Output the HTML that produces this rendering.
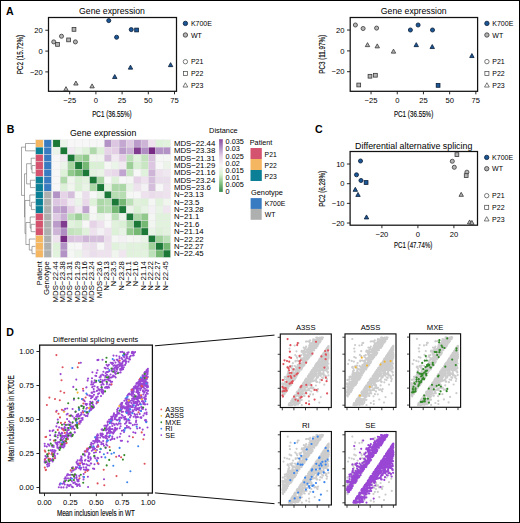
<!DOCTYPE html>
<html><head><meta charset="utf-8"><style>html,body{margin:0;padding:0;background:#fff;}svg{display:block;}</style></head><body>
<svg width="520" height="523" viewBox="0 0 520 523" font-family='"Liberation Sans", sans-serif'>
<rect x="0" y="0" width="520" height="523" fill="#fff"/>
<text x="6.00" y="15.20" font-size="10.6" font-weight="bold" fill="#000">A</text>
<line x1="45.30" y1="30.25" x2="48.50" y2="30.25" stroke="#111" stroke-width="0.9"/>
<text x="42.80" y="32.95" font-size="7.6" text-anchor="end">20</text>
<line x1="45.30" y1="51.10" x2="48.50" y2="51.10" stroke="#111" stroke-width="0.9"/>
<text x="42.80" y="53.80" font-size="7.6" text-anchor="end">0</text>
<line x1="45.30" y1="71.90" x2="48.50" y2="71.90" stroke="#111" stroke-width="0.9"/>
<text x="42.80" y="74.60" font-size="7.6" text-anchor="end">−20</text>
<line x1="69.70" y1="91.30" x2="69.70" y2="94.30" stroke="#111" stroke-width="0.9"/>
<text x="69.70" y="103.20" font-size="7.6" text-anchor="middle">−25</text>
<line x1="95.90" y1="91.30" x2="95.90" y2="94.30" stroke="#111" stroke-width="0.9"/>
<text x="95.90" y="103.20" font-size="7.6" text-anchor="middle">0</text>
<line x1="122.10" y1="91.30" x2="122.10" y2="94.30" stroke="#111" stroke-width="0.9"/>
<text x="122.10" y="103.20" font-size="7.6" text-anchor="middle">25</text>
<line x1="148.30" y1="91.30" x2="148.30" y2="94.30" stroke="#111" stroke-width="0.9"/>
<text x="148.30" y="103.20" font-size="7.6" text-anchor="middle">50</text>
<line x1="174.50" y1="91.30" x2="174.50" y2="94.30" stroke="#111" stroke-width="0.9"/>
<text x="174.50" y="103.20" font-size="7.6" text-anchor="middle">75</text>
<rect x="48.50" y="17.50" width="128.00" height="73.80" fill="none" stroke="#111" stroke-width="1.25"/>
<text x="112.00" y="13.60" font-size="9.4" text-anchor="middle" textLength="65.80" lengthAdjust="spacingAndGlyphs">Gene expression</text>
<text x="111.90" y="117.30" font-size="8.3" text-anchor="middle" textLength="39.40" lengthAdjust="spacingAndGlyphs" stroke="#1a1a1a" stroke-width="0.15">PC1 (36.55%)</text>
<line x1="347.00" y1="30.05" x2="350.20" y2="30.05" stroke="#111" stroke-width="0.9"/>
<text x="344.50" y="32.75" font-size="7.6" text-anchor="end">20</text>
<line x1="347.00" y1="50.90" x2="350.20" y2="50.90" stroke="#111" stroke-width="0.9"/>
<text x="344.50" y="53.60" font-size="7.6" text-anchor="end">0</text>
<line x1="347.00" y1="71.70" x2="350.20" y2="71.70" stroke="#111" stroke-width="0.9"/>
<text x="344.50" y="74.40" font-size="7.6" text-anchor="end">−20</text>
<line x1="371.05" y1="91.30" x2="371.05" y2="94.30" stroke="#111" stroke-width="0.9"/>
<text x="371.05" y="103.20" font-size="7.6" text-anchor="middle">−25</text>
<line x1="397.25" y1="91.30" x2="397.25" y2="94.30" stroke="#111" stroke-width="0.9"/>
<text x="397.25" y="103.20" font-size="7.6" text-anchor="middle">0</text>
<line x1="423.45" y1="91.30" x2="423.45" y2="94.30" stroke="#111" stroke-width="0.9"/>
<text x="423.45" y="103.20" font-size="7.6" text-anchor="middle">25</text>
<line x1="449.65" y1="91.30" x2="449.65" y2="94.30" stroke="#111" stroke-width="0.9"/>
<text x="449.65" y="103.20" font-size="7.6" text-anchor="middle">50</text>
<line x1="475.85" y1="91.30" x2="475.85" y2="94.30" stroke="#111" stroke-width="0.9"/>
<text x="475.85" y="103.20" font-size="7.6" text-anchor="middle">75</text>
<rect x="350.20" y="17.50" width="127.40" height="73.80" fill="none" stroke="#111" stroke-width="1.25"/>
<text x="413.75" y="13.60" font-size="9.4" text-anchor="middle" textLength="65.80" lengthAdjust="spacingAndGlyphs">Gene expression</text>
<text x="413.60" y="117.30" font-size="8.3" text-anchor="middle" textLength="39.40" lengthAdjust="spacingAndGlyphs" stroke="#1a1a1a" stroke-width="0.15">PC1 (36.55%)</text>
<text x="23.10" y="54.60" font-size="8.3" text-anchor="middle" textLength="39.30" lengthAdjust="spacingAndGlyphs" transform="rotate(-90 23.10 54.60)" stroke="#1a1a1a" stroke-width="0.15">PC2 (15.72%)</text>
<text x="324.70" y="54.30" font-size="8.3" text-anchor="middle" textLength="39.00" lengthAdjust="spacingAndGlyphs" transform="rotate(-90 324.70 54.30)" stroke="#1a1a1a" stroke-width="0.15">PC3 (11.97%)</text>
<circle cx="53.75" cy="41.90" r="2.05" fill="#b4b4b4" stroke="#3a3a3a" stroke-width="0.8"/>
<circle cx="61.50" cy="36.25" r="2.05" fill="#b4b4b4" stroke="#3a3a3a" stroke-width="0.8"/>
<circle cx="75.40" cy="41.90" r="2.05" fill="#b4b4b4" stroke="#3a3a3a" stroke-width="0.8"/>
<rect x="55.61" y="42.51" width="3.77" height="3.77" fill="#b4b4b4" stroke="#3a3a3a" stroke-width="0.8"/>
<rect x="66.71" y="38.01" width="3.77" height="3.77" fill="#b4b4b4" stroke="#3a3a3a" stroke-width="0.8"/>
<rect x="72.11" y="27.51" width="3.77" height="3.77" fill="#b4b4b4" stroke="#3a3a3a" stroke-width="0.8"/>
<polygon points="66.00,86.64 68.21,90.64 63.79,90.64" fill="#b4b4b4" stroke="#3a3a3a" stroke-width="0.8" stroke-linejoin="miter"/>
<polygon points="75.90,81.04 78.11,85.04 73.69,85.04" fill="#b4b4b4" stroke="#3a3a3a" stroke-width="0.8" stroke-linejoin="miter"/>
<polygon points="92.10,83.89 94.31,87.89 89.89,87.89" fill="#b4b4b4" stroke="#3a3a3a" stroke-width="0.8" stroke-linejoin="miter"/>
<circle cx="108.75" cy="20.60" r="2.05" fill="#1b5796" stroke="#0b1e38" stroke-width="0.8"/>
<circle cx="116.60" cy="37.25" r="2.05" fill="#1b5796" stroke="#0b1e38" stroke-width="0.8"/>
<circle cx="131.25" cy="29.60" r="2.05" fill="#1b5796" stroke="#0b1e38" stroke-width="0.8"/>
<rect x="134.71" y="28.11" width="3.77" height="3.77" fill="#1b5796" stroke="#0b1e38" stroke-width="0.8"/>
<polygon points="114.75,74.54 116.96,78.54 112.54,78.54" fill="#1b5796" stroke="#0b1e38" stroke-width="0.8" stroke-linejoin="miter"/>
<polygon points="130.50,65.14 132.71,69.14 128.29,69.14" fill="#1b5796" stroke="#0b1e38" stroke-width="0.8" stroke-linejoin="miter"/>
<polygon points="170.60,62.64 172.81,66.64 168.39,66.64" fill="#1b5796" stroke="#0b1e38" stroke-width="0.8" stroke-linejoin="miter"/>
<circle cx="355.40" cy="25.00" r="2.05" fill="#b4b4b4" stroke="#3a3a3a" stroke-width="0.8"/>
<circle cx="363.10" cy="28.50" r="2.05" fill="#b4b4b4" stroke="#3a3a3a" stroke-width="0.8"/>
<circle cx="376.60" cy="28.10" r="2.05" fill="#b4b4b4" stroke="#3a3a3a" stroke-width="0.8"/>
<polygon points="367.50,42.64 369.71,46.64 365.29,46.64" fill="#b4b4b4" stroke="#3a3a3a" stroke-width="0.8" stroke-linejoin="miter"/>
<polygon points="377.25,43.89 379.46,47.89 375.04,47.89" fill="#b4b4b4" stroke="#3a3a3a" stroke-width="0.8" stroke-linejoin="miter"/>
<polygon points="393.50,49.14 395.71,53.14 391.29,53.14" fill="#b4b4b4" stroke="#3a3a3a" stroke-width="0.8" stroke-linejoin="miter"/>
<rect x="368.11" y="74.36" width="3.77" height="3.77" fill="#b4b4b4" stroke="#3a3a3a" stroke-width="0.8"/>
<rect x="373.51" y="73.36" width="3.77" height="3.77" fill="#b4b4b4" stroke="#3a3a3a" stroke-width="0.8"/>
<rect x="356.86" y="83.11" width="3.77" height="3.77" fill="#b4b4b4" stroke="#3a3a3a" stroke-width="0.8"/>
<circle cx="410.40" cy="30.00" r="2.05" fill="#1b5796" stroke="#0b1e38" stroke-width="0.8"/>
<circle cx="418.10" cy="25.00" r="2.05" fill="#1b5796" stroke="#0b1e38" stroke-width="0.8"/>
<circle cx="432.50" cy="30.00" r="2.05" fill="#1b5796" stroke="#0b1e38" stroke-width="0.8"/>
<polygon points="416.25,42.64 418.46,46.64 414.04,46.64" fill="#1b5796" stroke="#0b1e38" stroke-width="0.8" stroke-linejoin="miter"/>
<polygon points="432.25,44.54 434.46,48.54 430.04,48.54" fill="#1b5796" stroke="#0b1e38" stroke-width="0.8" stroke-linejoin="miter"/>
<polygon points="471.90,53.54 474.11,57.54 469.69,57.54" fill="#1b5796" stroke="#0b1e38" stroke-width="0.8" stroke-linejoin="miter"/>
<rect x="436.21" y="83.51" width="3.77" height="3.77" fill="#1b5796" stroke="#0b1e38" stroke-width="0.8"/>
<circle cx="185.40" cy="23.40" r="2.20" fill="#1b5796" stroke="#0b1e38" stroke-width="0.8"/>
<circle cx="185.40" cy="35.00" r="2.20" fill="#b4b4b4" stroke="#3a3a3a" stroke-width="0.8"/>
<circle cx="185.40" cy="61.70" r="2.20" fill="#fff" stroke="#444" stroke-width="0.7"/>
<rect x="183.38" y="71.48" width="4.05" height="4.05" fill="#fff" stroke="#444" stroke-width="0.7"/>
<polygon points="185.40,82.77 187.78,87.06 183.02,87.06" fill="#fff" stroke="#444" stroke-width="0.7" stroke-linejoin="miter"/>
<text x="190.90" y="25.90" font-size="7.0">K700E</text>
<text x="190.90" y="37.50" font-size="7.0">WT</text>
<text x="190.90" y="64.20" font-size="7.0">P21</text>
<text x="190.90" y="76.00" font-size="7.0">P22</text>
<text x="190.90" y="87.80" font-size="7.0">P23</text>
<circle cx="486.90" cy="23.40" r="2.20" fill="#1b5796" stroke="#0b1e38" stroke-width="0.8"/>
<circle cx="486.90" cy="35.00" r="2.20" fill="#b4b4b4" stroke="#3a3a3a" stroke-width="0.8"/>
<circle cx="486.90" cy="61.60" r="2.20" fill="#fff" stroke="#444" stroke-width="0.7"/>
<rect x="484.88" y="71.38" width="4.05" height="4.05" fill="#fff" stroke="#444" stroke-width="0.7"/>
<polygon points="486.90,82.77 489.28,87.06 484.52,87.06" fill="#fff" stroke="#444" stroke-width="0.7" stroke-linejoin="miter"/>
<text x="492.30" y="25.90" font-size="7.0">K700E</text>
<text x="492.30" y="37.50" font-size="7.0">WT</text>
<text x="492.30" y="64.10" font-size="7.0">P21</text>
<text x="492.30" y="75.90" font-size="7.0">P22</text>
<text x="492.30" y="87.80" font-size="7.0">P23</text>
<text x="315.00" y="133.20" font-size="10.6" font-weight="bold" fill="#000">C</text>
<line x1="346.90" y1="164.03" x2="350.10" y2="164.03" stroke="#111" stroke-width="0.9"/>
<text x="344.60" y="166.73" font-size="7.6" text-anchor="end">10</text>
<line x1="346.90" y1="183.70" x2="350.10" y2="183.70" stroke="#111" stroke-width="0.9"/>
<text x="344.60" y="186.40" font-size="7.6" text-anchor="end">0</text>
<line x1="346.90" y1="203.37" x2="350.10" y2="203.37" stroke="#111" stroke-width="0.9"/>
<text x="344.60" y="206.07" font-size="7.6" text-anchor="end">−10</text>
<line x1="346.90" y1="223.04" x2="350.10" y2="223.04" stroke="#111" stroke-width="0.9"/>
<text x="344.60" y="225.74" font-size="7.6" text-anchor="end">−20</text>
<line x1="381.90" y1="225.20" x2="381.90" y2="228.20" stroke="#111" stroke-width="0.9"/>
<text x="381.90" y="236.80" font-size="7.6" text-anchor="middle">−20</text>
<line x1="417.90" y1="225.20" x2="417.90" y2="228.20" stroke="#111" stroke-width="0.9"/>
<text x="417.90" y="236.80" font-size="7.6" text-anchor="middle">0</text>
<line x1="453.90" y1="225.20" x2="453.90" y2="228.20" stroke="#111" stroke-width="0.9"/>
<text x="453.90" y="236.80" font-size="7.6" text-anchor="middle">20</text>
<rect x="350.10" y="151.50" width="127.40" height="73.70" fill="none" stroke="#111" stroke-width="1.25"/>
<text x="413.70" y="148.50" font-size="9.2" text-anchor="middle" textLength="117.30" lengthAdjust="spacingAndGlyphs">Differential alternative splicing</text>
<text x="413.20" y="248.20" font-size="8.3" text-anchor="middle" textLength="38.30" lengthAdjust="spacingAndGlyphs" stroke="#1a1a1a" stroke-width="0.15">PC1 (47.74%)</text>
<text x="324.60" y="188.80" font-size="8.3" text-anchor="middle" textLength="36.00" lengthAdjust="spacingAndGlyphs" transform="rotate(-90 324.60 188.80)" stroke="#1a1a1a" stroke-width="0.15">PC2 (6.28%)</text>
<rect x="455.01" y="152.71" width="3.77" height="3.77" fill="#b4b4b4" stroke="#3a3a3a" stroke-width="0.8"/>
<circle cx="452.30" cy="161.25" r="2.05" fill="#b4b4b4" stroke="#3a3a3a" stroke-width="0.8"/>
<circle cx="454.30" cy="167.30" r="2.05" fill="#b4b4b4" stroke="#3a3a3a" stroke-width="0.8"/>
<circle cx="466.90" cy="172.20" r="2.05" fill="#b4b4b4" stroke="#3a3a3a" stroke-width="0.8"/>
<rect x="464.31" y="173.71" width="3.77" height="3.77" fill="#b4b4b4" stroke="#3a3a3a" stroke-width="0.8"/>
<polygon points="461.20,192.34 463.41,196.34 458.99,196.34" fill="#b4b4b4" stroke="#3a3a3a" stroke-width="0.8" stroke-linejoin="miter"/>
<polygon points="469.60,219.94 471.81,223.94 467.39,223.94" fill="#b4b4b4" stroke="#3a3a3a" stroke-width="0.8" stroke-linejoin="miter"/>
<polygon points="471.90,220.44 474.11,224.44 469.69,224.44" fill="#b4b4b4" stroke="#3a3a3a" stroke-width="0.8" stroke-linejoin="miter"/>
<circle cx="360.50" cy="161.00" r="2.05" fill="#1b5796" stroke="#0b1e38" stroke-width="0.8"/>
<circle cx="356.50" cy="174.80" r="2.05" fill="#1b5796" stroke="#0b1e38" stroke-width="0.8"/>
<circle cx="361.00" cy="180.50" r="2.05" fill="#1b5796" stroke="#0b1e38" stroke-width="0.8"/>
<rect x="364.21" y="180.61" width="3.77" height="3.77" fill="#1b5796" stroke="#0b1e38" stroke-width="0.8"/>
<polygon points="355.30,187.34 357.51,191.34 353.09,191.34" fill="#1b5796" stroke="#0b1e38" stroke-width="0.8" stroke-linejoin="miter"/>
<polygon points="358.00,192.44 360.21,196.44 355.79,196.44" fill="#1b5796" stroke="#0b1e38" stroke-width="0.8" stroke-linejoin="miter"/>
<polygon points="366.50,214.94 368.71,218.94 364.29,218.94" fill="#1b5796" stroke="#0b1e38" stroke-width="0.8" stroke-linejoin="miter"/>
<circle cx="486.70" cy="157.40" r="2.20" fill="#1b5796" stroke="#0b1e38" stroke-width="0.8"/>
<circle cx="486.70" cy="168.70" r="2.20" fill="#b4b4b4" stroke="#3a3a3a" stroke-width="0.8"/>
<circle cx="486.70" cy="195.70" r="2.20" fill="#fff" stroke="#444" stroke-width="0.7"/>
<rect x="484.68" y="205.28" width="4.05" height="4.05" fill="#fff" stroke="#444" stroke-width="0.7"/>
<polygon points="486.70,216.67 489.08,220.96 484.32,220.96" fill="#fff" stroke="#444" stroke-width="0.7" stroke-linejoin="miter"/>
<text x="492.10" y="159.90" font-size="7.0">K700E</text>
<text x="492.10" y="171.20" font-size="7.0">WT</text>
<text x="492.10" y="198.20" font-size="7.0">P21</text>
<text x="492.10" y="209.80" font-size="7.0">P22</text>
<text x="492.10" y="221.70" font-size="7.0">P23</text>
<text x="6.70" y="133.20" font-size="10.6" font-weight="bold" fill="#000">B</text>
<text x="70.00" y="136.20" font-size="9.4" textLength="66.30" lengthAdjust="spacingAndGlyphs">Gene expression</text>
<rect x="52.90" y="139.80" width="7.35" height="7.35" fill="#1b7837" stroke="#e6e6e6" stroke-width="0.35"/>
<rect x="60.25" y="139.80" width="7.35" height="7.35" fill="#eaf4e8" stroke="#e6e6e6" stroke-width="0.35"/>
<rect x="67.60" y="139.80" width="7.35" height="7.35" fill="#f7f7f7" stroke="#e6e6e6" stroke-width="0.35"/>
<rect x="74.95" y="139.80" width="7.35" height="7.35" fill="#f7f7f7" stroke="#e6e6e6" stroke-width="0.35"/>
<rect x="82.30" y="139.80" width="7.35" height="7.35" fill="#f7f7f7" stroke="#e6e6e6" stroke-width="0.35"/>
<rect x="89.65" y="139.80" width="7.35" height="7.35" fill="#f7f7f7" stroke="#e6e6e6" stroke-width="0.35"/>
<rect x="97.00" y="139.80" width="7.35" height="7.35" fill="#f7f7f7" stroke="#e6e6e6" stroke-width="0.35"/>
<rect x="104.35" y="139.80" width="7.35" height="7.35" fill="#b393c6" stroke="#e6e6e6" stroke-width="0.35"/>
<rect x="111.70" y="139.80" width="7.35" height="7.35" fill="#dcc6e1" stroke="#e6e6e6" stroke-width="0.35"/>
<rect x="119.05" y="139.80" width="7.35" height="7.35" fill="#c4a8d1" stroke="#e6e6e6" stroke-width="0.35"/>
<rect x="126.40" y="139.80" width="7.35" height="7.35" fill="#dfcae3" stroke="#e6e6e6" stroke-width="0.35"/>
<rect x="133.75" y="139.80" width="7.35" height="7.35" fill="#ba9bca" stroke="#e6e6e6" stroke-width="0.35"/>
<rect x="141.10" y="139.80" width="7.35" height="7.35" fill="#ceb5d8" stroke="#e6e6e6" stroke-width="0.35"/>
<rect x="148.45" y="139.80" width="7.35" height="7.35" fill="#ede2ee" stroke="#e6e6e6" stroke-width="0.35"/>
<rect x="155.80" y="139.80" width="7.35" height="7.35" fill="#def1d9" stroke="#e6e6e6" stroke-width="0.35"/>
<rect x="163.15" y="139.80" width="7.35" height="7.35" fill="#e1f2dd" stroke="#e6e6e6" stroke-width="0.35"/>
<rect x="52.90" y="147.15" width="7.35" height="7.35" fill="#eaf4e8" stroke="#e6e6e6" stroke-width="0.35"/>
<rect x="60.25" y="147.15" width="7.35" height="7.35" fill="#1b7837" stroke="#e6e6e6" stroke-width="0.35"/>
<rect x="67.60" y="147.15" width="7.35" height="7.35" fill="#f1eaf2" stroke="#e6e6e6" stroke-width="0.35"/>
<rect x="74.95" y="147.15" width="7.35" height="7.35" fill="#eaf4e8" stroke="#e6e6e6" stroke-width="0.35"/>
<rect x="82.30" y="147.15" width="7.35" height="7.35" fill="#def1d9" stroke="#e6e6e6" stroke-width="0.35"/>
<rect x="89.65" y="147.15" width="7.35" height="7.35" fill="#b1daac" stroke="#e6e6e6" stroke-width="0.35"/>
<rect x="97.00" y="147.15" width="7.35" height="7.35" fill="#dcf1d7" stroke="#e6e6e6" stroke-width="0.35"/>
<rect x="104.35" y="147.15" width="7.35" height="7.35" fill="#e6d3e7" stroke="#e6e6e6" stroke-width="0.35"/>
<rect x="111.70" y="147.15" width="7.35" height="7.35" fill="#e3cee5" stroke="#e6e6e6" stroke-width="0.35"/>
<rect x="119.05" y="147.15" width="7.35" height="7.35" fill="#ba9bca" stroke="#e6e6e6" stroke-width="0.35"/>
<rect x="126.40" y="147.15" width="7.35" height="7.35" fill="#cbb0d6" stroke="#e6e6e6" stroke-width="0.35"/>
<rect x="133.75" y="147.15" width="7.35" height="7.35" fill="#803c8f" stroke="#e6e6e6" stroke-width="0.35"/>
<rect x="141.10" y="147.15" width="7.35" height="7.35" fill="#b08ec4" stroke="#e6e6e6" stroke-width="0.35"/>
<rect x="148.45" y="147.15" width="7.35" height="7.35" fill="#762a83" stroke="#e6e6e6" stroke-width="0.35"/>
<rect x="155.80" y="147.15" width="7.35" height="7.35" fill="#b393c6" stroke="#e6e6e6" stroke-width="0.35"/>
<rect x="163.15" y="147.15" width="7.35" height="7.35" fill="#b393c6" stroke="#e6e6e6" stroke-width="0.35"/>
<rect x="52.90" y="154.50" width="7.35" height="7.35" fill="#f7f7f7" stroke="#e6e6e6" stroke-width="0.35"/>
<rect x="60.25" y="154.50" width="7.35" height="7.35" fill="#f1eaf2" stroke="#e6e6e6" stroke-width="0.35"/>
<rect x="67.60" y="154.50" width="7.35" height="7.35" fill="#1b7837" stroke="#e6e6e6" stroke-width="0.35"/>
<rect x="74.95" y="154.50" width="7.35" height="7.35" fill="#a7d5a2" stroke="#e6e6e6" stroke-width="0.35"/>
<rect x="82.30" y="154.50" width="7.35" height="7.35" fill="#91c98d" stroke="#e6e6e6" stroke-width="0.35"/>
<rect x="89.65" y="154.50" width="7.35" height="7.35" fill="#f0f5ee" stroke="#e6e6e6" stroke-width="0.35"/>
<rect x="97.00" y="154.50" width="7.35" height="7.35" fill="#f0f5ee" stroke="#e6e6e6" stroke-width="0.35"/>
<rect x="104.35" y="154.50" width="7.35" height="7.35" fill="#d5bddc" stroke="#e6e6e6" stroke-width="0.35"/>
<rect x="111.70" y="154.50" width="7.35" height="7.35" fill="#f1eaf2" stroke="#e6e6e6" stroke-width="0.35"/>
<rect x="119.05" y="154.50" width="7.35" height="7.35" fill="#e3cee5" stroke="#e6e6e6" stroke-width="0.35"/>
<rect x="126.40" y="154.50" width="7.35" height="7.35" fill="#bce0b7" stroke="#e6e6e6" stroke-width="0.35"/>
<rect x="133.75" y="154.50" width="7.35" height="7.35" fill="#e1f2dd" stroke="#e6e6e6" stroke-width="0.35"/>
<rect x="141.10" y="154.50" width="7.35" height="7.35" fill="#c2e3bc" stroke="#e6e6e6" stroke-width="0.35"/>
<rect x="148.45" y="154.50" width="7.35" height="7.35" fill="#d8c2de" stroke="#e6e6e6" stroke-width="0.35"/>
<rect x="155.80" y="154.50" width="7.35" height="7.35" fill="#f5f7f5" stroke="#e6e6e6" stroke-width="0.35"/>
<rect x="163.15" y="154.50" width="7.35" height="7.35" fill="#f5f7f5" stroke="#e6e6e6" stroke-width="0.35"/>
<rect x="52.90" y="161.85" width="7.35" height="7.35" fill="#f7f7f7" stroke="#e6e6e6" stroke-width="0.35"/>
<rect x="60.25" y="161.85" width="7.35" height="7.35" fill="#eaf4e8" stroke="#e6e6e6" stroke-width="0.35"/>
<rect x="67.60" y="161.85" width="7.35" height="7.35" fill="#a7d5a2" stroke="#e6e6e6" stroke-width="0.35"/>
<rect x="74.95" y="161.85" width="7.35" height="7.35" fill="#1b7837" stroke="#e6e6e6" stroke-width="0.35"/>
<rect x="82.30" y="161.85" width="7.35" height="7.35" fill="#75b874" stroke="#e6e6e6" stroke-width="0.35"/>
<rect x="89.65" y="161.85" width="7.35" height="7.35" fill="#daf0d4" stroke="#e6e6e6" stroke-width="0.35"/>
<rect x="97.00" y="161.85" width="7.35" height="7.35" fill="#daf0d4" stroke="#e6e6e6" stroke-width="0.35"/>
<rect x="104.35" y="161.85" width="7.35" height="7.35" fill="#f5f7f5" stroke="#e6e6e6" stroke-width="0.35"/>
<rect x="111.70" y="161.85" width="7.35" height="7.35" fill="#eaf4e8" stroke="#e6e6e6" stroke-width="0.35"/>
<rect x="119.05" y="161.85" width="7.35" height="7.35" fill="#f1eaf2" stroke="#e6e6e6" stroke-width="0.35"/>
<rect x="126.40" y="161.85" width="7.35" height="7.35" fill="#9ccf97" stroke="#e6e6e6" stroke-width="0.35"/>
<rect x="133.75" y="161.85" width="7.35" height="7.35" fill="#daf0d4" stroke="#e6e6e6" stroke-width="0.35"/>
<rect x="141.10" y="161.85" width="7.35" height="7.35" fill="#c7e6c1" stroke="#e6e6e6" stroke-width="0.35"/>
<rect x="148.45" y="161.85" width="7.35" height="7.35" fill="#dcc6e1" stroke="#e6e6e6" stroke-width="0.35"/>
<rect x="155.80" y="161.85" width="7.35" height="7.35" fill="#f7f7f7" stroke="#e6e6e6" stroke-width="0.35"/>
<rect x="163.15" y="161.85" width="7.35" height="7.35" fill="#ecf4ea" stroke="#e6e6e6" stroke-width="0.35"/>
<rect x="52.90" y="169.20" width="7.35" height="7.35" fill="#f7f7f7" stroke="#e6e6e6" stroke-width="0.35"/>
<rect x="60.25" y="169.20" width="7.35" height="7.35" fill="#def1d9" stroke="#e6e6e6" stroke-width="0.35"/>
<rect x="67.60" y="169.20" width="7.35" height="7.35" fill="#91c98d" stroke="#e6e6e6" stroke-width="0.35"/>
<rect x="74.95" y="169.20" width="7.35" height="7.35" fill="#75b874" stroke="#e6e6e6" stroke-width="0.35"/>
<rect x="82.30" y="169.20" width="7.35" height="7.35" fill="#1b7837" stroke="#e6e6e6" stroke-width="0.35"/>
<rect x="89.65" y="169.20" width="7.35" height="7.35" fill="#e3f2df" stroke="#e6e6e6" stroke-width="0.35"/>
<rect x="97.00" y="169.20" width="7.35" height="7.35" fill="#e9f4e6" stroke="#e6e6e6" stroke-width="0.35"/>
<rect x="104.35" y="169.20" width="7.35" height="7.35" fill="#ebdeec" stroke="#e6e6e6" stroke-width="0.35"/>
<rect x="111.70" y="169.20" width="7.35" height="7.35" fill="#e9d8ea" stroke="#e6e6e6" stroke-width="0.35"/>
<rect x="119.05" y="169.20" width="7.35" height="7.35" fill="#c1a4cf" stroke="#e6e6e6" stroke-width="0.35"/>
<rect x="126.40" y="169.20" width="7.35" height="7.35" fill="#c7e6c1" stroke="#e6e6e6" stroke-width="0.35"/>
<rect x="133.75" y="169.20" width="7.35" height="7.35" fill="#f7f7f7" stroke="#e6e6e6" stroke-width="0.35"/>
<rect x="141.10" y="169.20" width="7.35" height="7.35" fill="#e0f2db" stroke="#e6e6e6" stroke-width="0.35"/>
<rect x="148.45" y="169.20" width="7.35" height="7.35" fill="#ceb5d8" stroke="#e6e6e6" stroke-width="0.35"/>
<rect x="155.80" y="169.20" width="7.35" height="7.35" fill="#ede2ee" stroke="#e6e6e6" stroke-width="0.35"/>
<rect x="163.15" y="169.20" width="7.35" height="7.35" fill="#f0e8f1" stroke="#e6e6e6" stroke-width="0.35"/>
<rect x="52.90" y="176.55" width="7.35" height="7.35" fill="#f7f7f7" stroke="#e6e6e6" stroke-width="0.35"/>
<rect x="60.25" y="176.55" width="7.35" height="7.35" fill="#b1daac" stroke="#e6e6e6" stroke-width="0.35"/>
<rect x="67.60" y="176.55" width="7.35" height="7.35" fill="#f0f5ee" stroke="#e6e6e6" stroke-width="0.35"/>
<rect x="74.95" y="176.55" width="7.35" height="7.35" fill="#daf0d4" stroke="#e6e6e6" stroke-width="0.35"/>
<rect x="82.30" y="176.55" width="7.35" height="7.35" fill="#e3f2df" stroke="#e6e6e6" stroke-width="0.35"/>
<rect x="89.65" y="176.55" width="7.35" height="7.35" fill="#1b7837" stroke="#e6e6e6" stroke-width="0.35"/>
<rect x="97.00" y="176.55" width="7.35" height="7.35" fill="#acd8a7" stroke="#e6e6e6" stroke-width="0.35"/>
<rect x="104.35" y="176.55" width="7.35" height="7.35" fill="#f7f7f7" stroke="#e6e6e6" stroke-width="0.35"/>
<rect x="111.70" y="176.55" width="7.35" height="7.35" fill="#def1d9" stroke="#e6e6e6" stroke-width="0.35"/>
<rect x="119.05" y="176.55" width="7.35" height="7.35" fill="#f7f7f7" stroke="#e6e6e6" stroke-width="0.35"/>
<rect x="126.40" y="176.55" width="7.35" height="7.35" fill="#f3f6f3" stroke="#e6e6e6" stroke-width="0.35"/>
<rect x="133.75" y="176.55" width="7.35" height="7.35" fill="#e6d3e7" stroke="#e6e6e6" stroke-width="0.35"/>
<rect x="141.10" y="176.55" width="7.35" height="7.35" fill="#ede2ee" stroke="#e6e6e6" stroke-width="0.35"/>
<rect x="148.45" y="176.55" width="7.35" height="7.35" fill="#d5bddc" stroke="#e6e6e6" stroke-width="0.35"/>
<rect x="155.80" y="176.55" width="7.35" height="7.35" fill="#ebdeec" stroke="#e6e6e6" stroke-width="0.35"/>
<rect x="163.15" y="176.55" width="7.35" height="7.35" fill="#ebdeec" stroke="#e6e6e6" stroke-width="0.35"/>
<rect x="52.90" y="183.90" width="7.35" height="7.35" fill="#f7f7f7" stroke="#e6e6e6" stroke-width="0.35"/>
<rect x="60.25" y="183.90" width="7.35" height="7.35" fill="#dcf1d7" stroke="#e6e6e6" stroke-width="0.35"/>
<rect x="67.60" y="183.90" width="7.35" height="7.35" fill="#f0f5ee" stroke="#e6e6e6" stroke-width="0.35"/>
<rect x="74.95" y="183.90" width="7.35" height="7.35" fill="#daf0d4" stroke="#e6e6e6" stroke-width="0.35"/>
<rect x="82.30" y="183.90" width="7.35" height="7.35" fill="#e9f4e6" stroke="#e6e6e6" stroke-width="0.35"/>
<rect x="89.65" y="183.90" width="7.35" height="7.35" fill="#acd8a7" stroke="#e6e6e6" stroke-width="0.35"/>
<rect x="97.00" y="183.90" width="7.35" height="7.35" fill="#1b7837" stroke="#e6e6e6" stroke-width="0.35"/>
<rect x="104.35" y="183.90" width="7.35" height="7.35" fill="#e5f3e1" stroke="#e6e6e6" stroke-width="0.35"/>
<rect x="111.70" y="183.90" width="7.35" height="7.35" fill="#acd8a7" stroke="#e6e6e6" stroke-width="0.35"/>
<rect x="119.05" y="183.90" width="7.35" height="7.35" fill="#acd8a7" stroke="#e6e6e6" stroke-width="0.35"/>
<rect x="126.40" y="183.90" width="7.35" height="7.35" fill="#e7f3e4" stroke="#e6e6e6" stroke-width="0.35"/>
<rect x="133.75" y="183.90" width="7.35" height="7.35" fill="#ede2ee" stroke="#e6e6e6" stroke-width="0.35"/>
<rect x="141.10" y="183.90" width="7.35" height="7.35" fill="#f4f1f4" stroke="#e6e6e6" stroke-width="0.35"/>
<rect x="148.45" y="183.90" width="7.35" height="7.35" fill="#d5bddc" stroke="#e6e6e6" stroke-width="0.35"/>
<rect x="155.80" y="183.90" width="7.35" height="7.35" fill="#f7f7f7" stroke="#e6e6e6" stroke-width="0.35"/>
<rect x="163.15" y="183.90" width="7.35" height="7.35" fill="#ede2ee" stroke="#e6e6e6" stroke-width="0.35"/>
<rect x="52.90" y="191.25" width="7.35" height="7.35" fill="#b393c6" stroke="#e6e6e6" stroke-width="0.35"/>
<rect x="60.25" y="191.25" width="7.35" height="7.35" fill="#e6d3e7" stroke="#e6e6e6" stroke-width="0.35"/>
<rect x="67.60" y="191.25" width="7.35" height="7.35" fill="#d5bddc" stroke="#e6e6e6" stroke-width="0.35"/>
<rect x="74.95" y="191.25" width="7.35" height="7.35" fill="#f5f7f5" stroke="#e6e6e6" stroke-width="0.35"/>
<rect x="82.30" y="191.25" width="7.35" height="7.35" fill="#ebdeec" stroke="#e6e6e6" stroke-width="0.35"/>
<rect x="89.65" y="191.25" width="7.35" height="7.35" fill="#f7f7f7" stroke="#e6e6e6" stroke-width="0.35"/>
<rect x="97.00" y="191.25" width="7.35" height="7.35" fill="#e5f3e1" stroke="#e6e6e6" stroke-width="0.35"/>
<rect x="104.35" y="191.25" width="7.35" height="7.35" fill="#1b7837" stroke="#e6e6e6" stroke-width="0.35"/>
<rect x="111.70" y="191.25" width="7.35" height="7.35" fill="#b7ddb2" stroke="#e6e6e6" stroke-width="0.35"/>
<rect x="119.05" y="191.25" width="7.35" height="7.35" fill="#b7ddb2" stroke="#e6e6e6" stroke-width="0.35"/>
<rect x="126.40" y="191.25" width="7.35" height="7.35" fill="#f5f7f5" stroke="#e6e6e6" stroke-width="0.35"/>
<rect x="133.75" y="191.25" width="7.35" height="7.35" fill="#f7f7f7" stroke="#e6e6e6" stroke-width="0.35"/>
<rect x="141.10" y="191.25" width="7.35" height="7.35" fill="#ede2ee" stroke="#e6e6e6" stroke-width="0.35"/>
<rect x="148.45" y="191.25" width="7.35" height="7.35" fill="#ebdceb" stroke="#e6e6e6" stroke-width="0.35"/>
<rect x="155.80" y="191.25" width="7.35" height="7.35" fill="#ece0ed" stroke="#e6e6e6" stroke-width="0.35"/>
<rect x="163.15" y="191.25" width="7.35" height="7.35" fill="#ede2ee" stroke="#e6e6e6" stroke-width="0.35"/>
<rect x="52.90" y="198.60" width="7.35" height="7.35" fill="#dcc6e1" stroke="#e6e6e6" stroke-width="0.35"/>
<rect x="60.25" y="198.60" width="7.35" height="7.35" fill="#e3cee5" stroke="#e6e6e6" stroke-width="0.35"/>
<rect x="67.60" y="198.60" width="7.35" height="7.35" fill="#f1eaf2" stroke="#e6e6e6" stroke-width="0.35"/>
<rect x="74.95" y="198.60" width="7.35" height="7.35" fill="#eaf4e8" stroke="#e6e6e6" stroke-width="0.35"/>
<rect x="82.30" y="198.60" width="7.35" height="7.35" fill="#e9d8ea" stroke="#e6e6e6" stroke-width="0.35"/>
<rect x="89.65" y="198.60" width="7.35" height="7.35" fill="#def1d9" stroke="#e6e6e6" stroke-width="0.35"/>
<rect x="97.00" y="198.60" width="7.35" height="7.35" fill="#acd8a7" stroke="#e6e6e6" stroke-width="0.35"/>
<rect x="104.35" y="198.60" width="7.35" height="7.35" fill="#b7ddb2" stroke="#e6e6e6" stroke-width="0.35"/>
<rect x="111.70" y="198.60" width="7.35" height="7.35" fill="#1b7837" stroke="#e6e6e6" stroke-width="0.35"/>
<rect x="119.05" y="198.60" width="7.35" height="7.35" fill="#75b874" stroke="#e6e6e6" stroke-width="0.35"/>
<rect x="126.40" y="198.60" width="7.35" height="7.35" fill="#bce0b7" stroke="#e6e6e6" stroke-width="0.35"/>
<rect x="133.75" y="198.60" width="7.35" height="7.35" fill="#e0f2db" stroke="#e6e6e6" stroke-width="0.35"/>
<rect x="141.10" y="198.60" width="7.35" height="7.35" fill="#dcf1d7" stroke="#e6e6e6" stroke-width="0.35"/>
<rect x="148.45" y="198.60" width="7.35" height="7.35" fill="#f3f6f3" stroke="#e6e6e6" stroke-width="0.35"/>
<rect x="155.80" y="198.60" width="7.35" height="7.35" fill="#e0f2db" stroke="#e6e6e6" stroke-width="0.35"/>
<rect x="163.15" y="198.60" width="7.35" height="7.35" fill="#f0f5ee" stroke="#e6e6e6" stroke-width="0.35"/>
<rect x="52.90" y="205.95" width="7.35" height="7.35" fill="#c4a8d1" stroke="#e6e6e6" stroke-width="0.35"/>
<rect x="60.25" y="205.95" width="7.35" height="7.35" fill="#ba9bca" stroke="#e6e6e6" stroke-width="0.35"/>
<rect x="67.60" y="205.95" width="7.35" height="7.35" fill="#e3cee5" stroke="#e6e6e6" stroke-width="0.35"/>
<rect x="74.95" y="205.95" width="7.35" height="7.35" fill="#f1eaf2" stroke="#e6e6e6" stroke-width="0.35"/>
<rect x="82.30" y="205.95" width="7.35" height="7.35" fill="#c1a4cf" stroke="#e6e6e6" stroke-width="0.35"/>
<rect x="89.65" y="205.95" width="7.35" height="7.35" fill="#f7f7f7" stroke="#e6e6e6" stroke-width="0.35"/>
<rect x="97.00" y="205.95" width="7.35" height="7.35" fill="#acd8a7" stroke="#e6e6e6" stroke-width="0.35"/>
<rect x="104.35" y="205.95" width="7.35" height="7.35" fill="#b7ddb2" stroke="#e6e6e6" stroke-width="0.35"/>
<rect x="111.70" y="205.95" width="7.35" height="7.35" fill="#75b874" stroke="#e6e6e6" stroke-width="0.35"/>
<rect x="119.05" y="205.95" width="7.35" height="7.35" fill="#1b7837" stroke="#e6e6e6" stroke-width="0.35"/>
<rect x="126.40" y="205.95" width="7.35" height="7.35" fill="#ecf4ea" stroke="#e6e6e6" stroke-width="0.35"/>
<rect x="133.75" y="205.95" width="7.35" height="7.35" fill="#daf0d4" stroke="#e6e6e6" stroke-width="0.35"/>
<rect x="141.10" y="205.95" width="7.35" height="7.35" fill="#e7f3e4" stroke="#e6e6e6" stroke-width="0.35"/>
<rect x="148.45" y="205.95" width="7.35" height="7.35" fill="#f4f1f4" stroke="#e6e6e6" stroke-width="0.35"/>
<rect x="155.80" y="205.95" width="7.35" height="7.35" fill="#e7f3e4" stroke="#e6e6e6" stroke-width="0.35"/>
<rect x="163.15" y="205.95" width="7.35" height="7.35" fill="#efe6f0" stroke="#e6e6e6" stroke-width="0.35"/>
<rect x="52.90" y="213.30" width="7.35" height="7.35" fill="#dfcae3" stroke="#e6e6e6" stroke-width="0.35"/>
<rect x="60.25" y="213.30" width="7.35" height="7.35" fill="#cbb0d6" stroke="#e6e6e6" stroke-width="0.35"/>
<rect x="67.60" y="213.30" width="7.35" height="7.35" fill="#bce0b7" stroke="#e6e6e6" stroke-width="0.35"/>
<rect x="74.95" y="213.30" width="7.35" height="7.35" fill="#9ccf97" stroke="#e6e6e6" stroke-width="0.35"/>
<rect x="82.30" y="213.30" width="7.35" height="7.35" fill="#c7e6c1" stroke="#e6e6e6" stroke-width="0.35"/>
<rect x="89.65" y="213.30" width="7.35" height="7.35" fill="#f3f6f3" stroke="#e6e6e6" stroke-width="0.35"/>
<rect x="97.00" y="213.30" width="7.35" height="7.35" fill="#e7f3e4" stroke="#e6e6e6" stroke-width="0.35"/>
<rect x="104.35" y="213.30" width="7.35" height="7.35" fill="#f5f7f5" stroke="#e6e6e6" stroke-width="0.35"/>
<rect x="111.70" y="213.30" width="7.35" height="7.35" fill="#bce0b7" stroke="#e6e6e6" stroke-width="0.35"/>
<rect x="119.05" y="213.30" width="7.35" height="7.35" fill="#ecf4ea" stroke="#e6e6e6" stroke-width="0.35"/>
<rect x="126.40" y="213.30" width="7.35" height="7.35" fill="#1b7837" stroke="#e6e6e6" stroke-width="0.35"/>
<rect x="133.75" y="213.30" width="7.35" height="7.35" fill="#acd8a7" stroke="#e6e6e6" stroke-width="0.35"/>
<rect x="141.10" y="213.30" width="7.35" height="7.35" fill="#91c98d" stroke="#e6e6e6" stroke-width="0.35"/>
<rect x="148.45" y="213.30" width="7.35" height="7.35" fill="#f3f6f3" stroke="#e6e6e6" stroke-width="0.35"/>
<rect x="155.80" y="213.30" width="7.35" height="7.35" fill="#e0f2db" stroke="#e6e6e6" stroke-width="0.35"/>
<rect x="163.15" y="213.30" width="7.35" height="7.35" fill="#e0f2db" stroke="#e6e6e6" stroke-width="0.35"/>
<rect x="52.90" y="220.65" width="7.35" height="7.35" fill="#ba9bca" stroke="#e6e6e6" stroke-width="0.35"/>
<rect x="60.25" y="220.65" width="7.35" height="7.35" fill="#803c8f" stroke="#e6e6e6" stroke-width="0.35"/>
<rect x="67.60" y="220.65" width="7.35" height="7.35" fill="#e1f2dd" stroke="#e6e6e6" stroke-width="0.35"/>
<rect x="74.95" y="220.65" width="7.35" height="7.35" fill="#daf0d4" stroke="#e6e6e6" stroke-width="0.35"/>
<rect x="82.30" y="220.65" width="7.35" height="7.35" fill="#f7f7f7" stroke="#e6e6e6" stroke-width="0.35"/>
<rect x="89.65" y="220.65" width="7.35" height="7.35" fill="#e6d3e7" stroke="#e6e6e6" stroke-width="0.35"/>
<rect x="97.00" y="220.65" width="7.35" height="7.35" fill="#ede2ee" stroke="#e6e6e6" stroke-width="0.35"/>
<rect x="104.35" y="220.65" width="7.35" height="7.35" fill="#f7f7f7" stroke="#e6e6e6" stroke-width="0.35"/>
<rect x="111.70" y="220.65" width="7.35" height="7.35" fill="#e0f2db" stroke="#e6e6e6" stroke-width="0.35"/>
<rect x="119.05" y="220.65" width="7.35" height="7.35" fill="#daf0d4" stroke="#e6e6e6" stroke-width="0.35"/>
<rect x="126.40" y="220.65" width="7.35" height="7.35" fill="#acd8a7" stroke="#e6e6e6" stroke-width="0.35"/>
<rect x="133.75" y="220.65" width="7.35" height="7.35" fill="#1b7837" stroke="#e6e6e6" stroke-width="0.35"/>
<rect x="141.10" y="220.65" width="7.35" height="7.35" fill="#75b874" stroke="#e6e6e6" stroke-width="0.35"/>
<rect x="148.45" y="220.65" width="7.35" height="7.35" fill="#f2f6f1" stroke="#e6e6e6" stroke-width="0.35"/>
<rect x="155.80" y="220.65" width="7.35" height="7.35" fill="#e1f2dd" stroke="#e6e6e6" stroke-width="0.35"/>
<rect x="163.15" y="220.65" width="7.35" height="7.35" fill="#e1f2dd" stroke="#e6e6e6" stroke-width="0.35"/>
<rect x="52.90" y="228.00" width="7.35" height="7.35" fill="#ceb5d8" stroke="#e6e6e6" stroke-width="0.35"/>
<rect x="60.25" y="228.00" width="7.35" height="7.35" fill="#b08ec4" stroke="#e6e6e6" stroke-width="0.35"/>
<rect x="67.60" y="228.00" width="7.35" height="7.35" fill="#c2e3bc" stroke="#e6e6e6" stroke-width="0.35"/>
<rect x="74.95" y="228.00" width="7.35" height="7.35" fill="#c7e6c1" stroke="#e6e6e6" stroke-width="0.35"/>
<rect x="82.30" y="228.00" width="7.35" height="7.35" fill="#e0f2db" stroke="#e6e6e6" stroke-width="0.35"/>
<rect x="89.65" y="228.00" width="7.35" height="7.35" fill="#ede2ee" stroke="#e6e6e6" stroke-width="0.35"/>
<rect x="97.00" y="228.00" width="7.35" height="7.35" fill="#f4f1f4" stroke="#e6e6e6" stroke-width="0.35"/>
<rect x="104.35" y="228.00" width="7.35" height="7.35" fill="#ede2ee" stroke="#e6e6e6" stroke-width="0.35"/>
<rect x="111.70" y="228.00" width="7.35" height="7.35" fill="#dcf1d7" stroke="#e6e6e6" stroke-width="0.35"/>
<rect x="119.05" y="228.00" width="7.35" height="7.35" fill="#e7f3e4" stroke="#e6e6e6" stroke-width="0.35"/>
<rect x="126.40" y="228.00" width="7.35" height="7.35" fill="#91c98d" stroke="#e6e6e6" stroke-width="0.35"/>
<rect x="133.75" y="228.00" width="7.35" height="7.35" fill="#75b874" stroke="#e6e6e6" stroke-width="0.35"/>
<rect x="141.10" y="228.00" width="7.35" height="7.35" fill="#1b7837" stroke="#e6e6e6" stroke-width="0.35"/>
<rect x="148.45" y="228.00" width="7.35" height="7.35" fill="#e9f4e6" stroke="#e6e6e6" stroke-width="0.35"/>
<rect x="155.80" y="228.00" width="7.35" height="7.35" fill="#dcf1d7" stroke="#e6e6e6" stroke-width="0.35"/>
<rect x="163.15" y="228.00" width="7.35" height="7.35" fill="#e3f2df" stroke="#e6e6e6" stroke-width="0.35"/>
<rect x="52.90" y="235.35" width="7.35" height="7.35" fill="#ede2ee" stroke="#e6e6e6" stroke-width="0.35"/>
<rect x="60.25" y="235.35" width="7.35" height="7.35" fill="#762a83" stroke="#e6e6e6" stroke-width="0.35"/>
<rect x="67.60" y="235.35" width="7.35" height="7.35" fill="#d8c2de" stroke="#e6e6e6" stroke-width="0.35"/>
<rect x="74.95" y="235.35" width="7.35" height="7.35" fill="#dcc6e1" stroke="#e6e6e6" stroke-width="0.35"/>
<rect x="82.30" y="235.35" width="7.35" height="7.35" fill="#ceb5d8" stroke="#e6e6e6" stroke-width="0.35"/>
<rect x="89.65" y="235.35" width="7.35" height="7.35" fill="#d5bddc" stroke="#e6e6e6" stroke-width="0.35"/>
<rect x="97.00" y="235.35" width="7.35" height="7.35" fill="#d5bddc" stroke="#e6e6e6" stroke-width="0.35"/>
<rect x="104.35" y="235.35" width="7.35" height="7.35" fill="#ebdceb" stroke="#e6e6e6" stroke-width="0.35"/>
<rect x="111.70" y="235.35" width="7.35" height="7.35" fill="#f3f6f3" stroke="#e6e6e6" stroke-width="0.35"/>
<rect x="119.05" y="235.35" width="7.35" height="7.35" fill="#f4f1f4" stroke="#e6e6e6" stroke-width="0.35"/>
<rect x="126.40" y="235.35" width="7.35" height="7.35" fill="#f3f6f3" stroke="#e6e6e6" stroke-width="0.35"/>
<rect x="133.75" y="235.35" width="7.35" height="7.35" fill="#f2f6f1" stroke="#e6e6e6" stroke-width="0.35"/>
<rect x="141.10" y="235.35" width="7.35" height="7.35" fill="#e9f4e6" stroke="#e6e6e6" stroke-width="0.35"/>
<rect x="148.45" y="235.35" width="7.35" height="7.35" fill="#1b7837" stroke="#e6e6e6" stroke-width="0.35"/>
<rect x="155.80" y="235.35" width="7.35" height="7.35" fill="#a1d29c" stroke="#e6e6e6" stroke-width="0.35"/>
<rect x="163.15" y="235.35" width="7.35" height="7.35" fill="#bce0b7" stroke="#e6e6e6" stroke-width="0.35"/>
<rect x="52.90" y="242.70" width="7.35" height="7.35" fill="#def1d9" stroke="#e6e6e6" stroke-width="0.35"/>
<rect x="60.25" y="242.70" width="7.35" height="7.35" fill="#b393c6" stroke="#e6e6e6" stroke-width="0.35"/>
<rect x="67.60" y="242.70" width="7.35" height="7.35" fill="#f5f7f5" stroke="#e6e6e6" stroke-width="0.35"/>
<rect x="74.95" y="242.70" width="7.35" height="7.35" fill="#f7f7f7" stroke="#e6e6e6" stroke-width="0.35"/>
<rect x="82.30" y="242.70" width="7.35" height="7.35" fill="#ede2ee" stroke="#e6e6e6" stroke-width="0.35"/>
<rect x="89.65" y="242.70" width="7.35" height="7.35" fill="#ebdeec" stroke="#e6e6e6" stroke-width="0.35"/>
<rect x="97.00" y="242.70" width="7.35" height="7.35" fill="#f7f7f7" stroke="#e6e6e6" stroke-width="0.35"/>
<rect x="104.35" y="242.70" width="7.35" height="7.35" fill="#ece0ed" stroke="#e6e6e6" stroke-width="0.35"/>
<rect x="111.70" y="242.70" width="7.35" height="7.35" fill="#e0f2db" stroke="#e6e6e6" stroke-width="0.35"/>
<rect x="119.05" y="242.70" width="7.35" height="7.35" fill="#e7f3e4" stroke="#e6e6e6" stroke-width="0.35"/>
<rect x="126.40" y="242.70" width="7.35" height="7.35" fill="#e0f2db" stroke="#e6e6e6" stroke-width="0.35"/>
<rect x="133.75" y="242.70" width="7.35" height="7.35" fill="#e1f2dd" stroke="#e6e6e6" stroke-width="0.35"/>
<rect x="141.10" y="242.70" width="7.35" height="7.35" fill="#dcf1d7" stroke="#e6e6e6" stroke-width="0.35"/>
<rect x="148.45" y="242.70" width="7.35" height="7.35" fill="#a1d29c" stroke="#e6e6e6" stroke-width="0.35"/>
<rect x="155.80" y="242.70" width="7.35" height="7.35" fill="#1b7837" stroke="#e6e6e6" stroke-width="0.35"/>
<rect x="163.15" y="242.70" width="7.35" height="7.35" fill="#75b874" stroke="#e6e6e6" stroke-width="0.35"/>
<rect x="52.90" y="250.05" width="7.35" height="7.35" fill="#e1f2dd" stroke="#e6e6e6" stroke-width="0.35"/>
<rect x="60.25" y="250.05" width="7.35" height="7.35" fill="#b393c6" stroke="#e6e6e6" stroke-width="0.35"/>
<rect x="67.60" y="250.05" width="7.35" height="7.35" fill="#f5f7f5" stroke="#e6e6e6" stroke-width="0.35"/>
<rect x="74.95" y="250.05" width="7.35" height="7.35" fill="#ecf4ea" stroke="#e6e6e6" stroke-width="0.35"/>
<rect x="82.30" y="250.05" width="7.35" height="7.35" fill="#f0e8f1" stroke="#e6e6e6" stroke-width="0.35"/>
<rect x="89.65" y="250.05" width="7.35" height="7.35" fill="#ebdeec" stroke="#e6e6e6" stroke-width="0.35"/>
<rect x="97.00" y="250.05" width="7.35" height="7.35" fill="#ede2ee" stroke="#e6e6e6" stroke-width="0.35"/>
<rect x="104.35" y="250.05" width="7.35" height="7.35" fill="#ede2ee" stroke="#e6e6e6" stroke-width="0.35"/>
<rect x="111.70" y="250.05" width="7.35" height="7.35" fill="#f0f5ee" stroke="#e6e6e6" stroke-width="0.35"/>
<rect x="119.05" y="250.05" width="7.35" height="7.35" fill="#efe6f0" stroke="#e6e6e6" stroke-width="0.35"/>
<rect x="126.40" y="250.05" width="7.35" height="7.35" fill="#e0f2db" stroke="#e6e6e6" stroke-width="0.35"/>
<rect x="133.75" y="250.05" width="7.35" height="7.35" fill="#e1f2dd" stroke="#e6e6e6" stroke-width="0.35"/>
<rect x="141.10" y="250.05" width="7.35" height="7.35" fill="#e3f2df" stroke="#e6e6e6" stroke-width="0.35"/>
<rect x="148.45" y="250.05" width="7.35" height="7.35" fill="#bce0b7" stroke="#e6e6e6" stroke-width="0.35"/>
<rect x="155.80" y="250.05" width="7.35" height="7.35" fill="#75b874" stroke="#e6e6e6" stroke-width="0.35"/>
<rect x="163.15" y="250.05" width="7.35" height="7.35" fill="#1b7837" stroke="#e6e6e6" stroke-width="0.35"/>
<rect x="35.6" y="139.80" width="7.5" height="7.35" fill="#f5b662" stroke="#e6e6e6" stroke-width="0.35"/>
<rect x="44.0" y="139.80" width="7.45" height="7.35" fill="#397bc1" stroke="#e6e6e6" stroke-width="0.35"/>
<rect x="35.6" y="147.15" width="7.5" height="7.35" fill="#0a7f95" stroke="#e6e6e6" stroke-width="0.35"/>
<rect x="44.0" y="147.15" width="7.45" height="7.35" fill="#397bc1" stroke="#e6e6e6" stroke-width="0.35"/>
<rect x="35.6" y="154.50" width="7.5" height="7.35" fill="#d4546f" stroke="#e6e6e6" stroke-width="0.35"/>
<rect x="44.0" y="154.50" width="7.45" height="7.35" fill="#397bc1" stroke="#e6e6e6" stroke-width="0.35"/>
<rect x="35.6" y="161.85" width="7.5" height="7.35" fill="#d4546f" stroke="#e6e6e6" stroke-width="0.35"/>
<rect x="44.0" y="161.85" width="7.45" height="7.35" fill="#397bc1" stroke="#e6e6e6" stroke-width="0.35"/>
<rect x="35.6" y="169.20" width="7.5" height="7.35" fill="#d4546f" stroke="#e6e6e6" stroke-width="0.35"/>
<rect x="44.0" y="169.20" width="7.45" height="7.35" fill="#397bc1" stroke="#e6e6e6" stroke-width="0.35"/>
<rect x="35.6" y="176.55" width="7.5" height="7.35" fill="#0a7f95" stroke="#e6e6e6" stroke-width="0.35"/>
<rect x="44.0" y="176.55" width="7.45" height="7.35" fill="#397bc1" stroke="#e6e6e6" stroke-width="0.35"/>
<rect x="35.6" y="183.90" width="7.5" height="7.35" fill="#0a7f95" stroke="#e6e6e6" stroke-width="0.35"/>
<rect x="44.0" y="183.90" width="7.45" height="7.35" fill="#397bc1" stroke="#e6e6e6" stroke-width="0.35"/>
<rect x="35.6" y="191.25" width="7.5" height="7.35" fill="#0a7f95" stroke="#e6e6e6" stroke-width="0.35"/>
<rect x="44.0" y="191.25" width="7.45" height="7.35" fill="#aeb0af" stroke="#e6e6e6" stroke-width="0.35"/>
<rect x="35.6" y="198.60" width="7.5" height="7.35" fill="#0a7f95" stroke="#e6e6e6" stroke-width="0.35"/>
<rect x="44.0" y="198.60" width="7.45" height="7.35" fill="#aeb0af" stroke="#e6e6e6" stroke-width="0.35"/>
<rect x="35.6" y="205.95" width="7.5" height="7.35" fill="#0a7f95" stroke="#e6e6e6" stroke-width="0.35"/>
<rect x="44.0" y="205.95" width="7.45" height="7.35" fill="#aeb0af" stroke="#e6e6e6" stroke-width="0.35"/>
<rect x="35.6" y="213.30" width="7.5" height="7.35" fill="#d4546f" stroke="#e6e6e6" stroke-width="0.35"/>
<rect x="44.0" y="213.30" width="7.45" height="7.35" fill="#aeb0af" stroke="#e6e6e6" stroke-width="0.35"/>
<rect x="35.6" y="220.65" width="7.5" height="7.35" fill="#d4546f" stroke="#e6e6e6" stroke-width="0.35"/>
<rect x="44.0" y="220.65" width="7.45" height="7.35" fill="#aeb0af" stroke="#e6e6e6" stroke-width="0.35"/>
<rect x="35.6" y="228.00" width="7.5" height="7.35" fill="#d4546f" stroke="#e6e6e6" stroke-width="0.35"/>
<rect x="44.0" y="228.00" width="7.45" height="7.35" fill="#aeb0af" stroke="#e6e6e6" stroke-width="0.35"/>
<rect x="35.6" y="235.35" width="7.5" height="7.35" fill="#f5b662" stroke="#e6e6e6" stroke-width="0.35"/>
<rect x="44.0" y="235.35" width="7.45" height="7.35" fill="#aeb0af" stroke="#e6e6e6" stroke-width="0.35"/>
<rect x="35.6" y="242.70" width="7.5" height="7.35" fill="#f5b662" stroke="#e6e6e6" stroke-width="0.35"/>
<rect x="44.0" y="242.70" width="7.45" height="7.35" fill="#aeb0af" stroke="#e6e6e6" stroke-width="0.35"/>
<rect x="35.6" y="250.05" width="7.5" height="7.35" fill="#f5b662" stroke="#e6e6e6" stroke-width="0.35"/>
<rect x="44.0" y="250.05" width="7.45" height="7.35" fill="#aeb0af" stroke="#e6e6e6" stroke-width="0.35"/>
<text x="173.90" y="145.98" font-size="7.8">MDS−22.44</text>
<text x="173.90" y="153.33" font-size="7.8">MDS−23.38</text>
<text x="173.90" y="160.68" font-size="7.8">MDS−21.31</text>
<text x="173.90" y="168.03" font-size="7.8">MDS−21.29</text>
<text x="173.90" y="175.38" font-size="7.8">MDS−21.16</text>
<text x="173.90" y="182.73" font-size="7.8">MDS−23.24</text>
<text x="173.90" y="190.08" font-size="7.8">MDS−23.6</text>
<text x="173.90" y="197.43" font-size="7.8">N−23.13</text>
<text x="173.90" y="204.78" font-size="7.8">N−23.5</text>
<text x="173.90" y="212.12" font-size="7.8">N−23.28</text>
<text x="173.90" y="219.48" font-size="7.8">N−21.1</text>
<text x="173.90" y="226.82" font-size="7.8">N−21.6</text>
<text x="173.90" y="234.18" font-size="7.8">N−21.14</text>
<text x="173.90" y="241.53" font-size="7.8">N−22.22</text>
<text x="173.90" y="248.88" font-size="7.8">N−22.27</text>
<text x="173.90" y="256.23" font-size="7.8">N−22.45</text>
<text x="0" y="0" font-size="7.8" text-anchor="end" transform="translate(42.00 261.1) rotate(-90)">Patient</text>
<text x="0" y="0" font-size="7.8" text-anchor="end" transform="translate(49.00 261.1) rotate(-90)">Genotype</text>
<text x="0" y="0" font-size="7.8" text-anchor="end" transform="translate(57.57 261.1) rotate(-90)">MDS−22.44</text>
<text x="0" y="0" font-size="7.8" text-anchor="end" transform="translate(64.92 261.1) rotate(-90)">MDS−23.38</text>
<text x="0" y="0" font-size="7.8" text-anchor="end" transform="translate(72.28 261.1) rotate(-90)">MDS−21.31</text>
<text x="0" y="0" font-size="7.8" text-anchor="end" transform="translate(79.62 261.1) rotate(-90)">MDS−21.29</text>
<text x="0" y="0" font-size="7.8" text-anchor="end" transform="translate(86.97 261.1) rotate(-90)">MDS−21.16</text>
<text x="0" y="0" font-size="7.8" text-anchor="end" transform="translate(94.32 261.1) rotate(-90)">MDS−23.24</text>
<text x="0" y="0" font-size="7.8" text-anchor="end" transform="translate(101.67 261.1) rotate(-90)">MDS−23.6</text>
<text x="0" y="0" font-size="7.8" text-anchor="end" transform="translate(109.03 261.1) rotate(-90)">N−23.13</text>
<text x="0" y="0" font-size="7.8" text-anchor="end" transform="translate(116.38 261.1) rotate(-90)">N−23.5</text>
<text x="0" y="0" font-size="7.8" text-anchor="end" transform="translate(123.72 261.1) rotate(-90)">N−23.28</text>
<text x="0" y="0" font-size="7.8" text-anchor="end" transform="translate(131.07 261.1) rotate(-90)">N−21.1</text>
<text x="0" y="0" font-size="7.8" text-anchor="end" transform="translate(138.42 261.1) rotate(-90)">N−21.6</text>
<text x="0" y="0" font-size="7.8" text-anchor="end" transform="translate(145.78 261.1) rotate(-90)">N−21.14</text>
<text x="0" y="0" font-size="7.8" text-anchor="end" transform="translate(153.12 261.1) rotate(-90)">N−22.22</text>
<text x="0" y="0" font-size="7.8" text-anchor="end" transform="translate(160.47 261.1) rotate(-90)">N−22.27</text>
<text x="0" y="0" font-size="7.8" text-anchor="end" transform="translate(167.82 261.1) rotate(-90)">N−22.45</text>
<path d="M25.50 143.48L25.50 150.83" stroke="#6b6b6b" stroke-width="0.6" fill="none"/>
<path d="M25.50 143.48L35.40 143.48" stroke="#6b6b6b" stroke-width="0.6" fill="none"/>
<path d="M25.50 150.83L35.40 150.83" stroke="#6b6b6b" stroke-width="0.6" fill="none"/>
<path d="M32.00 165.53L32.00 172.88" stroke="#6b6b6b" stroke-width="0.6" fill="none"/>
<path d="M32.00 165.53L35.40 165.53" stroke="#6b6b6b" stroke-width="0.6" fill="none"/>
<path d="M32.00 172.88L35.40 172.88" stroke="#6b6b6b" stroke-width="0.6" fill="none"/>
<path d="M31.20 158.18L31.20 169.20" stroke="#6b6b6b" stroke-width="0.6" fill="none"/>
<path d="M31.20 158.18L35.40 158.18" stroke="#6b6b6b" stroke-width="0.6" fill="none"/>
<path d="M31.20 169.20L32.00 169.20" stroke="#6b6b6b" stroke-width="0.6" fill="none"/>
<path d="M30.40 180.23L30.40 187.58" stroke="#6b6b6b" stroke-width="0.6" fill="none"/>
<path d="M30.40 180.23L35.40 180.23" stroke="#6b6b6b" stroke-width="0.6" fill="none"/>
<path d="M30.40 187.58L35.40 187.58" stroke="#6b6b6b" stroke-width="0.6" fill="none"/>
<path d="M26.60 163.69L26.60 183.90" stroke="#6b6b6b" stroke-width="0.6" fill="none"/>
<path d="M26.60 163.69L31.20 163.69" stroke="#6b6b6b" stroke-width="0.6" fill="none"/>
<path d="M26.60 183.90L30.40 183.90" stroke="#6b6b6b" stroke-width="0.6" fill="none"/>
<path d="M31.40 202.28L31.40 209.62" stroke="#6b6b6b" stroke-width="0.6" fill="none"/>
<path d="M31.40 202.28L35.40 202.28" stroke="#6b6b6b" stroke-width="0.6" fill="none"/>
<path d="M31.40 209.62L35.40 209.62" stroke="#6b6b6b" stroke-width="0.6" fill="none"/>
<path d="M29.80 194.93L29.80 205.95" stroke="#6b6b6b" stroke-width="0.6" fill="none"/>
<path d="M29.80 194.93L35.40 194.93" stroke="#6b6b6b" stroke-width="0.6" fill="none"/>
<path d="M29.80 205.95L31.40 205.95" stroke="#6b6b6b" stroke-width="0.6" fill="none"/>
<path d="M31.10 224.32L31.10 231.68" stroke="#6b6b6b" stroke-width="0.6" fill="none"/>
<path d="M31.10 224.32L35.40 224.32" stroke="#6b6b6b" stroke-width="0.6" fill="none"/>
<path d="M31.10 231.68L35.40 231.68" stroke="#6b6b6b" stroke-width="0.6" fill="none"/>
<path d="M30.20 216.98L30.20 228.00" stroke="#6b6b6b" stroke-width="0.6" fill="none"/>
<path d="M30.20 216.98L35.40 216.98" stroke="#6b6b6b" stroke-width="0.6" fill="none"/>
<path d="M30.20 228.00L31.10 228.00" stroke="#6b6b6b" stroke-width="0.6" fill="none"/>
<path d="M32.00 246.38L32.00 253.73" stroke="#6b6b6b" stroke-width="0.6" fill="none"/>
<path d="M32.00 246.38L35.40 246.38" stroke="#6b6b6b" stroke-width="0.6" fill="none"/>
<path d="M32.00 253.73L35.40 253.73" stroke="#6b6b6b" stroke-width="0.6" fill="none"/>
<path d="M29.30 239.03L29.30 250.05" stroke="#6b6b6b" stroke-width="0.6" fill="none"/>
<path d="M29.30 239.03L35.40 239.03" stroke="#6b6b6b" stroke-width="0.6" fill="none"/>
<path d="M29.30 250.05L32.00 250.05" stroke="#6b6b6b" stroke-width="0.6" fill="none"/>
<path d="M25.90 222.49L25.90 244.54" stroke="#6b6b6b" stroke-width="0.6" fill="none"/>
<path d="M25.90 222.49L30.20 222.49" stroke="#6b6b6b" stroke-width="0.6" fill="none"/>
<path d="M25.90 244.54L29.30 244.54" stroke="#6b6b6b" stroke-width="0.6" fill="none"/>
<path d="M25.00 200.44L25.00 233.51" stroke="#6b6b6b" stroke-width="0.6" fill="none"/>
<path d="M25.00 200.44L29.80 200.44" stroke="#6b6b6b" stroke-width="0.6" fill="none"/>
<path d="M25.00 233.51L25.90 233.51" stroke="#6b6b6b" stroke-width="0.6" fill="none"/>
<path d="M24.50 173.79L24.50 216.98" stroke="#6b6b6b" stroke-width="0.6" fill="none"/>
<path d="M24.50 173.79L26.60 173.79" stroke="#6b6b6b" stroke-width="0.6" fill="none"/>
<path d="M24.50 216.98L25.00 216.98" stroke="#6b6b6b" stroke-width="0.6" fill="none"/>
<path d="M21.50 147.15L21.50 195.38" stroke="#6b6b6b" stroke-width="0.6" fill="none"/>
<path d="M21.50 147.15L25.50 147.15" stroke="#6b6b6b" stroke-width="0.6" fill="none"/>
<path d="M21.50 195.38L24.50 195.38" stroke="#6b6b6b" stroke-width="0.6" fill="none"/>
<defs><linearGradient id="cb" x1="0" y1="1" x2="0" y2="0"><stop offset="0.0000" stop-color="#3a8a4e"/><stop offset="0.1667" stop-color="#86c282"/><stop offset="0.3333" stop-color="#d9f0d3"/><stop offset="0.5000" stop-color="#f7f7f7"/><stop offset="0.6667" stop-color="#e7d4e8"/><stop offset="0.8333" stop-color="#b393c7"/><stop offset="1.0000" stop-color="#8a4c9c"/></linearGradient></defs>
<rect x="219.10" y="139.20" width="3.70" height="52.70" fill="url(#cb)"/>
<text x="209.10" y="133.40" font-size="7.4" textLength="28.60" lengthAdjust="spacingAndGlyphs">Distance</text>
<text x="225.60" y="144.30" font-size="7.3">0.035</text>
<text x="225.60" y="151.44" font-size="7.3">0.03</text>
<text x="225.60" y="158.58" font-size="7.3">0.025</text>
<text x="225.60" y="165.72" font-size="7.3">0.02</text>
<text x="225.60" y="172.86" font-size="7.3">0.015</text>
<text x="225.60" y="180.00" font-size="7.3">0.01</text>
<text x="225.60" y="187.14" font-size="7.3">0.005</text>
<text x="225.60" y="194.28" font-size="7.3">0</text>
<text x="249.80" y="144.80" font-size="7.4" textLength="22.50" lengthAdjust="spacingAndGlyphs">Patient</text>
<rect x="250.50" y="148.00" width="11.30" height="11.00" fill="#d4546f"/>
<text x="264.60" y="156.90" font-size="6.8">P21</text>
<rect x="250.50" y="159.00" width="11.30" height="11.00" fill="#f5b662"/>
<text x="264.60" y="167.90" font-size="6.8">P22</text>
<rect x="250.50" y="170.00" width="11.30" height="11.00" fill="#0a7f95"/>
<text x="264.60" y="178.90" font-size="6.8">P23</text>
<text x="251.00" y="194.80" font-size="7.4" textLength="31.90" lengthAdjust="spacingAndGlyphs">Genotype</text>
<rect x="250.60" y="198.10" width="11.10" height="10.85" fill="#397bc1"/>
<text x="264.70" y="206.10" font-size="6.9">K700E</text>
<rect x="250.60" y="208.95" width="11.10" height="10.85" fill="#aeb0af"/>
<text x="264.70" y="216.95" font-size="6.9">WT</text>
<text x="6.20" y="335.60" font-size="10.6" font-weight="bold" fill="#000">D</text>
<path d="M117.4 412.6h0M144.6 381.6h0M135.1 352.1h0M124.0 352.6h0M107.0 374.7h0M141.1 381.1h0M91.2 446.9h0M89.3 395.6h0M119.5 413.5h0M134.5 397.2h0M61.0 438.2h0M131.0 394.5h0M52.7 461.4h0M97.6 439.2h0M108.7 378.4h0M101.6 387.5h0M93.2 408.0h0M134.5 395.0h0M120.1 369.0h0M126.5 419.5h0M122.3 402.8h0M45.1 458.9h0M74.0 469.5h0M88.1 487.0h0M78.0 485.1h0M146.0 378.9h0M107.0 433.7h0M102.8 430.2h0M91.3 408.5h0M144.4 398.4h0M120.9 417.5h0M71.8 486.6h0M140.3 403.4h0M103.0 393.7h0M88.1 378.5h0M140.0 383.5h0M54.4 450.2h0M125.0 365.1h0M137.0 387.6h0M126.4 410.5h0M60.6 374.1h0M141.3 385.6h0M131.8 353.1h0M119.7 362.5h0M115.8 419.3h0M115.6 374.0h0M139.9 388.5h0M128.6 413.4h0M136.6 388.3h0M64.8 430.0h0M107.8 424.7h0M87.6 380.6h0M117.1 365.3h0M121.8 363.2h0M115.8 365.7h0M82.0 462.8h0M146.4 386.5h0M113.5 365.8h0M133.6 403.2h0M116.0 367.3h0M97.6 434.2h0M93.7 389.1h0M92.1 393.0h0M113.2 432.4h0M76.8 415.0h0M98.5 463.9h0M131.8 400.5h0M115.7 377.5h0M107.3 429.3h0M118.1 408.2h0M90.4 395.7h0M101.5 442.5h0M56.7 410.7h0M67.1 419.1h0M120.4 406.5h0M123.1 369.2h0M77.4 463.9h0M62.6 444.1h0M117.0 414.3h0M132.8 425.1h0M86.8 469.2h0M147.6 374.0h0M146.9 384.7h0M72.4 423.1h0M134.5 402.6h0M75.6 484.1h0M123.5 367.5h0M114.0 413.3h0M84.2 414.7h0M74.5 478.0h0M142.8 378.3h0M77.7 460.4h0M144.9 372.0h0M103.4 392.2h0M96.2 440.3h0M92.6 402.7h0M81.6 414.3h0M130.0 359.5h0M126.4 421.7h0M114.5 429.8h0M145.8 421.2h0M99.6 441.7h0M125.1 416.7h0M126.8 407.6h0M113.0 376.8h0M107.7 366.0h0M97.8 401.7h0M114.1 360.4h0M110.4 429.6h0M97.7 396.6h0M96.9 390.9h0M114.9 372.7h0M72.6 416.3h0M52.5 450.1h0M111.7 419.9h0M98.4 441.1h0M68.1 436.4h0M143.5 387.6h0M47.8 456.3h0M92.4 403.3h0M66.0 435.2h0M73.3 386.9h0M128.5 427.4h0M58.0 435.3h0M140.5 382.0h0M87.0 407.7h0M89.5 453.6h0M118.9 423.4h0M147.5 373.2h0M107.6 422.6h0M147.5 376.6h0M125.5 359.3h0M94.0 394.8h0M127.5 402.8h0M138.0 417.1h0M84.0 400.2h0M145.1 372.5h0M133.5 390.4h0M117.1 409.7h0M109.7 421.8h0M126.8 427.6h0M131.5 389.9h0M63.9 481.6h0M105.7 447.9h0M143.4 415.6h0M87.4 416.1h0M73.0 467.2h0M145.3 390.7h0M139.1 401.6h0M99.6 389.9h0M133.5 392.3h0M57.4 447.7h0M96.4 398.6h0M90.7 444.5h0M133.6 416.8h0M87.7 465.2h0M71.4 436.5h0M136.3 410.2h0M116.6 429.4h0M73.3 482.9h0M137.3 399.5h0M63.7 436.1h0M78.2 465.0h0M136.7 383.1h0M70.2 422.6h0M71.1 426.5h0M129.6 357.0h0M125.6 361.3h0M121.1 410.7h0M122.9 408.0h0M99.2 440.7h0M89.8 408.7h0M107.7 421.6h0M131.5 391.5h0M130.9 355.7h0M123.7 430.0h0M138.1 400.4h0M129.3 359.5h0M105.4 429.7h0M113.7 431.1h0M115.7 417.0h0M145.2 378.1h0M146.6 392.9h0M137.5 390.9h0M137.6 386.2h0M78.6 481.3h0M49.7 458.7h0M63.4 410.6h0M93.0 468.5h0M105.7 373.1h0M147.3 369.5h0M116.7 359.7h0M143.3 394.5h0M136.5 388.4h0M107.0 436.6h0M141.4 417.2h0M81.0 420.8h0M121.7 409.4h0M111.0 384.7h0M144.3 376.7h0M137.5 409.0h0M136.6 402.0h0M136.1 388.5h0M119.8 419.9h0M137.5 389.0h0M106.2 428.9h0M82.3 406.0h0M133.3 432.2h0M142.1 381.0h0M124.2 357.3h0M112.5 416.5h0M118.1 367.4h0M89.9 410.3h0M125.8 411.7h0M84.1 463.9h0M129.3 436.2h0M114.3 438.9h0M124.5 419.5h0M101.7 381.9h0M91.5 409.3h0M113.1 371.8h0M91.2 463.5h0M109.2 378.1h0M103.3 391.1h0M113.1 363.3h0M126.7 398.6h0M73.9 399.8h0M97.9 437.8h0M129.2 410.1h0M120.4 352.0h0M68.7 424.6h0M90.0 448.0h0M52.4 459.0h0M53.9 451.7h0M133.8 353.3h0M116.4 366.6h0M139.9 384.3h0M98.1 393.9h0M57.8 419.6h0M84.4 454.2h0M101.4 384.9h0M126.5 400.4h0M55.0 456.1h0M142.8 376.0h0M135.3 398.5h0M110.7 419.0h0M103.4 437.4h0M142.9 376.9h0M121.8 366.7h0M62.1 445.0h0M83.5 467.3h0M129.4 413.3h0M130.2 356.6h0M85.0 460.6h0M129.4 402.2h0M85.5 403.9h0M120.8 440.8h0M125.3 364.6h0M75.9 467.3h0M147.4 372.2h0M126.3 408.4h0M133.5 397.8h0M66.7 487.4h0M107.2 439.0h0M79.3 416.5h0M66.9 475.6h0M119.4 356.5h0M126.8 354.9h0M126.0 418.9h0M140.0 398.0h0M104.4 425.7h0M58.8 447.7h0M144.4 382.7h0M118.5 412.7h0M78.6 463.6h0M126.5 355.8h0M89.5 465.5h0M134.4 413.8h0M71.9 481.1h0M128.8 399.6h0M133.3 411.1h0M104.0 479.2h0M52.0 445.5h0M76.6 462.1h0M74.4 429.1h0M63.4 442.8h0M69.2 435.2h0M109.2 377.2h0M146.5 390.3h0M120.6 433.7h0M107.3 445.5h0M87.5 413.5h0M143.3 376.9h0M74.8 469.4h0M101.6 429.6h0M103.6 375.2h0M119.5 418.0h0M65.4 477.4h0M76.3 379.6h0M86.5 387.2h0M116.8 365.9h0M135.6 386.2h0M111.7 423.1h0M113.8 432.8h0M142.7 429.6h0M139.3 392.7h0M87.4 415.7h0M91.8 450.7h0M144.1 376.0h0M70.1 433.1h0M76.6 422.3h0M68.0 474.3h0M114.6 365.2h0M102.3 389.3h0M111.3 432.6h0M139.2 380.1h0M112.5 369.3h0M88.2 456.2h0M57.3 423.3h0M147.0 387.6h0M56.4 426.4h0M127.9 408.8h0M96.9 401.9h0M136.7 396.9h0M105.7 375.7h0M69.3 485.9h0M66.7 414.5h0M77.3 467.2h0M64.7 484.5h0M106.5 387.2h0M93.2 441.0h0M94.5 464.3h0M92.4 372.2h0M132.7 390.5h0M121.3 369.7h0M97.0 446.9h0M137.7 404.5h0M130.1 405.9h0M45.1 462.8h0M108.9 380.4h0M99.9 452.1h0M110.6 374.5h0M118.1 408.2h0M138.3 386.2h0M118.4 413.6h0M121.9 411.9h0M120.1 365.3h0M110.1 380.5h0M68.1 435.7h0M120.6 423.7h0M112.5 420.5h0M121.3 368.8h0M51.1 460.0h0M70.5 474.7h0M72.6 409.0h0M121.5 369.6h0M68.4 433.7h0M77.0 479.8h0M109.8 433.1h0M120.6 426.2h0M113.7 414.8h0M144.3 373.0h0M71.9 467.9h0M124.6 418.2h0M82.0 460.8h0M104.0 437.4h0M67.5 474.4h0M145.8 386.0h0M49.1 465.7h0M98.4 446.3h0M114.5 424.9h0M137.0 399.5h0M90.1 407.3h0M95.9 452.3h0M81.3 418.2h0M103.2 390.6h0M55.5 450.8h0M70.5 426.9h0M129.2 412.9h0M143.7 384.6h0M80.8 414.9h0M92.6 386.8h0M65.0 435.9h0M77.3 416.7h0M110.9 382.1h0M119.4 417.8h0M112.3 426.0h0M50.7 450.4h0M54.7 435.9h0M59.9 442.0h0M130.3 428.5h0M140.4 417.4h0M138.5 384.6h0M121.9 366.7h0M46.6 457.6h0M50.8 460.4h0M120.2 363.8h0M86.7 450.0h0M144.6 385.5h0M52.7 430.5h0M117.1 420.3h0M126.2 422.8h0M79.0 408.3h0M114.3 369.0h0M147.7 385.3h0M62.2 439.8h0M44.7 443.7h0M86.1 467.4h0M123.8 417.5h0M63.6 438.7h0M112.2 364.1h0M142.6 375.3h0M100.8 376.7h0M80.8 460.8h0M64.2 442.9h0M108.8 428.8h0M97.2 441.3h0M95.0 448.8h0M141.8 379.7h0M84.0 469.5h0M81.6 459.1h0M54.6 452.6h0M135.9 402.1h0M80.4 421.0h0M102.5 359.8h0M146.9 390.3h0M130.0 417.4h0M117.5 424.8h0M74.8 482.4h0M67.4 433.9h0M121.8 369.8h0M141.8 384.0h0M146.4 371.3h0M98.0 435.4h0M93.0 384.4h0M126.1 411.7h0M145.2 375.7h0M139.3 388.4h0M82.9 399.4h0M105.9 438.1h0M101.0 396.1h0M114.7 370.8h0M136.2 399.1h0M133.8 389.6h0M105.1 387.5h0M111.0 431.9h0M84.7 451.4h0M98.2 458.3h0M136.0 422.1h0M130.7 406.1h0M109.9 427.0h0M144.5 383.3h0M146.3 385.9h0M61.3 437.7h0M122.3 363.2h0M106.7 441.9h0M136.8 383.6h0M135.1 414.9h0M105.1 387.8h0M118.5 361.7h0M82.7 418.0h0M46.8 446.6h0M107.5 453.0h0M98.0 445.0h0M94.5 391.8h0M120.2 370.0h0M89.0 454.5h0M134.3 387.8h0M86.4 404.9h0M63.5 487.4h0M101.4 389.3h0M95.7 440.5h0M104.0 445.7h0M137.7 389.3h0M76.7 484.1h0M99.4 390.4h0M135.4 432.9h0M143.0 376.2h0M99.6 377.2h0M79.9 465.5h0M113.7 423.7h0M137.9 396.6h0M121.6 358.0h0M93.6 391.6h0M143.8 381.5h0M122.3 359.3h0M83.0 464.4h0M92.8 449.7h0M145.7 380.2h0M96.6 372.9h0M67.3 437.5h0M80.5 459.7h0M113.0 416.4h0M64.7 427.1h0M94.0 452.7h0M60.0 447.2h0M91.0 398.3h0M96.5 403.4h0M134.1 399.7h0M106.3 444.4h0M145.6 379.0h0M65.0 427.9h0M111.6 370.7h0M121.0 409.3h0M68.7 429.9h0M137.3 416.9h0M125.2 354.4h0M142.4 407.8h0M145.8 409.6h0M137.9 390.6h0M57.2 446.0h0M81.1 467.9h0M75.4 411.9h0M79.3 484.3h0M44.6 462.1h0M78.1 416.1h0M48.2 463.6h0M102.8 391.2h0M144.1 397.5h0M95.9 382.3h0M96.9 435.5h0M139.0 385.6h0M46.5 461.4h0M100.2 437.6h0M97.3 437.9h0M128.4 414.8h0M72.9 487.2h0M131.0 415.6h0M122.2 406.6h0M128.4 420.5h0M138.1 391.3h0M109.5 384.5h0M113.5 355.6h0M123.8 367.2h0M85.7 415.9h0M64.3 424.4h0M131.8 395.6h0M141.3 379.9h0M106.4 426.4h0M47.5 466.4h0M136.0 405.9h0M130.3 414.1h0M76.6 477.9h0M127.8 413.2h0M146.1 385.0h0M70.6 484.7h0M133.8 355.2h0M78.3 414.1h0M136.5 396.3h0M129.1 400.3h0M76.0 467.2h0M64.0 483.0h0M66.6 436.3h0M44.8 446.1h0M123.2 367.6h0M96.4 441.1h0M141.7 399.0h0M67.7 413.8h0M69.2 485.3h0M121.7 368.9h0M81.6 457.5h0M48.0 444.3h0M126.0 362.9h0M139.5 395.1h0M53.6 445.6h0M69.0 421.2h0M112.2 362.9h0M91.6 392.8h0M79.7 423.7h0M55.2 458.1h0M92.1 408.4h0M87.4 451.5h0M80.6 469.5h0M141.6 396.7h0M139.4 381.5h0M96.9 440.1h0M129.0 402.7h0M97.1 446.4h0M146.9 378.9h0M76.7 426.7h0M145.8 379.4h0M140.3 390.2h0M105.0 379.5h0M61.0 433.9h0M121.9 406.8h0M91.7 381.2h0M103.3 380.6h0M123.0 355.8h0M122.7 415.7h0M102.3 429.8h0M144.2 392.6h0M105.9 387.2h0M132.7 390.7h0M61.9 432.7h0M135.3 401.9h0M147.8 376.9h0M90.2 405.0h0M138.3 382.1h0M64.8 428.9h0M132.1 398.7h0M87.2 470.4h0M49.3 463.8h0M86.3 408.7h0M87.0 404.0h0M62.3 436.9h0M74.2 418.1h0M83.3 454.3h0M90.9 458.5h0M88.8 448.0h0M103.2 443.9h0M147.4 382.7h0M62.9 441.2h0M67.0 439.3h0M127.3 352.9h0M114.6 368.1h0M116.0 373.6h0M60.5 445.6h0M101.9 392.4h0M141.6 397.6h0M132.3 412.4h0M112.4 419.1h0M138.6 401.4h0M138.4 398.2h0M96.6 440.0h0M147.1 369.8h0M64.1 482.5h0M138.5 394.6h0M100.5 435.1h0M90.4 405.0h0M137.2 389.9h0M65.6 443.6h0M70.2 478.6h0M94.6 386.3h0M105.6 435.9h0M112.4 371.5h0M147.3 404.2h0M117.2 369.4h0M144.1 392.1h0M109.3 429.0h0M121.8 366.7h0M112.6 368.5h0M90.8 463.5h0M59.0 433.1h0M119.5 358.2h0M59.7 484.8h0M119.8 436.7h0M121.6 417.9h0M133.8 391.6h0M141.8 387.2h0M101.5 391.4h0M67.2 408.5h0M79.9 486.0h0M76.1 416.5h0M120.3 423.6h0M137.3 408.3h0M134.1 386.7h0M132.3 389.2h0M145.2 379.9h0M144.4 403.1h0M132.9 393.7h0M64.4 482.2h0M96.1 397.3h0M97.4 360.1h0M83.5 479.4h0M131.4 403.1h0M142.5 376.1h0M145.4 396.0h0M89.0 461.2h0M133.5 388.4h0M95.5 399.4h0M140.6 383.4h0M141.9 401.3h0M136.9 387.8h0M67.5 430.2h0M78.7 479.7h0M112.0 418.1h0M85.6 469.9h0M136.2 420.6h0M64.6 441.2h0M146.6 412.6h0M90.5 459.8h0M128.6 394.4h0M133.7 391.1h0M148.0 390.6h0M60.4 439.7h0M106.3 435.5h0M116.3 367.7h0M119.7 366.1h0M143.0 390.3h0M50.1 435.3h0M115.1 415.0h0M113.1 433.6h0M47.4 454.5h0M137.9 400.7h0M138.1 386.1h0M116.5 355.8h0M98.5 389.4h0M64.4 437.1h0M111.2 416.7h0M128.8 414.6h0M105.2 377.0h0M64.1 424.2h0M70.6 425.0h0M92.7 396.4h0M123.0 411.8h0M121.7 414.7h0M138.5 383.3h0M121.3 403.3h0M100.7 375.6h0M126.5 403.5h0M92.9 404.7h0M61.8 436.2h0M134.9 424.6h0M136.6 403.9h0M101.7 389.3h0M138.3 408.9h0M122.0 440.7h0M88.2 457.1h0M141.3 398.6h0M127.5 358.3h0M70.8 477.7h0M132.0 352.1h0M104.8 380.5h0M97.5 370.3h0M138.1 405.3h0M133.5 396.6h0M62.4 433.2h0M106.9 384.1h0M60.2 483.5h0M103.0 436.9h0M52.2 452.0h0M59.1 427.4h0M126.8 399.4h0M74.7 474.8h0M62.2 443.0h0M102.7 383.2h0M63.8 429.7h0M93.9 447.3h0M128.8 411.9h0M144.8 379.8h0M143.8 381.2h0M138.0 393.1h0M53.0 456.3h0M98.4 359.9h0M116.9 415.8h0M135.0 403.3h0M107.1 379.6h0M124.3 400.8h0M93.8 406.3h0M138.2 397.9h0M115.1 427.9h0M67.2 433.2h0M74.9 432.4h0M135.6 385.6h0M91.1 446.5h0M90.2 401.8h0M121.6 363.6h0M70.3 435.8h0M108.0 368.5h0M109.0 437.2h0M131.2 407.0h0M109.4 427.4h0M91.6 396.3h0M130.7 423.2h0M111.6 370.8h0M106.9 425.6h0M93.5 443.8h0M82.6 419.7h0M87.2 394.7h0M146.6 371.4h0M95.9 439.0h0M126.3 406.7h0M119.7 428.2h0M128.7 393.9h0M132.9 351.8h0M148.0 386.9h0M137.2 387.0h0M97.4 387.4h0M112.3 436.5h0M64.6 478.8h0M67.2 424.8h0M71.6 472.0h0M76.3 475.2h0M106.6 426.9h0M137.2 428.5h0M133.3 396.8h0M108.1 432.5h0M125.8 403.6h0M94.5 456.7h0M52.2 446.6h0M110.2 431.2h0M79.3 475.9h0M118.5 364.6h0M66.9 432.1h0M51.5 454.3h0M137.9 393.5h0M68.4 485.8h0M88.1 413.8h0M92.0 378.2h0M147.5 427.5h0M143.3 391.4h0M66.0 478.3h0M94.0 407.2h0M144.9 383.6h0M144.0 383.9h0M117.6 410.6h0M92.5 401.9h0M84.7 401.2h0M145.4 372.8h0M129.4 393.6h0M133.0 355.6h0M62.9 428.6h0M71.2 435.9h0M109.1 436.2h0M145.2 399.7h0M145.8 396.4h0M147.5 382.9h0M118.6 372.8h0M124.6 360.7h0M116.4 416.3h0M96.9 450.1h0M52.4 459.7h0M89.0 453.1h0M125.2 428.1h0M89.7 404.1h0M100.5 433.6h0M109.5 428.9h0M132.0 391.1h0M101.5 457.1h0M131.7 392.8h0M145.9 398.9h0M146.6 382.3h0M74.6 432.4h0M140.5 385.7h0M130.4 412.0h0M100.6 379.5h0M76.6 462.8h0M126.8 398.4h0M86.7 451.7h0M137.2 392.0h0M101.8 392.0h0M135.1 407.6h0M69.0 475.0h0M110.1 377.5h0M102.3 374.5h0M80.8 362.8h0M102.2 429.2h0M141.4 378.5h0M144.6 413.4h0M126.6 404.4h0M144.6 384.5h0M98.7 389.4h0M146.6 370.2h0M109.2 371.2h0M117.3 359.7h0M124.9 408.5h0M125.4 361.4h0M126.3 402.5h0M61.4 428.1h0M118.5 419.5h0M83.3 476.8h0M94.7 399.2h0M53.7 447.0h0M145.7 378.0h0M74.4 418.7h0M67.8 438.7h0M145.9 372.8h0M44.7 460.0h0M128.6 352.2h0M110.6 381.5h0M141.1 388.6h0M94.7 380.4h0M97.6 457.7h0M125.2 407.7h0M146.1 375.5h0M141.2 417.9h0M143.9 380.0h0M141.6 380.0h0M124.0 432.1h0M143.3 403.9h0M106.6 364.8h0M126.2 361.2h0M91.7 397.1h0M91.2 384.5h0M137.0 390.9h0M142.2 401.1h0M140.7 379.8h0M106.2 430.4h0M55.3 434.6h0M55.5 442.6h0M133.0 393.5h0M132.7 410.4h0M134.0 398.7h0M56.6 444.0h0M121.4 363.8h0M68.0 478.2h0M80.9 460.8h0M136.4 383.7h0M110.7 362.7h0M145.0 420.2h0M51.4 460.2h0M57.6 444.4h0M147.9 368.9h0M140.2 385.1h0M124.5 357.0h0M128.2 401.6h0M145.7 380.6h0M92.2 387.2h0M142.9 409.0h0M73.1 426.4h0M76.9 424.2h0M144.2 375.0h0M129.3 422.9h0M112.5 429.0h0M138.6 384.8h0M45.4 456.0h0M67.4 428.1h0M72.6 427.3h0M63.1 429.3h0M145.0 404.4h0M141.2 387.9h0M143.3 401.4h0M132.3 352.1h0M127.8 441.6h0M120.3 406.8h0M144.9 388.8h0M123.7 406.7h0M73.4 475.0h0M126.8 425.8h0M79.7 416.1h0M142.0 408.8h0M144.2 434.9h0M137.7 388.3h0M127.6 354.0h0M47.0 464.5h0M130.8 406.8h0M137.8 391.5h0M127.3 410.2h0M64.0 445.2h0M142.6 383.9h0M108.0 371.9h0M95.1 440.9h0M76.1 468.7h0M115.5 362.6h0M120.8 407.9h0M128.8 406.8h0M49.8 430.9h0M120.6 372.4h0M134.7 409.4h0M63.7 447.1h0M114.9 417.9h0M139.4 384.3h0M77.1 485.9h0M61.9 447.0h0M146.5 421.6h0M58.7 448.5h0M91.4 442.9h0M128.8 410.4h0M143.5 377.2h0M132.9 406.0h0M79.1 468.2h0M94.2 468.9h0M107.6 433.2h0M73.3 428.2h0M110.5 439.9h0M120.4 404.6h0M62.7 435.9h0M122.0 404.0h0M128.1 407.6h0M77.0 424.5h0M128.5 361.8h0M84.9 455.6h0M88.4 469.9h0M75.2 425.3h0M129.9 412.3h0M91.6 392.6h0M139.7 413.9h0M65.1 408.9h0M102.2 433.5h0M86.3 387.5h0M132.5 400.5h0M116.6 371.3h0M129.4 420.4h0M103.6 384.5h0M127.3 395.8h0M107.2 387.9h0M79.5 421.8h0M80.8 459.1h0M46.8 462.0h0M111.8 423.6h0M132.8 407.2h0M107.1 382.8h0M127.9 412.1h0M101.9 436.0h0M54.3 453.9h0M103.2 441.0h0M97.3 442.5h0M102.1 382.1h0M126.4 407.7h0M96.7 460.1h0M115.6 366.7h0M92.5 397.1h0M98.8 441.0h0M139.6 396.5h0M129.6 408.6h0M64.3 411.2h0M145.2 399.5h0M66.3 480.2h0M102.8 380.2h0M137.1 414.4h0M146.1 378.9h0M126.7 358.1h0M121.8 405.2h0M67.4 484.9h0M145.9 420.0h0M143.2 383.1h0M96.5 440.2h0M50.2 439.8h0M90.6 403.0h0M101.7 387.4h0M121.0 365.3h0M139.4 407.9h0M111.6 377.4h0M145.4 383.2h0M57.7 437.5h0M57.7 442.3h0M77.6 481.2h0M135.1 407.2h0M87.0 412.1h0M135.7 416.9h0M111.0 429.0h0M58.5 447.9h0M53.7 455.3h0M80.0 460.4h0M113.9 432.4h0M117.3 437.6h0M136.9 424.6h0M126.5 421.2h0M71.3 433.9h0M143.0 401.9h0M64.1 444.4h0M91.7 443.7h0M83.7 474.0h0M146.3 375.2h0M130.1 401.0h0M94.0 449.4h0M49.4 445.7h0M109.0 387.6h0M109.8 422.4h0M97.8 440.4h0M100.2 382.3h0M136.3 392.1h0M104.7 367.8h0M125.5 398.8h0M63.5 447.4h0M95.3 458.2h0M80.8 421.9h0M88.2 449.6h0M59.1 442.0h0M143.7 387.8h0M145.1 376.0h0M123.8 406.3h0M62.1 428.9h0M114.8 419.3h0M72.3 470.2h0M115.1 416.8h0M136.7 389.7h0M132.6 405.1h0M100.9 434.8h0M138.7 395.9h0M87.9 476.8h0M119.1 455.9h0M83.3 390.7h0M64.5 445.9h0M147.5 370.2h0M147.9 371.1h0M95.4 375.7h0M110.9 421.8h0M112.1 381.7h0M108.9 430.9h0M106.5 372.0h0M91.7 382.5h0M107.0 433.1h0M96.2 376.0h0M59.6 442.4h0M122.9 365.2h0M105.8 368.4h0M143.0 391.5h0M66.5 436.8h0M131.8 393.7h0M105.6 425.5h0M53.4 430.2h0M95.5 437.4h0M88.4 458.3h0M136.6 408.2h0M112.2 438.2h0M56.0 442.9h0M61.0 438.9h0M117.9 360.2h0M129.0 394.5h0M142.3 384.9h0M113.1 375.5h0M59.1 432.6h0M114.6 376.2h0M85.5 459.8h0M94.1 382.6h0M128.8 427.1h0M121.9 430.8h0M138.2 382.9h0M139.3 410.3h0M133.5 402.1h0M108.4 386.6h0M127.6 406.3h0M81.3 412.8h0M102.9 434.2h0M122.2 351.9h0M132.0 393.3h0M125.0 423.7h0M128.6 404.8h0M109.1 419.7h0M76.9 419.4h0M146.4 382.0h0M80.2 420.8h0M48.8 444.7h0M62.5 483.7h0M86.3 404.1h0M91.5 446.1h0M97.7 387.0h0M147.0 377.0h0M141.0 386.8h0M90.4 457.3h0M116.5 414.7h0M142.0 398.5h0M73.2 470.5h0M99.2 393.3h0M115.2 430.7h0M147.6 372.6h0M133.3 353.4h0M141.4 406.9h0M86.6 411.8h0M76.5 477.1h0M146.9 377.6h0M58.8 487.2h0M143.5 386.8h0M112.1 438.9h0M77.9 481.3h0M60.0 484.1h0M136.0 417.7h0M117.1 428.6h0M135.6 388.1h0M91.0 409.9h0M145.8 394.9h0M138.7 383.3h0M81.2 456.6h0M140.9 410.8h0M114.8 429.5h0M139.8 427.9h0M146.6 414.2h0M129.5 358.8h0M147.7 393.7h0M145.8 377.3h0M147.9 391.0h0M124.2 355.3h0M119.8 363.9h0M121.4 368.4h0M57.5 453.7h0M117.2 411.6h0M136.3 388.9h0M122.7 362.1h0M55.6 440.0h0M117.2 410.1h0M86.4 464.3h0M116.4 369.0h0M96.4 437.4h0M49.9 459.3h0M137.2 402.9h0M61.2 487.4h0M82.8 411.1h0M60.3 434.6h0M71.1 415.2h0M108.7 376.3h0M108.9 364.8h0M106.3 427.8h0M123.7 360.8h0M128.0 394.8h0M139.5 380.0h0M103.4 371.8h0M80.0 467.9h0M106.5 386.9h0M92.4 447.7h0M94.8 442.5h0M52.5 431.1h0M61.7 446.9h0M126.9 356.8h0M139.8 404.1h0M101.3 444.2h0M88.0 460.8h0M143.0 379.9h0M116.3 423.7h0M94.7 456.3h0" stroke="#9a46d4" stroke-width="2.1" stroke-linecap="round" fill="none"/>
<path d="M44.8 450.6h0M116.2 456.7h0M109.5 447.0h0M69.5 415.8h0M60.6 391.3h0M61.9 409.8h0M56.2 411.7h0M67.7 439.3h0M76.1 425.4h0M143.4 439.3h0M97.7 402.2h0M53.9 440.6h0M78.9 363.1h0M144.6 463.7h0M146.6 377.7h0M62.8 429.2h0M141.6 385.8h0M97.6 483.4h0M121.1 457.3h0M103.7 469.8h0M83.2 412.4h0M56.4 355.1h0M64.9 432.9h0M65.1 422.5h0M132.9 437.2h0M66.6 442.9h0M73.9 476.0h0M54.3 458.3h0M59.8 400.3h0M142.2 386.4h0M49.4 397.6h0M52.6 455.1h0M83.0 399.5h0M111.6 384.3h0M71.7 428.8h0M85.6 397.5h0M64.2 392.8h0M78.8 423.5h0M63.7 430.5h0M46.0 469.9h0M57.8 429.9h0M62.3 443.4h0M55.0 399.0h0M48.3 453.9h0M60.7 444.3h0M52.0 453.3h0M65.4 440.8h0M61.5 380.3h0M116.5 476.1h0M46.9 405.0h0M141.1 395.3h0M83.0 388.7h0M141.7 432.4h0M80.1 463.4h0M131.9 389.7h0M85.2 472.3h0M62.6 367.3h0M87.2 448.5h0M45.3 451.8h0M138.5 412.2h0M70.7 470.4h0M60.0 417.4h0M44.8 467.6h0M79.5 478.3h0M119.7 360.5h0M45.1 459.6h0M50.0 459.1h0M85.4 451.4h0M98.1 446.6h0M45.7 470.1h0M87.6 470.7h0M48.9 453.4h0M60.9 422.9h0M104.3 485.3h0M83.4 403.5h0M48.6 458.5h0M58.5 413.7h0M140.0 378.8h0M77.8 367.2h0M97.7 463.1h0M45.4 437.0h0M46.1 436.9h0" stroke="#e0535c" stroke-width="2.1" stroke-linecap="round" fill="none"/>
<path d="M119.3 406.0h0M89.0 408.1h0M77.6 392.6h0M64.0 411.7h0M95.5 450.7h0M128.8 400.6h0M73.4 468.4h0M141.8 399.3h0" stroke="#f2b530" stroke-width="2.1" stroke-linecap="round" fill="none"/>
<path d="M72.3 435.9h0M47.2 454.3h0M113.4 371.5h0M70.6 415.7h0M109.2 459.9h0M55.6 432.2h0M76.0 419.0h0M105.1 391.4h0M68.3 435.5h0M65.1 481.1h0M106.5 357.7h0M60.8 440.3h0M83.0 454.4h0M101.6 387.2h0M53.3 460.0h0M69.5 425.0h0M70.6 432.6h0M74.0 476.4h0M75.0 474.2h0M77.5 428.0h0M65.9 425.0h0M144.5 378.1h0M119.7 410.7h0M111.5 368.6h0M79.2 409.6h0M103.8 430.1h0M80.8 474.8h0M92.9 407.3h0M49.3 461.6h0M117.9 373.3h0M74.0 398.5h0M78.8 407.3h0M135.3 396.4h0M143.2 407.5h0M70.4 480.0h0M100.2 381.8h0M76.3 389.5h0M72.7 422.3h0M73.9 480.1h0M90.0 446.9h0M60.1 447.5h0M59.6 449.9h0M78.5 398.2h0M91.8 403.0h0M63.4 442.3h0M68.7 428.0h0M106.6 381.7h0M48.7 450.5h0M72.9 434.8h0M110.0 450.3h0M100.6 448.9h0M55.6 436.3h0M68.2 403.2h0M83.2 482.7h0M83.8 406.9h0M55.2 440.4h0M66.0 441.2h0M68.8 480.6h0M47.5 456.3h0M86.5 412.5h0M106.8 377.2h0M53.3 454.2h0M94.2 455.9h0M108.0 377.2h0M62.0 444.4h0M72.1 474.7h0M53.0 456.5h0M104.8 428.3h0M76.1 425.2h0M75.7 411.6h0M106.0 361.9h0M87.6 412.3h0M81.3 405.9h0M45.7 462.2h0M60.5 435.7h0M144.8 373.9h0M77.4 425.0h0M50.7 443.6h0M124.3 455.1h0M105.5 447.5h0M72.5 468.2h0M122.9 459.6h0M96.2 380.9h0M66.1 438.9h0M75.8 420.6h0M106.7 465.4h0M48.6 459.9h0M62.0 424.7h0M78.8 418.5h0M52.2 445.4h0M58.1 422.2h0M124.0 354.1h0M77.1 426.9h0M65.7 430.0h0M83.4 408.5h0M68.5 481.0h0M91.7 406.4h0M60.4 448.1h0" stroke="#348a2b" stroke-width="2.1" stroke-linecap="round" fill="none"/>
<path d="M141.1 411.0h0M103.9 454.2h0M110.0 435.6h0M123.2 355.3h0M145.4 401.2h0M109.4 370.0h0M72.3 368.0h0M97.1 461.1h0M136.7 426.7h0M120.3 409.5h0M146.2 422.3h0M100.6 449.3h0M140.9 377.6h0M125.1 428.6h0M111.5 453.7h0M130.4 471.2h0M105.3 457.4h0M62.2 442.4h0M114.0 452.7h0M112.7 359.1h0M72.0 478.7h0M84.9 411.3h0M127.2 482.2h0M140.9 404.5h0M109.8 423.2h0M81.9 399.1h0M95.2 437.3h0M133.8 405.4h0M126.7 412.9h0M132.3 413.2h0M127.6 396.8h0M124.4 430.8h0M78.9 409.7h0M128.3 419.3h0M70.6 428.1h0M89.3 411.4h0M113.3 465.7h0M86.4 393.6h0M107.1 440.9h0M77.1 422.9h0M126.4 397.7h0M84.1 477.1h0M60.9 483.5h0M93.4 446.4h0M79.7 467.0h0M98.8 380.6h0M108.0 440.5h0M111.1 420.7h0M138.2 446.2h0M146.4 383.5h0M98.3 400.6h0M119.6 421.1h0M130.3 409.4h0M119.6 447.9h0" stroke="#3a86ee" stroke-width="2.1" stroke-linecap="round" fill="none"/>
<line x1="36.45" y1="487.50" x2="39.65" y2="487.50" stroke="#111" stroke-width="0.9"/>
<text x="33.85" y="490.20" font-size="7.5" text-anchor="end">0.00</text>
<line x1="44.50" y1="493.10" x2="44.50" y2="496.10" stroke="#111" stroke-width="0.9"/>
<text x="44.50" y="505.20" font-size="7.5" text-anchor="middle">0.00</text>
<line x1="36.45" y1="453.50" x2="39.65" y2="453.50" stroke="#111" stroke-width="0.9"/>
<text x="33.85" y="456.20" font-size="7.5" text-anchor="end">0.25</text>
<line x1="70.40" y1="493.10" x2="70.40" y2="496.10" stroke="#111" stroke-width="0.9"/>
<text x="70.40" y="505.20" font-size="7.5" text-anchor="middle">0.25</text>
<line x1="36.45" y1="419.50" x2="39.65" y2="419.50" stroke="#111" stroke-width="0.9"/>
<text x="33.85" y="422.20" font-size="7.5" text-anchor="end">0.50</text>
<line x1="96.30" y1="493.10" x2="96.30" y2="496.10" stroke="#111" stroke-width="0.9"/>
<text x="96.30" y="505.20" font-size="7.5" text-anchor="middle">0.50</text>
<line x1="36.45" y1="385.50" x2="39.65" y2="385.50" stroke="#111" stroke-width="0.9"/>
<text x="33.85" y="388.20" font-size="7.5" text-anchor="end">0.75</text>
<line x1="122.20" y1="493.10" x2="122.20" y2="496.10" stroke="#111" stroke-width="0.9"/>
<text x="122.20" y="505.20" font-size="7.5" text-anchor="middle">0.75</text>
<line x1="36.45" y1="351.50" x2="39.65" y2="351.50" stroke="#111" stroke-width="0.9"/>
<text x="33.85" y="354.20" font-size="7.5" text-anchor="end">1.00</text>
<line x1="148.10" y1="493.10" x2="148.10" y2="496.10" stroke="#111" stroke-width="0.9"/>
<text x="148.10" y="505.20" font-size="7.5" text-anchor="middle">1.00</text>
<rect x="39.65" y="345.10" width="112.75" height="148.00" fill="none" stroke="#111" stroke-width="1.25"/>
<text x="95.60" y="342.00" font-size="7.9" text-anchor="middle" textLength="85.20" lengthAdjust="spacingAndGlyphs">Differential splicing events</text>
<text x="95.85" y="516.20" font-size="9.2" text-anchor="middle" textLength="77.90" lengthAdjust="spacingAndGlyphs" stroke="#1a1a1a" stroke-width="0.15">Mean inclusion levels in WT</text>
<text x="13.80" y="418.50" font-size="9.2" text-anchor="middle" textLength="86.40" lengthAdjust="spacingAndGlyphs" transform="rotate(-90 13.80 418.50)" stroke="#1a1a1a" stroke-width="0.15">Mean inclusion levels in K700E</text>
<circle cx="161.3" cy="409.40" r="0.9" fill="#e0535c"/>
<text x="165.30" y="411.90" font-size="7.3">A3SS</text>
<circle cx="161.3" cy="415.82" r="0.9" fill="#f2b530"/>
<text x="165.30" y="418.32" font-size="7.3">A5SS</text>
<circle cx="161.3" cy="422.24" r="0.9" fill="#348a2b"/>
<text x="165.30" y="424.74" font-size="7.3">MXE</text>
<circle cx="161.3" cy="428.66" r="0.9" fill="#3a86ee"/>
<text x="165.30" y="431.16" font-size="7.3">RI</text>
<circle cx="161.3" cy="435.08" r="0.9" fill="#9a46d4"/>
<text x="165.30" y="437.58" font-size="7.3">SE</text>
<line x1="154.90" y1="345.80" x2="274.50" y2="335.10" stroke="#111" stroke-width="1.0"/>
<line x1="154.90" y1="492.90" x2="274.50" y2="503.70" stroke="#111" stroke-width="1.0"/>
<path d="M314.9 367.8h0M327.1 352.3h0M322.9 337.6h0M317.9 337.9h0M310.3 348.9h0M325.6 352.1h0M294.8 379.5h0M303.2 385.0h0M302.3 359.3h0M315.9 368.3h0M322.6 360.2h0M289.7 380.7h0M321.0 358.8h0M286.0 392.3h0M283.5 388.7h0M306.1 381.1h0M311.1 350.7h0M307.9 355.3h0M304.1 365.5h0M322.6 359.0h0M316.2 346.1h0M313.1 347.3h0M319.0 371.3h0M317.1 362.9h0M282.6 391.0h0M295.5 396.3h0M301.8 405.1h0M297.3 404.1h0M327.7 351.0h0M310.3 378.4h0M308.4 376.6h0M303.2 365.8h0M327.1 360.7h0M316.5 370.3h0M294.0 369.4h0M294.5 404.8h0M325.2 363.3h0M308.5 358.4h0M301.8 350.8h0M325.1 353.3h0M286.7 386.7h0M311.3 391.5h0M318.4 344.1h0M323.7 355.4h0M319.0 366.8h0M289.5 348.6h0M325.6 354.3h0M321.4 338.1h0M316.0 342.8h0M314.3 371.2h0M314.2 348.6h0M325.0 355.8h0M319.9 368.2h0M325.6 367.1h0M323.5 355.7h0M291.4 376.5h0M310.6 373.9h0M301.6 351.8h0M314.8 344.2h0M316.9 343.1h0M314.2 344.4h0M299.1 393.0h0M327.9 354.8h0M313.2 344.4h0M322.2 363.1h0M314.3 345.2h0M306.1 378.6h0M304.3 356.1h0M303.6 358.0h0M313.1 377.7h0M296.7 369.1h0M287.3 377.7h0M306.5 393.5h0M321.4 361.8h0M314.2 350.3h0M296.4 371.0h0M310.4 376.2h0M315.3 365.7h0M302.9 359.4h0M307.8 382.8h0M287.8 366.9h0M292.4 371.1h0M316.3 364.8h0M317.5 346.1h0M297.1 393.5h0M290.4 383.6h0M314.8 368.7h0M321.8 374.1h0M301.2 396.2h0M328.5 348.5h0M328.2 353.9h0M294.8 373.1h0M322.6 362.9h0M296.2 403.6h0M317.7 345.3h0M313.4 368.2h0M300.1 368.9h0M295.7 400.5h0M326.3 350.7h0M297.2 391.7h0M309.4 357.3h0M327.3 347.6h0M308.7 357.6h0M293.0 379.3h0M305.5 381.7h0M291.5 402.1h0M303.9 362.9h0M298.9 368.7h0M320.6 341.3h0M319.0 372.4h0M313.6 376.5h0M327.7 372.1h0M307.0 382.4h0M318.4 369.9h0M319.2 365.4h0M313.0 350.0h0M310.6 344.6h0M306.2 362.4h0M313.5 341.8h0M311.8 376.3h0M306.1 359.8h0M305.8 357.0h0M313.8 347.9h0M294.9 369.7h0M285.9 386.6h0M308.9 388.7h0M312.4 371.5h0M306.4 382.1h0M310.1 340.4h0M292.9 379.7h0M326.7 355.3h0M283.8 389.7h0M303.8 363.2h0M291.9 379.1h0M295.2 355.0h0M319.9 375.2h0M288.4 379.2h0M325.3 352.5h0M301.3 365.4h0M302.4 388.3h0M315.6 373.2h0M328.4 348.1h0M310.5 372.9h0M328.4 349.8h0M318.6 341.2h0M304.5 359.0h0M319.5 362.9h0M324.2 370.1h0M300.0 361.6h0M327.4 347.8h0M322.2 356.7h0M314.8 366.4h0M311.5 372.5h0M319.2 375.3h0M321.3 356.5h0M291.0 402.4h0M309.7 385.5h0M326.6 369.4h0M301.5 369.6h0M295.1 395.1h0M327.4 356.9h0M324.7 362.3h0M307.0 356.5h0M311.6 379.3h0M322.1 357.7h0M288.1 385.4h0M305.5 360.8h0M303.0 383.8h0M322.2 370.0h0M289.6 381.7h0M301.7 394.1h0M294.3 379.8h0M323.4 366.6h0M314.6 376.2h0M295.2 403.0h0M323.9 361.3h0M290.9 379.6h0M297.4 394.1h0M323.6 353.1h0M299.5 388.8h0M293.8 372.9h0M294.2 374.8h0M320.4 340.0h0M318.6 342.2h0M316.6 366.9h0M307.9 355.2h0M317.6 339.2h0M317.4 365.5h0M306.8 381.9h0M302.6 365.9h0M310.6 372.4h0M321.3 357.3h0M321.0 339.4h0M327.5 362.1h0M317.8 376.5h0M324.2 361.7h0M320.3 341.3h0M286.2 391.6h0M309.6 376.4h0M313.3 377.1h0M314.2 370.1h0M327.4 350.6h0M293.5 374.1h0M328.0 358.0h0M324.0 357.0h0M324.0 354.7h0M294.0 377.8h0M297.6 402.2h0M284.6 390.9h0M290.8 366.9h0M304.0 395.8h0M295.5 399.8h0M296.0 398.7h0M297.1 375.6h0M309.7 348.1h0M328.3 346.3h0M314.6 341.4h0M326.6 358.8h0M323.5 355.8h0M291.9 374.1h0M327.1 350.6h0M310.3 379.9h0M325.7 370.2h0M298.7 371.9h0M316.9 366.3h0M312.1 353.9h0M327.0 349.9h0M323.9 366.1h0M323.5 362.6h0M323.3 355.8h0M316.0 371.5h0M324.0 356.1h0M316.0 366.9h0M309.9 376.0h0M299.2 364.5h0M311.4 346.5h0M322.1 377.6h0M326.0 352.1h0M318.0 340.2h0M312.8 369.8h0M315.3 345.3h0M302.6 366.7h0M318.7 367.4h0M300.0 393.5h0M320.3 379.7h0M313.6 381.0h0M318.1 371.3h0M307.9 352.5h0M303.3 366.2h0M313.0 347.5h0M303.2 393.3h0M311.3 350.6h0M308.7 357.1h0M313.0 343.2h0M319.1 360.8h0M295.5 361.4h0M306.2 380.4h0M320.2 366.6h0M316.3 337.6h0M293.1 373.8h0M302.7 385.6h0M285.8 391.1h0M286.5 387.4h0M322.3 338.2h0M314.5 344.8h0M312.3 345.8h0M325.0 353.7h0M306.3 358.5h0M288.3 371.3h0M300.2 388.6h0M307.8 354.0h0M319.0 361.7h0M287.0 389.6h0M326.3 349.6h0M323.0 360.8h0M312.0 371.1h0M308.7 380.2h0M326.4 350.0h0M316.9 344.9h0M290.2 384.0h0M299.8 395.2h0M320.3 368.2h0M320.7 339.9h0M300.4 391.9h0M320.3 362.7h0M300.7 363.5h0M316.5 381.9h0M318.5 343.9h0M297.8 366.4h0M296.4 395.2h0M328.4 347.7h0M318.9 365.7h0M322.1 360.4h0M292.2 405.2h0M310.4 381.0h0M297.9 369.8h0M292.3 399.4h0M315.9 339.8h0M319.2 339.0h0M318.8 371.0h0M325.1 360.6h0M309.1 374.4h0M288.7 385.4h0M327.0 352.9h0M315.4 367.9h0M297.6 393.4h0M319.0 339.4h0M302.5 394.3h0M322.6 368.5h0M294.6 402.1h0M320.1 361.3h0M294.7 345.6h0M322.1 367.1h0M309.0 401.1h0M285.6 384.3h0M296.7 392.6h0M295.7 376.1h0M290.8 382.9h0M293.4 379.2h0M308.8 376.6h0M298.6 398.9h0M311.3 350.2h0M328.0 356.7h0M316.4 378.4h0M310.4 384.3h0M301.5 368.3h0M326.6 350.0h0M304.0 365.2h0M295.8 396.3h0M305.8 392.1h0M307.9 376.4h0M284.5 392.4h0M308.7 349.1h0M315.9 370.5h0M291.7 400.3h0M296.5 351.3h0M301.1 355.2h0M314.7 344.5h0M315.2 348.2h0M295.5 360.8h0M323.1 354.6h0M312.4 373.1h0M313.4 378.0h0M326.3 376.4h0M324.7 357.9h0M301.5 369.4h0M303.5 386.9h0M326.9 349.5h0M293.8 378.1h0M296.7 372.7h0M292.8 398.7h0M315.8 364.6h0M313.7 344.1h0M308.2 356.2h0M297.7 365.2h0M312.2 377.8h0M322.9 359.8h0M324.7 351.6h0M312.8 346.2h0M301.9 389.7h0M288.0 373.2h0M328.2 355.4h0M326.5 365.3h0M287.6 374.7h0M319.6 366.0h0M305.8 362.5h0M323.6 360.0h0M309.7 349.4h0M293.4 404.5h0M292.2 368.8h0M297.0 395.2h0M291.3 403.8h0M310.1 355.2h0M304.1 382.1h0M304.7 393.7h0M303.7 347.7h0M321.8 356.8h0M316.7 346.4h0M305.8 385.0h0M324.1 363.8h0M320.7 364.5h0M282.6 393.0h0M311.1 351.7h0M307.1 387.6h0M311.9 348.8h0M315.3 365.7h0M324.3 354.7h0M315.4 368.3h0M317.0 367.5h0M316.2 344.2h0M311.7 351.8h0M323.6 374.9h0M292.9 379.4h0M316.4 373.4h0M312.7 371.8h0M316.7 345.9h0M293.9 401.5h0M285.2 391.5h0M293.9 398.9h0M294.9 366.0h0M307.2 352.4h0M316.8 346.4h0M293.0 378.4h0M296.9 401.5h0M311.6 378.1h0M316.2 366.3h0M316.4 374.7h0M313.3 368.9h0M327.0 348.0h0M327.9 372.7h0M294.6 395.5h0M318.2 370.7h0M299.1 392.0h0M309.0 380.3h0M292.6 398.8h0M327.7 354.6h0M284.4 394.4h0M306.5 384.7h0M313.7 374.0h0M323.7 361.3h0M302.7 365.2h0M305.3 387.7h0M298.8 370.6h0M308.6 356.9h0M287.2 387.0h0M293.9 375.0h0M320.2 368.0h0M296.5 356.3h0M326.7 353.8h0M298.6 369.0h0M303.8 355.0h0M291.5 379.5h0M297.0 369.9h0M312.0 352.6h0M315.8 370.5h0M312.7 374.6h0M285.1 386.8h0M286.9 379.5h0M289.2 382.5h0M320.7 375.8h0M325.3 370.2h0M324.4 353.9h0M317.0 344.9h0M283.2 390.4h0M285.1 391.8h0M316.2 343.4h0M301.2 386.5h0M327.1 354.3h0M294.9 372.7h0M286.0 376.8h0M314.8 371.7h0M318.9 372.9h0M307.4 386.2h0M295.5 401.6h0M297.7 365.7h0M313.5 346.0h0M328.5 354.2h0M290.2 381.4h0M282.4 383.4h0M300.9 395.3h0M317.8 370.3h0M290.9 380.9h0M312.6 343.6h0M326.2 349.2h0M307.5 349.9h0M298.6 391.9h0M291.1 383.0h0M311.1 375.9h0M305.9 382.2h0M304.9 386.0h0M325.9 351.4h0M300.0 396.3h0M298.9 391.1h0M286.8 387.9h0M323.2 362.6h0M298.4 372.1h0M308.3 341.4h0M328.2 356.7h0M320.6 370.2h0M315.0 373.9h0M295.9 402.8h0M292.6 378.5h0M316.9 346.5h0M325.9 353.6h0M327.9 347.2h0M306.3 379.2h0M325.5 350.4h0M304.0 353.7h0M318.8 367.4h0M327.4 349.4h0M324.8 355.8h0M299.5 361.3h0M309.8 380.6h0M307.6 359.6h0M313.7 346.9h0M323.4 361.1h0M322.3 356.3h0M309.4 355.3h0M312.1 377.5h0M300.3 387.3h0M318.4 375.9h0M306.4 390.7h0M323.3 372.6h0M320.9 364.6h0M311.6 375.0h0M327.1 353.2h0M327.9 354.5h0M289.8 380.4h0M317.2 343.2h0M312.3 388.4h0M310.1 382.5h0M302.7 385.0h0M323.7 353.3h0M320.8 397.1h0M322.9 369.0h0M309.4 355.5h0M315.5 342.4h0M289.3 385.3h0M299.4 370.5h0M283.3 384.8h0M310.5 388.0h0M306.3 384.0h0M304.7 357.5h0M316.2 346.5h0M302.3 388.8h0M322.5 355.5h0M301.1 364.0h0M290.8 405.3h0M307.8 356.2h0M305.2 381.8h0M289.1 386.5h0M308.9 384.4h0M324.1 356.2h0M296.7 403.6h0M306.9 356.8h0M323.0 378.0h0M297.5 360.7h0M326.4 349.6h0M307.0 350.2h0M298.2 394.3h0M313.3 373.4h0M324.1 359.8h0M316.8 340.6h0M304.3 357.3h0M326.8 352.3h0M317.1 341.2h0M299.5 393.8h0M303.9 386.4h0M327.6 351.7h0M305.6 348.0h0M292.5 380.3h0M298.4 391.4h0M313.0 369.7h0M291.4 375.1h0M304.5 387.9h0M289.2 385.1h0M303.1 360.7h0M305.6 363.2h0M303.5 363.1h0M322.4 361.4h0M310.0 383.7h0M327.6 351.1h0M291.5 375.5h0M309.5 390.3h0M312.4 346.9h0M316.6 366.2h0M293.1 376.5h0M323.9 370.0h0M318.4 338.8h0M326.1 365.5h0M327.7 366.3h0M324.1 356.8h0M288.0 384.6h0M298.7 395.5h0M296.1 367.5h0M297.9 403.7h0M282.3 392.6h0M297.3 369.6h0M284.0 393.4h0M290.2 382.7h0M308.4 357.1h0M326.9 360.3h0M305.3 352.7h0M313.4 387.9h0M290.8 382.7h0M305.8 379.3h0M324.6 354.3h0M283.2 392.3h0M307.2 380.4h0M305.9 380.5h0M319.9 369.0h0M293.1 375.5h0M295.0 405.2h0M321.0 369.4h0M317.1 364.9h0M319.9 371.8h0M324.2 357.2h0M311.4 353.8h0M313.2 339.3h0M317.8 345.1h0M300.8 369.5h0M291.2 373.7h0M310.1 352.4h0M321.4 359.4h0M325.7 351.5h0M310.0 374.8h0M312.8 341.1h0M283.6 394.7h0M323.3 364.5h0M320.7 368.6h0M296.7 400.5h0M319.6 368.2h0M327.8 354.1h0M294.0 403.9h0M322.3 339.1h0M297.4 368.6h0M323.5 359.7h0M320.2 361.7h0M296.4 395.2h0M291.0 403.1h0M292.2 379.7h0M282.4 384.6h0M317.5 345.3h0M284.2 386.8h0M305.5 382.1h0M325.8 361.0h0M292.7 368.5h0M293.4 404.2h0M316.9 346.0h0M298.9 390.3h0M283.8 383.7h0M318.8 343.0h0M324.9 359.1h0M286.4 384.3h0M293.3 372.2h0M312.6 343.0h0M303.4 357.9h0M298.1 373.4h0M287.1 390.6h0M303.6 365.8h0M301.5 387.3h0M298.5 396.3h0M325.8 359.9h0M324.8 352.3h0M305.8 381.6h0M320.2 362.9h0M305.8 384.8h0M328.2 351.0h0M302.3 365.6h0M296.7 374.9h0M327.7 351.3h0M295.0 379.0h0M325.2 356.7h0M309.4 351.3h0M289.7 378.5h0M311.6 386.7h0M316.9 365.0h0M303.5 352.2h0M308.6 351.8h0M307.4 386.0h0M317.5 339.4h0M317.3 369.4h0M308.2 376.5h0M327.0 357.8h0M309.8 355.1h0M294.6 400.9h0M321.8 356.9h0M290.1 377.9h0M323.0 362.5h0M300.4 367.2h0M328.6 350.0h0M302.8 364.1h0M324.3 352.6h0M291.4 376.0h0M321.6 360.9h0M301.4 396.8h0M284.5 393.4h0M301.0 365.9h0M319.3 402.6h0M301.4 363.5h0M290.3 380.0h0M295.6 370.6h0M325.5 363.8h0M299.7 388.7h0M303.1 390.8h0M302.1 385.6h0M308.6 383.5h0M328.4 352.9h0M290.5 382.1h0M292.4 381.2h0M319.4 338.0h0M313.7 345.6h0M314.3 348.4h0M289.4 384.3h0M287.3 379.7h0M308.0 357.8h0M325.8 360.3h0M321.6 367.8h0M312.7 371.1h0M297.1 357.8h0M311.6 373.1h0M324.5 362.3h0M324.3 360.6h0M305.6 381.6h0M328.3 346.5h0M291.1 402.8h0M324.4 358.9h0M307.4 379.1h0M302.9 364.0h0M323.8 356.5h0M291.8 383.4h0M293.8 400.9h0M304.7 354.7h0M309.6 379.5h0M312.7 347.3h0M328.3 363.7h0M314.8 346.2h0M326.9 357.6h0M311.3 376.0h0M316.9 344.9h0M299.1 361.1h0M312.8 345.8h0M303.0 393.3h0M288.8 378.1h0M315.9 340.6h0M289.1 403.9h0M316.0 379.9h0M316.8 370.5h0M322.3 357.3h0M325.9 355.1h0M307.8 357.2h0M292.4 365.8h0M298.2 404.5h0M296.5 369.8h0M316.2 373.4h0M323.9 365.7h0M322.4 354.9h0M321.6 356.1h0M327.4 351.5h0M327.1 363.1h0M292.9 363.1h0M321.9 358.4h0M291.2 402.6h0M305.4 360.2h0M306.0 341.6h0M299.8 401.2h0M321.2 363.1h0M326.2 349.6h0M327.5 359.6h0M302.2 392.1h0M322.2 355.7h0M305.1 361.2h0M325.3 353.3h0M325.9 362.2h0M323.7 355.5h0M292.6 376.7h0M297.6 401.4h0M312.5 370.6h0M299.6 402.9h0M300.7 396.5h0M323.4 371.9h0M291.3 382.2h0M299.9 365.0h0M328.0 367.8h0M302.9 391.4h0M320.0 358.7h0M322.3 357.1h0M328.7 356.9h0M289.4 381.4h0M310.0 379.3h0M314.5 345.4h0M316.0 344.6h0M326.4 356.7h0M284.8 379.2h0M313.9 369.1h0M313.0 378.3h0M287.1 381.7h0M283.6 388.8h0M324.1 361.9h0M324.2 354.6h0M305.0 380.2h0M314.5 339.5h0M306.5 356.3h0M291.2 380.1h0M312.2 369.9h0M320.0 368.8h0M309.5 350.0h0M291.1 373.6h0M294.0 374.0h0M303.9 359.7h0M317.5 367.5h0M316.9 368.9h0M324.4 353.2h0M316.7 363.2h0M307.5 349.4h0M319.0 363.3h0M304.0 363.9h0M290.0 379.6h0M322.8 373.8h0M323.6 363.5h0M307.9 356.2h0M324.3 366.0h0M317.0 381.9h0M301.9 390.1h0M325.6 360.8h0M319.5 340.7h0M294.1 400.4h0M321.5 337.6h0M309.3 351.8h0M306.1 346.7h0M324.2 364.2h0M322.1 359.9h0M290.3 378.1h0M322.3 364.3h0M310.3 353.6h0M319.1 368.0h0M289.3 403.3h0M308.5 380.0h0M285.7 387.5h0M288.9 375.2h0M319.2 361.3h0M295.8 399.0h0M290.2 383.1h0M308.4 353.2h0M290.9 376.4h0M304.4 385.2h0M320.0 367.5h0M327.2 351.5h0M326.8 352.1h0M324.2 358.1h0M286.1 389.7h0M306.4 341.5h0M314.7 369.4h0M322.8 363.2h0M310.3 351.4h0M318.1 361.9h0M304.4 364.7h0M324.3 360.5h0M313.9 375.5h0M292.5 378.2h0M321.6 368.1h0M295.9 377.7h0M323.1 354.4h0M303.2 384.8h0M302.8 362.4h0M316.8 343.4h0M293.9 379.5h0M291.9 382.1h0M310.8 345.8h0M311.2 380.1h0M293.2 401.8h0M321.1 365.1h0M311.4 375.3h0M303.4 359.7h0M320.9 373.2h0M312.4 346.9h0M310.2 374.4h0M304.2 383.5h0M299.4 371.4h0M301.4 358.9h0M328.0 347.3h0M305.3 381.0h0M318.9 364.9h0M316.0 375.7h0M320.0 358.5h0M321.9 337.4h0M328.7 355.0h0M283.6 389.7h0M323.8 355.1h0M306.0 355.2h0M312.7 379.8h0M301.1 367.8h0M291.3 400.9h0M292.5 374.0h0M294.4 397.5h0M296.5 399.2h0M310.1 375.0h0M323.8 375.8h0M322.1 359.9h0M310.8 377.8h0M310.2 350.2h0M318.7 363.4h0M304.7 389.9h0M285.8 384.9h0M286.2 388.6h0M311.7 377.2h0M297.9 399.5h0M315.4 343.9h0M292.3 377.6h0M285.4 388.7h0M324.1 358.3h0M293.0 404.4h0M304.5 389.5h0M301.8 368.5h0M303.6 350.7h0M328.4 375.3h0M326.5 357.2h0M291.9 400.7h0M304.5 365.1h0M327.3 353.3h0M319.5 359.9h0M318.1 377.0h0M326.9 353.5h0M315.0 366.9h0M303.8 362.5h0M297.7 366.4h0M300.3 362.1h0M327.5 348.0h0M320.3 358.3h0M321.9 339.3h0M290.5 375.9h0M294.3 379.5h0M311.2 379.7h0M327.4 361.4h0M310.7 350.1h0M327.7 359.7h0M290.1 383.8h0M328.4 353.0h0M315.5 347.9h0M294.7 398.9h0M318.2 341.9h0M314.5 369.7h0M305.8 386.6h0M285.8 391.4h0M302.2 388.1h0M318.4 375.6h0M302.5 363.6h0M307.4 378.3h0M311.4 376.0h0M321.5 357.1h0M307.8 390.1h0M321.4 358.0h0M327.7 361.0h0M328.0 352.7h0M295.8 377.7h0M325.3 354.4h0M320.8 367.5h0M286.1 389.8h0M307.4 351.3h0M296.7 392.9h0M319.1 360.8h0M319.8 371.2h0M301.2 387.4h0M323.8 357.5h0M308.0 357.5h0M309.3 375.7h0M322.9 365.3h0M293.3 399.0h0M311.7 350.3h0M308.2 348.8h0M296.5 374.2h0M298.5 343.0h0M308.1 376.1h0M325.7 350.8h0M327.1 368.3h0M319.1 363.7h0M327.1 353.8h0M306.6 356.3h0M328.0 346.7h0M311.3 347.1h0M314.9 341.4h0M318.3 365.8h0M318.5 342.2h0M318.9 362.8h0M289.9 375.6h0M315.4 371.3h0M299.7 399.9h0M304.8 361.2h0M294.0 375.6h0M286.4 385.1h0M327.6 350.5h0M296.3 367.3h0M295.7 370.9h0M292.7 380.9h0M327.7 348.0h0M282.4 391.6h0M320.0 337.7h0M309.8 342.5h0M311.9 352.3h0M325.6 355.8h0M304.8 351.8h0M306.1 390.4h0M318.5 365.4h0M327.8 349.3h0M325.6 370.5h0M326.8 351.5h0M325.8 351.5h0M317.9 377.6h0M326.5 363.5h0M310.1 343.9h0M318.9 342.2h0M303.5 360.1h0M303.2 353.8h0M323.7 357.0h0M326.1 362.1h0M325.4 351.5h0M302.4 367.2h0M309.9 376.8h0M287.1 378.8h0M287.2 382.8h0M322.0 358.3h0M321.8 366.7h0M322.4 360.9h0M287.7 383.5h0M301.6 367.7h0M316.7 343.4h0M292.8 400.6h0M298.6 392.0h0M323.4 353.4h0M312.0 342.9h0M327.3 371.6h0M313.1 394.4h0M285.4 391.7h0M288.1 383.7h0M328.6 346.0h0M325.2 354.1h0M298.8 364.5h0M318.1 340.1h0M282.8 392.6h0M319.8 362.4h0M327.6 351.9h0M303.7 355.2h0M326.4 366.0h0M295.1 374.8h0M296.8 373.7h0M327.0 349.1h0M320.3 373.0h0M312.8 376.0h0M324.5 353.9h0M282.7 389.6h0M292.6 375.6h0M294.9 375.2h0M289.5 379.4h0M290.6 376.2h0M327.3 363.8h0M301.1 358.3h0M327.2 348.5h0M325.6 355.5h0M326.5 362.2h0M321.6 337.6h0M319.6 382.4h0M316.3 364.9h0M327.2 355.9h0M317.8 364.9h0M295.2 399.1h0M319.2 374.5h0M298.1 369.6h0M326.0 366.0h0M327.0 379.0h0M310.4 382.0h0M324.0 355.7h0M319.5 338.6h0M291.0 367.4h0M283.4 393.8h0M320.9 364.9h0M296.9 373.0h0M324.1 357.3h0M319.4 366.7h0M297.0 374.0h0M291.0 384.1h0M326.2 353.5h0M310.7 347.5h0M305.0 382.0h0M285.1 383.4h0M296.4 395.9h0M314.1 342.9h0M316.5 365.5h0M319.0 360.4h0M320.1 364.9h0M284.7 377.0h0M316.4 347.8h0M322.7 366.3h0M290.9 385.1h0M300.0 400.1h0M313.8 370.5h0M324.8 353.7h0M296.9 404.5h0M290.1 385.1h0M328.0 372.4h0M288.7 385.8h0M303.3 383.0h0M320.0 366.8h0M326.6 350.2h0M321.9 364.5h0M297.8 395.6h0M304.6 396.0h0M310.6 378.2h0M318.0 389.1h0M295.2 375.7h0M309.6 385.3h0M311.9 381.5h0M316.3 363.8h0M290.4 379.5h0M317.0 363.6h0M319.7 365.4h0M296.8 373.8h0M319.9 342.5h0M300.4 389.3h0M301.9 396.5h0M289.7 403.3h0M296.0 374.2h0M320.6 367.7h0M303.4 357.8h0M324.9 368.5h0M291.5 366.0h0M308.1 378.3h0M301.0 355.3h0M321.7 361.8h0M314.6 347.2h0M320.3 371.8h0M308.8 353.8h0M294.9 395.7h0M319.4 359.5h0M310.4 355.5h0M298.0 372.5h0M298.6 391.1h0M283.3 392.6h0M312.4 373.4h0M305.1 386.9h0M321.8 365.2h0M310.3 352.9h0M319.7 367.6h0M308.0 379.5h0M286.7 388.5h0M308.6 382.0h0M306.0 382.8h0M308.1 352.6h0M319.0 365.4h0M304.2 384.8h0M305.7 391.6h0M314.2 344.9h0M303.8 360.1h0M306.6 382.1h0M324.9 359.8h0M320.4 365.8h0M317.4 391.4h0M298.0 395.0h0M291.1 367.2h0M327.4 361.3h0M292.1 401.6h0M308.4 351.7h0M323.8 368.8h0M327.8 351.0h0M319.1 340.6h0M316.9 364.2h0M292.6 404.0h0M327.7 371.6h0M326.5 353.1h0M305.4 352.0h0M305.6 381.6h0M284.8 381.5h0M303.0 363.1h0M307.9 355.3h0M316.6 344.2h0M324.8 365.5h0M312.4 350.2h0M327.5 353.2h0M288.2 380.3h0M288.2 382.7h0M297.1 402.2h0M322.9 365.2h0M301.3 367.6h0M292.0 381.0h0M323.2 370.0h0M306.6 351.9h0M312.1 376.0h0M288.6 385.5h0M286.4 389.2h0M298.2 391.7h0M310.7 381.8h0M313.4 377.7h0M296.3 371.8h0M314.9 380.4h0M323.7 373.8h0M319.0 372.2h0M310.2 394.3h0M294.3 378.5h0M326.4 362.5h0M320.0 361.8h0M284.1 391.5h0M291.1 383.7h0M303.4 383.4h0M299.9 398.6h0M327.9 349.1h0M320.7 362.0h0M304.5 386.3h0M284.5 384.4h0M311.2 355.4h0M311.5 372.8h0M306.2 381.7h0M307.3 352.7h0M290.2 373.9h0M323.4 357.6h0M309.3 345.4h0M318.6 361.0h0M290.8 385.3h0M305.0 390.7h0M298.6 372.5h0M301.9 386.4h0M288.8 382.5h0M326.7 355.5h0M327.3 349.6h0M317.8 364.7h0M312.1 371.9h0M290.2 376.0h0M324.3 384.7h0M313.8 371.2h0M294.7 396.7h0M313.9 370.0h0M323.6 356.4h0M321.8 364.1h0M307.6 379.0h0M324.5 359.5h0M301.7 399.9h0M315.7 389.5h0M297.7 370.8h0M299.7 356.9h0M291.2 384.5h0M328.4 346.6h0M328.6 347.1h0M305.1 349.4h0M312.0 372.5h0M312.6 352.4h0M311.1 377.0h0M310.1 347.6h0M303.4 352.8h0M310.3 378.1h0M305.5 349.6h0M289.1 382.7h0M317.4 344.2h0M309.7 345.8h0M326.4 357.3h0M292.1 379.9h0M321.4 358.4h0M309.6 374.3h0M286.3 376.7h0M305.1 380.3h0M327.9 353.3h0M302.0 390.7h0M323.5 365.7h0M312.6 380.6h0M287.5 383.0h0M289.7 381.0h0M315.2 341.6h0M320.1 358.8h0M326.1 354.0h0M313.0 349.3h0M288.8 377.8h0M313.7 349.7h0M300.7 391.4h0M285.7 384.2h0M304.5 352.8h0M320.1 375.1h0M316.9 377.0h0M324.3 353.0h0M324.8 366.7h0M322.2 362.6h0M310.9 354.8h0M319.5 364.7h0M298.8 367.9h0M308.4 378.6h0M317.1 337.5h0M321.5 358.2h0M318.3 373.4h0M320.0 363.9h0M311.2 371.4h0M296.8 371.2h0M327.9 352.6h0M298.3 372.0h0M284.2 383.9h0M290.4 403.4h0M301.0 363.6h0M303.3 384.6h0M306.1 355.1h0M328.2 350.1h0M325.5 355.0h0M302.9 390.2h0M314.5 368.9h0M326.0 360.8h0M295.2 396.8h0M288.4 372.6h0M306.8 358.2h0M314.0 376.9h0M328.5 347.8h0M306.4 361.8h0M322.1 338.2h0M325.7 365.0h0M301.1 367.4h0M296.6 400.1h0M328.2 350.4h0M288.7 405.1h0M326.6 355.0h0M312.6 381.0h0M297.2 402.2h0M289.2 403.6h0M323.3 370.4h0M314.8 375.9h0M323.1 355.6h0M317.9 338.6h0M303.1 366.5h0M327.7 359.0h0M296.9 375.0h0M324.5 353.2h0M298.8 389.9h0M325.5 367.0h0M313.8 376.3h0M325.0 375.5h0M328.0 368.7h0M315.9 372.1h0M320.4 340.9h0M328.5 358.4h0M320.7 366.2h0M327.7 350.2h0M328.6 357.1h0M318.0 339.2h0M291.8 376.6h0M316.0 343.5h0M316.7 345.8h0M315.9 385.5h0M288.1 388.4h0M314.9 367.3h0M323.4 356.0h0M317.3 342.6h0M287.3 381.6h0M314.9 366.6h0M295.2 395.7h0M301.0 393.7h0M299.7 365.8h0M314.5 346.0h0M305.5 380.2h0M284.7 391.2h0M323.8 363.0h0M289.8 405.2h0M299.4 367.1h0M289.4 378.9h0M294.2 369.2h0M293.0 402.1h0M311.0 349.7h0M303.4 364.8h0M311.2 343.9h0M289.4 385.6h0M310.0 375.4h0M317.8 341.9h0M319.7 358.9h0M324.8 351.6h0M308.7 347.5h0M298.2 395.5h0M310.1 355.0h0M303.7 385.4h0M304.8 382.8h0M285.9 377.1h0M290.0 385.0h0M319.2 339.9h0M325.0 363.6h0M307.8 383.6h0M301.8 392.0h0M325.9 361.2h0M326.4 351.5h0M314.4 373.4h0M304.8 389.7h0" stroke="#cccccc" stroke-width="2.2" stroke-linecap="round" fill="none"/>
<path d="M282.5 386.8h0M314.4 389.9h0M311.4 385.1h0M293.5 369.4h0M289.5 357.2h0M290.1 366.4h0M287.5 367.4h0M292.7 381.2h0M296.5 374.3h0M326.6 381.2h0M306.1 362.7h0M286.5 381.9h0M297.7 343.1h0M327.1 393.4h0M328.0 350.4h0M290.5 376.1h0M325.8 354.4h0M306.1 403.2h0M316.6 390.2h0M308.8 396.4h0M299.6 367.8h0M287.6 339.1h0M291.4 378.0h0M291.5 372.8h0M321.9 380.1h0M292.2 383.0h0M295.5 399.6h0M286.7 390.7h0M289.2 361.7h0M326.0 354.8h0M284.5 360.3h0M285.9 389.1h0M299.6 361.3h0M312.4 353.7h0M294.5 375.9h0M300.7 360.3h0M291.1 357.9h0M297.7 373.3h0M290.9 376.8h0M283.0 396.5h0M288.2 376.5h0M290.3 383.3h0M287.0 361.0h0M284.0 388.5h0M289.6 383.7h0M285.7 388.2h0M291.6 382.0h0M289.9 351.7h0M314.6 399.6h0M283.4 364.1h0M325.6 359.2h0M299.5 355.9h0M325.8 377.7h0M298.2 393.3h0M321.4 356.4h0M300.5 397.7h0M290.4 345.2h0M301.4 385.8h0M282.7 387.4h0M324.4 367.6h0M294.0 396.7h0M289.2 370.3h0M282.4 395.3h0M298.0 400.7h0M316.0 341.8h0M282.6 391.3h0M284.8 391.1h0M300.6 387.2h0M306.3 384.9h0M282.9 396.6h0M301.6 396.9h0M284.3 388.3h0M289.6 373.0h0M309.1 404.2h0M299.7 363.3h0M284.2 390.8h0M288.6 368.4h0M325.1 351.0h0M297.2 345.1h0M306.1 393.1h0M282.7 380.1h0M283.0 380.0h0" stroke="#e0535c" stroke-width="2.20" stroke-linecap="round" fill="none"/>
<rect x="280.30" y="334.00" width="51.00" height="73.50" fill="none" stroke="#111" stroke-width="1.15"/>
<line x1="277.70" y1="405.30" x2="280.30" y2="405.30" stroke="#111" stroke-width="0.8"/>
<line x1="282.30" y1="407.50" x2="282.30" y2="410.30" stroke="#111" stroke-width="0.8"/>
<line x1="277.70" y1="388.30" x2="280.30" y2="388.30" stroke="#111" stroke-width="0.8"/>
<line x1="293.90" y1="407.50" x2="293.90" y2="410.30" stroke="#111" stroke-width="0.8"/>
<line x1="277.70" y1="371.30" x2="280.30" y2="371.30" stroke="#111" stroke-width="0.8"/>
<line x1="305.50" y1="407.50" x2="305.50" y2="410.30" stroke="#111" stroke-width="0.8"/>
<line x1="277.70" y1="354.30" x2="280.30" y2="354.30" stroke="#111" stroke-width="0.8"/>
<line x1="317.10" y1="407.50" x2="317.10" y2="410.30" stroke="#111" stroke-width="0.8"/>
<line x1="277.70" y1="337.30" x2="280.30" y2="337.30" stroke="#111" stroke-width="0.8"/>
<line x1="328.70" y1="407.50" x2="328.70" y2="410.30" stroke="#111" stroke-width="0.8"/>
<text x="305.80" y="330.30" font-size="7.7" text-anchor="middle">A3SS</text>
<path d="M379.6 367.7h0M391.8 352.2h0M387.6 337.5h0M382.6 337.8h0M375.0 348.8h0M390.3 352.0h0M359.5 379.4h0M367.9 384.9h0M367.0 359.2h0M380.6 368.2h0M387.3 360.1h0M354.4 380.6h0M385.7 358.7h0M350.7 392.2h0M348.2 388.6h0M370.8 381.0h0M375.8 350.6h0M372.6 355.2h0M368.8 365.4h0M387.3 358.9h0M380.9 346.0h0M377.8 347.2h0M383.7 371.2h0M381.8 362.8h0M347.2 386.7h0M379.1 389.8h0M347.3 390.9h0M360.2 396.2h0M366.5 405.0h0M376.1 385.0h0M362.0 404.0h0M392.4 350.9h0M375.0 378.3h0M373.1 376.5h0M367.9 365.7h0M358.2 369.3h0M391.8 360.6h0M381.2 370.2h0M358.7 369.3h0M354.2 357.1h0M359.2 404.7h0M389.9 363.2h0M373.2 358.3h0M366.5 350.7h0M389.8 353.2h0M351.4 386.6h0M376.0 391.4h0M383.1 344.0h0M388.4 355.3h0M383.7 366.7h0M354.2 348.5h0M390.3 354.2h0M386.1 338.0h0M380.7 342.7h0M354.8 366.3h0M379.0 371.1h0M378.9 348.5h0M389.7 355.7h0M384.6 368.1h0M390.3 367.0h0M388.2 355.6h0M352.2 367.3h0M356.1 376.4h0M375.3 373.8h0M366.3 351.7h0M379.5 344.1h0M381.6 343.0h0M378.9 344.3h0M363.8 392.9h0M392.6 354.7h0M377.9 344.3h0M386.9 363.0h0M357.4 381.1h0M379.0 345.1h0M370.8 378.5h0M369.0 356.0h0M368.3 357.9h0M377.8 377.6h0M361.4 369.0h0M361.2 374.2h0M352.0 377.6h0M371.2 393.4h0M386.1 361.7h0M378.9 350.2h0M361.1 370.9h0M375.1 376.1h0M380.0 365.6h0M367.6 359.3h0M372.5 382.7h0M352.5 366.8h0M357.1 371.0h0M381.0 364.7h0M382.2 346.0h0M361.8 393.4h0M355.1 383.5h0M379.5 368.6h0M386.5 374.0h0M365.9 396.1h0M393.2 348.4h0M392.9 353.8h0M359.5 373.0h0M387.3 362.8h0M360.9 403.5h0M382.4 345.2h0M378.1 368.1h0M364.8 368.8h0M360.4 400.4h0M391.0 350.6h0M391.3 381.1h0M361.9 391.6h0M374.1 357.2h0M392.0 347.5h0M373.4 357.5h0M357.7 379.2h0M370.2 381.6h0M356.2 402.0h0M368.6 362.8h0M363.6 368.6h0M385.3 341.2h0M383.7 372.3h0M378.3 376.4h0M392.4 372.0h0M371.7 382.3h0M370.8 362.6h0M383.1 369.8h0M383.9 365.3h0M377.7 349.9h0M375.3 344.5h0M351.2 381.8h0M370.9 362.3h0M378.2 341.7h0M376.5 376.2h0M370.8 359.7h0M370.5 356.9h0M378.5 347.8h0M359.6 369.6h0M350.6 386.5h0M362.4 343.0h0M373.6 388.6h0M377.1 371.4h0M371.1 382.0h0M374.8 340.3h0M357.6 379.6h0M391.4 355.2h0M348.5 389.6h0M368.5 363.1h0M356.6 379.0h0M359.9 354.9h0M384.6 375.1h0M391.8 393.3h0M392.7 350.3h0M353.1 379.1h0M390.0 352.4h0M366.0 365.3h0M367.1 388.2h0M380.3 373.1h0M393.1 348.0h0M375.2 372.8h0M393.1 349.7h0M383.3 341.1h0M369.2 358.9h0M384.2 362.8h0M388.9 370.0h0M364.7 361.5h0M392.1 347.7h0M386.9 356.6h0M379.5 366.3h0M355.2 376.0h0M376.2 372.4h0M383.9 375.2h0M386.0 356.4h0M355.7 402.3h0M374.4 385.4h0M391.3 369.3h0M366.2 369.5h0M359.8 395.0h0M392.1 356.8h0M389.4 362.2h0M371.7 356.4h0M376.3 379.2h0M386.8 357.6h0M352.8 385.3h0M370.2 360.7h0M367.7 383.7h0M386.9 369.9h0M354.3 381.6h0M366.4 394.0h0M359.0 379.7h0M388.1 366.5h0M379.3 376.1h0M359.9 402.9h0M388.6 361.2h0M355.6 379.5h0M362.1 394.0h0M388.3 353.0h0M364.2 388.7h0M358.5 372.8h0M358.9 374.7h0M385.1 339.9h0M383.3 342.1h0M381.3 366.8h0M372.6 355.1h0M382.3 339.1h0M382.1 365.4h0M371.5 381.8h0M367.3 365.8h0M375.3 372.3h0M386.0 357.2h0M385.7 339.3h0M392.2 362.0h0M382.5 376.4h0M388.9 361.6h0M385.0 341.2h0M350.9 391.5h0M374.3 376.3h0M378.0 377.0h0M390.5 354.3h0M370.8 403.1h0M378.9 370.0h0M392.1 350.5h0M358.2 374.0h0M392.7 357.9h0M388.7 356.9h0M388.7 354.6h0M358.7 377.7h0M362.3 402.1h0M349.3 390.8h0M381.3 390.1h0M355.5 366.8h0M368.7 395.7h0M360.2 399.7h0M360.7 398.6h0M361.8 375.5h0M373.5 396.3h0M374.4 348.0h0M364.3 367.7h0M393.0 346.2h0M379.3 341.3h0M391.3 358.7h0M388.2 355.7h0M356.6 374.0h0M391.8 350.5h0M375.0 379.8h0M390.4 370.1h0M363.4 371.8h0M381.6 366.2h0M376.8 353.8h0M352.3 339.0h0M391.7 349.8h0M388.6 366.0h0M388.2 362.5h0M388.0 355.7h0M380.7 371.4h0M388.7 356.0h0M380.7 366.8h0M374.6 375.9h0M363.9 364.4h0M376.1 346.4h0M386.8 377.5h0M390.7 352.0h0M382.7 340.1h0M377.5 369.7h0M380.0 345.2h0M367.3 366.6h0M383.4 367.3h0M356.1 377.9h0M364.7 393.4h0M385.0 379.6h0M378.3 380.9h0M382.8 371.2h0M372.6 352.4h0M368.0 366.1h0M377.7 347.4h0M367.9 393.2h0M376.0 350.5h0M373.4 357.0h0M377.7 343.1h0M383.8 360.7h0M360.2 361.3h0M370.9 380.3h0M384.9 366.5h0M381.0 337.5h0M357.8 373.7h0M367.4 385.5h0M350.5 391.0h0M351.2 387.3h0M387.0 338.1h0M379.2 344.7h0M377.0 345.7h0M389.7 353.6h0M371.0 358.4h0M353.0 371.2h0M364.9 388.5h0M372.5 353.9h0M383.7 361.6h0M351.7 389.5h0M391.0 349.5h0M387.7 360.7h0M376.7 371.0h0M373.4 380.1h0M391.1 349.9h0M381.6 344.8h0M354.9 383.9h0M364.5 395.1h0M385.0 368.1h0M385.4 339.8h0M365.1 391.8h0M385.0 362.6h0M365.4 363.4h0M381.2 381.8h0M383.2 343.8h0M362.5 366.3h0M361.1 395.1h0M393.1 347.6h0M383.6 365.6h0M386.8 360.3h0M356.9 405.1h0M375.1 380.9h0M362.6 369.7h0M357.0 399.3h0M380.6 339.7h0M383.9 338.9h0M383.5 370.9h0M389.8 360.5h0M373.8 374.3h0M353.4 385.3h0M391.7 352.8h0M380.1 367.8h0M362.3 393.3h0M383.7 339.3h0M367.2 394.2h0M387.3 368.4h0M359.3 402.0h0M384.8 361.2h0M359.4 345.5h0M386.8 367.0h0M373.7 401.0h0M350.3 384.2h0M361.4 392.5h0M360.4 376.0h0M355.5 382.8h0M358.1 379.1h0M373.5 376.5h0M363.3 398.8h0M376.0 350.1h0M392.7 356.6h0M381.1 378.3h0M375.1 384.2h0M366.2 368.2h0M391.3 349.9h0M368.7 365.1h0M360.5 396.2h0M370.5 392.0h0M372.6 376.3h0M349.2 392.3h0M373.4 349.0h0M380.6 370.4h0M356.4 400.2h0M361.2 351.2h0M365.8 355.1h0M379.4 344.4h0M379.9 348.1h0M360.2 360.7h0M387.8 354.5h0M377.1 373.0h0M378.1 377.9h0M391.0 376.3h0M389.4 357.8h0M356.2 372.7h0M386.6 380.0h0M366.2 369.3h0M368.2 386.8h0M391.6 349.4h0M358.5 378.0h0M361.4 372.6h0M357.5 398.6h0M378.4 344.0h0M372.9 356.1h0M362.4 365.1h0M376.9 377.7h0M387.6 359.7h0M389.4 351.5h0M377.5 346.1h0M366.6 389.6h0M352.7 373.1h0M392.9 355.3h0M391.2 365.2h0M352.3 374.6h0M384.3 365.9h0M370.5 362.4h0M356.9 382.9h0M388.3 359.9h0M374.4 349.3h0M358.1 404.4h0M356.9 368.7h0M361.7 395.1h0M356.0 403.7h0M374.8 355.1h0M368.8 382.0h0M369.4 393.6h0M368.4 347.6h0M360.2 399.5h0M386.5 356.7h0M381.4 346.3h0M370.5 384.9h0M388.8 363.7h0M385.4 364.4h0M347.3 392.9h0M351.4 390.6h0M375.8 351.6h0M371.8 387.5h0M376.6 348.7h0M380.0 365.6h0M389.0 354.6h0M380.1 368.2h0M381.7 367.4h0M380.9 344.1h0M376.4 351.7h0M388.3 374.8h0M357.6 379.3h0M381.1 373.3h0M377.4 371.7h0M381.4 345.8h0M358.6 401.4h0M349.9 391.4h0M353.9 361.6h0M358.6 398.8h0M359.6 365.9h0M371.9 352.3h0M381.5 346.3h0M357.7 378.3h0M361.6 401.4h0M376.3 378.0h0M380.9 366.2h0M381.1 374.6h0M378.0 368.8h0M391.7 347.9h0M392.6 372.6h0M359.3 395.4h0M382.9 370.6h0M363.8 391.9h0M373.7 380.2h0M357.3 398.7h0M392.4 354.5h0M349.1 394.3h0M371.2 384.6h0M378.4 373.9h0M388.4 361.2h0M367.4 365.1h0M370.0 387.6h0M363.5 370.5h0M373.3 356.8h0M351.9 386.9h0M358.6 374.9h0M384.9 367.9h0M390.7 354.7h0M361.2 356.2h0M391.4 353.7h0M363.3 368.9h0M368.5 354.9h0M356.2 379.4h0M361.7 369.8h0M376.7 352.5h0M349.2 360.2h0M380.5 370.4h0M377.4 374.5h0M349.8 386.7h0M351.6 379.4h0M353.9 382.4h0M385.4 375.7h0M350.6 389.0h0M390.0 370.1h0M389.1 353.8h0M381.7 344.8h0M347.9 390.3h0M349.8 391.7h0M380.9 343.3h0M364.3 361.2h0M365.9 386.4h0M391.8 354.2h0M359.6 372.6h0M350.7 376.7h0M379.5 371.6h0M383.6 372.8h0M372.1 386.1h0M360.2 401.5h0M362.4 365.6h0M378.2 345.9h0M393.2 354.1h0M354.9 381.3h0M347.1 383.3h0M365.6 395.2h0M382.5 370.2h0M355.6 380.8h0M377.3 343.5h0M390.9 349.1h0M372.2 349.8h0M363.3 391.8h0M355.8 382.9h0M375.8 375.8h0M370.6 382.1h0M369.6 385.9h0M390.6 351.3h0M364.7 396.2h0M363.6 391.0h0M351.5 387.8h0M387.9 362.5h0M363.1 372.0h0M373.0 341.3h0M392.9 356.6h0M385.3 370.1h0M379.7 373.8h0M360.6 402.7h0M357.3 378.4h0M381.6 346.4h0M390.6 353.5h0M392.6 347.1h0M371.0 379.1h0M390.2 350.3h0M368.7 353.6h0M377.1 353.6h0M383.5 367.3h0M392.1 349.3h0M389.5 355.7h0M364.2 361.2h0M374.5 380.5h0M372.3 359.5h0M378.4 346.8h0M388.1 361.0h0M387.0 356.2h0M374.1 355.2h0M376.8 377.4h0M365.0 387.2h0M383.1 375.8h0M371.1 390.6h0M388.0 372.5h0M385.6 364.5h0M376.3 374.9h0M391.8 353.1h0M392.6 354.4h0M354.5 380.3h0M381.9 343.1h0M377.0 388.3h0M374.8 382.4h0M367.4 384.9h0M388.4 353.2h0M385.5 397.0h0M387.6 368.9h0M374.1 355.4h0M380.2 342.3h0M359.2 375.8h0M354.0 385.2h0M364.1 370.4h0M348.0 384.7h0M375.2 387.9h0M365.4 360.2h0M371.0 383.9h0M369.4 357.4h0M380.9 346.4h0M367.0 388.7h0M387.2 355.4h0M365.8 363.9h0M355.5 405.2h0M372.5 356.1h0M355.8 357.8h0M369.9 381.7h0M353.8 386.4h0M373.6 384.3h0M388.8 356.1h0M361.4 403.5h0M371.6 356.7h0M387.7 377.9h0M362.2 360.6h0M391.1 349.5h0M371.7 350.1h0M362.9 394.2h0M378.0 373.3h0M388.8 359.7h0M362.4 373.2h0M381.5 340.5h0M355.6 376.7h0M369.0 357.2h0M391.5 352.2h0M381.8 341.1h0M364.2 393.7h0M368.6 386.3h0M392.3 351.6h0M370.3 347.9h0M357.2 380.2h0M363.1 391.3h0M377.7 369.6h0M356.1 375.0h0M369.2 387.8h0M353.9 385.0h0M367.8 360.6h0M370.3 363.1h0M368.2 363.0h0M387.1 361.3h0M374.7 383.6h0M347.7 396.4h0M352.9 376.4h0M392.3 351.0h0M356.2 375.4h0M355.0 383.2h0M374.2 390.2h0M351.7 360.9h0M377.1 346.8h0M381.3 366.1h0M357.8 376.4h0M388.6 369.9h0M383.1 338.7h0M390.8 365.4h0M392.4 366.2h0M388.8 356.7h0M352.7 384.5h0M363.4 395.4h0M360.8 367.4h0M348.7 388.4h0M362.6 403.6h0M347.0 392.5h0M362.0 369.5h0M348.7 393.3h0M354.9 382.6h0M373.1 357.0h0M391.6 360.2h0M370.0 352.6h0M378.1 387.8h0M355.5 382.6h0M370.5 379.2h0M389.3 354.2h0M347.9 392.2h0M354.3 383.6h0M371.9 380.3h0M370.6 380.4h0M384.6 368.9h0M357.8 375.4h0M359.7 405.1h0M385.7 369.3h0M381.8 364.8h0M384.6 371.7h0M388.9 357.1h0M376.1 353.7h0M377.9 339.2h0M382.5 345.0h0M365.5 369.4h0M355.9 373.6h0M350.4 388.1h0M374.8 352.3h0M386.1 359.3h0M390.4 351.4h0M374.7 374.7h0M377.5 341.0h0M348.3 394.6h0M388.0 364.4h0M385.4 368.5h0M356.3 381.9h0M361.4 400.4h0M384.3 368.1h0M392.5 354.0h0M358.7 403.8h0M387.0 339.0h0M362.1 368.5h0M388.2 359.6h0M354.6 351.6h0M384.9 361.6h0M361.1 395.1h0M355.7 403.0h0M356.9 379.6h0M347.1 384.5h0M382.2 345.2h0M348.9 386.7h0M370.2 382.0h0M390.5 360.9h0M357.4 368.4h0M358.1 404.1h0M381.6 345.9h0M363.6 390.2h0M348.5 383.6h0M383.5 342.9h0M389.6 359.0h0M351.1 384.2h0M358.0 372.1h0M377.3 342.9h0M368.1 357.8h0M362.8 373.3h0M351.8 390.5h0M368.3 365.7h0M366.2 387.2h0M363.2 396.2h0M390.5 359.8h0M379.3 399.5h0M389.5 352.2h0M370.5 381.5h0M384.9 362.8h0M370.5 384.7h0M392.9 350.9h0M361.4 374.8h0M392.4 351.2h0M359.7 378.9h0M389.9 356.6h0M374.1 351.2h0M354.4 378.4h0M348.1 364.0h0M376.3 386.6h0M381.6 364.9h0M368.2 352.1h0M373.3 351.7h0M372.1 385.9h0M382.2 339.3h0M382.0 369.3h0M372.9 376.4h0M391.7 357.7h0M374.5 355.0h0M359.3 400.8h0M386.5 356.8h0M354.8 377.8h0M387.7 362.4h0M365.1 367.1h0M393.3 349.9h0M367.5 364.0h0M389.0 352.5h0M390.3 359.1h0M356.1 375.9h0M386.3 360.8h0M366.1 396.7h0M349.2 393.3h0M365.7 365.8h0M384.0 402.5h0M366.1 363.4h0M355.0 379.9h0M360.3 370.5h0M390.2 363.7h0M364.4 388.6h0M367.8 390.7h0M366.8 385.5h0M373.3 383.4h0M393.1 352.8h0M364.2 355.8h0M355.2 382.0h0M357.1 381.1h0M384.1 337.9h0M378.4 345.5h0M379.0 348.3h0M390.5 377.6h0M354.1 384.2h0M352.0 379.6h0M372.7 357.7h0M390.5 360.2h0M386.3 367.7h0M377.4 371.0h0M376.3 373.0h0M389.2 362.2h0M389.0 360.5h0M370.3 381.5h0M393.0 346.4h0M355.8 402.7h0M389.1 358.8h0M372.1 379.0h0M367.6 363.9h0M388.5 356.4h0M356.5 383.3h0M358.5 400.8h0M369.4 354.6h0M374.3 379.4h0M377.4 347.2h0M393.0 363.6h0M379.5 346.1h0M391.6 357.5h0M376.0 375.9h0M362.9 393.2h0M381.6 344.8h0M386.1 356.3h0M363.8 361.0h0M365.2 397.6h0M355.1 345.1h0M377.5 345.7h0M367.7 393.2h0M353.5 378.0h0M380.6 340.5h0M353.8 403.8h0M380.7 379.8h0M381.5 370.4h0M387.0 357.2h0M390.6 355.0h0M372.5 357.1h0M357.1 365.7h0M362.9 404.4h0M361.2 369.7h0M380.9 373.3h0M388.6 365.6h0M387.1 354.8h0M386.3 356.0h0M392.1 351.4h0M391.8 363.0h0M357.6 363.0h0M366.1 385.7h0M386.6 358.3h0M355.9 402.5h0M370.1 360.1h0M370.7 341.5h0M364.5 401.1h0M385.9 363.0h0M347.4 387.3h0M390.9 349.5h0M392.2 359.5h0M366.9 392.0h0M386.9 355.6h0M369.8 361.1h0M390.0 353.2h0M390.6 362.1h0M388.4 355.4h0M357.3 376.6h0M362.3 401.3h0M377.2 370.5h0M389.1 367.5h0M364.3 402.8h0M365.4 396.4h0M388.1 371.8h0M356.0 382.1h0M364.6 364.9h0M392.7 367.7h0M367.6 391.3h0M384.7 358.6h0M387.0 357.0h0M393.4 356.8h0M354.1 381.3h0M374.7 379.2h0M379.2 345.3h0M380.7 344.5h0M391.1 356.6h0M349.5 379.1h0M358.7 396.6h0M378.6 369.0h0M377.7 378.2h0M351.8 381.6h0M348.3 388.7h0M388.8 361.8h0M388.9 354.5h0M369.7 380.1h0M379.2 339.4h0M371.2 356.2h0M355.9 380.0h0M376.9 369.8h0M384.7 368.7h0M374.2 349.9h0M355.8 373.5h0M358.7 373.9h0M368.6 359.6h0M382.2 367.4h0M381.6 368.8h0M389.1 353.1h0M381.4 363.1h0M372.2 349.3h0M383.7 363.2h0M368.7 363.8h0M354.7 379.5h0M387.5 373.7h0M388.3 363.4h0M353.9 370.2h0M347.1 395.2h0M372.6 356.1h0M362.7 400.6h0M389.0 365.9h0M381.7 381.8h0M366.6 390.0h0M390.3 360.7h0M384.2 340.6h0M358.8 400.3h0M386.2 337.5h0M374.0 351.7h0M370.8 346.6h0M388.9 364.1h0M380.7 341.7h0M386.8 359.8h0M355.0 378.0h0M387.0 364.2h0M375.0 353.5h0M383.8 367.9h0M354.0 403.2h0M373.2 379.9h0M350.4 387.4h0M353.6 375.1h0M383.9 361.2h0M360.5 398.9h0M354.9 383.0h0M373.1 353.1h0M355.6 376.3h0M369.1 385.1h0M384.7 367.4h0M391.9 351.4h0M391.5 352.0h0M388.9 358.0h0M350.8 389.6h0M371.1 341.4h0M379.4 369.3h0M387.5 363.1h0M375.0 351.3h0M382.8 361.8h0M369.1 364.6h0M389.0 360.4h0M378.6 375.4h0M357.2 378.1h0M386.3 368.0h0M360.6 377.6h0M387.8 354.3h0M367.9 384.7h0M367.5 362.3h0M381.5 343.3h0M358.6 379.4h0M356.6 382.0h0M375.5 345.7h0M375.9 380.0h0M357.9 401.7h0M385.8 365.0h0M376.1 375.2h0M368.1 359.6h0M385.6 373.1h0M377.1 346.8h0M374.9 374.3h0M347.3 391.2h0M368.9 383.4h0M364.1 371.3h0M366.1 358.8h0M392.7 347.2h0M370.0 380.9h0M383.6 364.8h0M380.7 375.6h0M384.7 358.4h0M386.6 337.3h0M393.4 354.9h0M348.3 389.6h0M388.5 355.0h0M370.7 355.1h0M377.4 379.7h0M365.8 367.7h0M356.0 400.8h0M357.2 373.9h0M359.1 397.4h0M361.2 399.1h0M374.8 374.9h0M388.5 375.7h0M386.8 359.8h0M375.5 377.7h0M374.9 350.1h0M383.4 363.3h0M369.4 389.8h0M350.5 384.8h0M350.9 388.5h0M376.4 377.1h0M362.6 399.4h0M380.1 343.8h0M357.0 377.5h0M350.1 388.6h0M388.8 358.2h0M357.7 404.3h0M369.2 389.4h0M366.5 368.4h0M368.3 350.6h0M393.1 375.2h0M391.2 357.1h0M356.6 400.6h0M369.2 365.0h0M392.0 353.2h0M384.2 359.8h0M382.8 376.9h0M391.6 353.4h0M379.7 366.8h0M368.5 362.4h0M362.4 366.3h0M365.0 362.0h0M392.2 347.9h0M385.0 358.2h0M386.6 339.2h0M355.2 375.8h0M359.0 379.4h0M375.9 379.6h0M392.1 361.3h0M375.4 350.0h0M392.4 359.6h0M354.8 383.7h0M393.1 352.9h0M380.2 347.8h0M359.4 398.8h0M382.9 341.8h0M379.2 369.6h0M370.5 386.5h0M350.5 391.3h0M366.9 388.0h0M383.1 375.5h0M367.2 363.5h0M372.1 378.2h0M376.1 375.9h0M386.2 357.0h0M372.5 390.0h0M386.1 357.9h0M392.4 360.9h0M392.7 352.6h0M349.5 391.0h0M360.5 377.6h0M390.0 354.3h0M385.5 367.4h0M350.8 389.7h0M372.1 351.2h0M361.4 392.8h0M383.8 360.7h0M384.5 371.1h0M365.9 387.3h0M388.5 357.4h0M372.7 357.4h0M365.3 387.1h0M371.0 384.8h0M374.0 375.6h0M387.6 365.2h0M358.0 398.9h0M376.4 350.2h0M372.9 348.7h0M361.2 374.1h0M363.2 342.9h0M372.8 376.0h0M390.4 350.7h0M391.8 368.2h0M383.8 363.6h0M391.8 353.7h0M371.3 356.2h0M392.7 346.6h0M376.0 347.0h0M379.6 341.3h0M383.0 365.7h0M383.2 342.1h0M383.6 362.7h0M354.6 375.5h0M380.1 371.2h0M364.4 399.8h0M369.5 361.1h0M358.7 375.5h0M351.1 385.0h0M392.3 350.4h0M361.0 367.2h0M360.4 370.8h0M357.4 380.8h0M392.4 347.9h0M347.1 391.5h0M384.7 337.6h0M374.5 342.4h0M376.6 352.2h0M390.3 355.7h0M369.5 351.7h0M370.8 390.3h0M383.2 365.3h0M392.5 349.2h0M390.3 370.4h0M391.5 351.4h0M390.5 351.4h0M382.6 377.5h0M391.2 363.4h0M374.8 343.8h0M383.6 342.1h0M368.2 360.0h0M367.9 353.7h0M388.4 356.9h0M390.8 362.0h0M390.1 351.4h0M367.1 367.1h0M374.6 376.7h0M351.8 378.7h0M351.9 382.7h0M386.7 358.2h0M386.5 366.6h0M347.6 396.5h0M387.1 360.8h0M352.4 383.4h0M366.3 367.6h0M381.4 343.3h0M357.5 400.5h0M363.3 391.9h0M388.1 353.3h0M376.7 342.8h0M392.0 371.5h0M377.8 394.3h0M350.1 391.6h0M352.8 383.6h0M393.3 345.9h0M389.9 354.0h0M363.5 364.4h0M382.8 340.0h0M347.5 392.5h0M384.5 362.3h0M392.3 351.8h0M368.4 355.1h0M391.1 365.9h0M359.8 374.7h0M361.5 373.6h0M391.7 349.0h0M385.0 372.9h0M377.5 375.9h0M389.2 353.8h0M347.4 389.5h0M357.3 375.5h0M359.6 375.1h0M354.2 379.3h0M355.3 376.1h0M392.0 363.7h0M365.8 358.2h0M391.9 348.4h0M390.3 355.4h0M391.2 362.1h0M386.3 337.5h0M384.3 382.3h0M381.0 364.8h0M391.9 355.8h0M382.5 364.8h0M359.9 399.0h0M383.9 374.4h0M362.8 369.5h0M366.3 396.8h0M390.7 365.9h0M391.7 378.9h0M375.1 381.9h0M388.7 355.6h0M384.2 338.5h0M348.1 393.7h0M385.6 364.8h0M361.6 372.9h0M388.8 357.2h0M384.1 366.6h0M361.7 373.9h0M355.7 384.0h0M390.9 353.4h0M375.4 347.4h0M369.7 381.9h0M349.8 383.3h0M361.1 395.8h0M378.8 342.8h0M381.2 365.4h0M383.7 360.3h0M384.8 364.8h0M349.0 388.2h0M349.4 376.9h0M381.1 347.7h0M354.3 372.9h0M387.4 366.2h0M355.6 385.0h0M373.8 404.1h0M364.4 363.2h0M364.7 400.0h0M378.5 370.4h0M389.5 353.6h0M361.6 404.4h0M354.8 385.0h0M392.7 372.3h0M353.4 385.7h0M368.0 382.9h0M384.7 366.7h0M391.3 350.1h0M386.6 364.4h0M362.5 395.5h0M369.3 395.9h0M375.3 378.1h0M382.7 389.0h0M359.9 375.6h0M374.3 385.2h0M376.6 381.4h0M381.0 363.7h0M355.1 379.4h0M381.7 363.5h0M384.4 365.3h0M361.5 373.7h0M384.6 342.4h0M365.1 389.2h0M366.6 396.4h0M354.4 403.2h0M360.7 374.1h0M385.3 367.6h0M368.1 357.7h0M389.6 368.4h0M356.2 365.9h0M372.8 378.2h0M365.7 355.2h0M386.4 361.7h0M379.3 347.1h0M385.0 371.7h0M373.5 353.7h0M359.6 395.6h0M384.1 359.4h0M375.1 355.4h0M362.7 372.4h0M363.3 391.0h0M348.0 392.5h0M377.1 373.3h0M386.5 365.1h0M375.0 352.8h0M384.4 367.5h0M372.7 379.4h0M351.4 388.4h0M373.3 381.9h0M370.7 382.7h0M372.8 352.5h0M383.7 365.3h0M368.9 384.7h0M370.4 391.5h0M378.9 344.8h0M368.5 360.0h0M371.3 382.0h0M389.6 359.7h0M385.1 365.7h0M382.1 391.3h0M348.9 390.7h0M362.7 394.9h0M355.8 367.1h0M392.1 361.2h0M356.8 401.5h0M373.1 351.6h0M388.5 368.7h0M392.5 350.9h0M383.8 340.5h0M381.6 364.1h0M357.3 403.9h0M392.4 371.5h0M391.2 353.0h0M370.1 351.9h0M370.3 381.5h0M349.5 381.4h0M367.7 363.0h0M372.6 355.2h0M381.3 344.1h0M389.5 365.4h0M377.1 350.1h0M353.3 368.3h0M392.2 353.1h0M352.9 380.2h0M352.9 382.6h0M361.8 402.1h0M387.6 365.1h0M366.0 367.5h0M356.7 380.9h0M387.9 369.9h0M371.3 351.8h0M376.8 375.9h0M353.3 385.4h0M351.1 389.1h0M362.9 391.6h0M375.4 381.7h0M389.8 350.9h0M378.1 377.6h0M361.0 371.7h0M379.6 380.3h0M388.4 373.7h0M383.7 372.1h0M374.9 394.2h0M359.0 378.4h0M391.1 362.4h0M348.8 391.4h0M355.8 383.6h0M368.1 383.3h0M364.6 398.5h0M392.6 349.0h0M385.4 361.9h0M361.9 345.0h0M369.2 386.2h0M349.2 384.3h0M375.9 355.3h0M376.2 372.7h0M370.9 381.6h0M372.0 352.6h0M354.9 373.8h0M388.1 357.5h0M374.0 345.3h0M383.3 360.9h0M355.5 385.2h0M369.7 390.6h0M363.3 372.4h0M366.6 386.3h0M353.5 382.4h0M391.4 355.4h0M392.0 349.5h0M382.5 364.6h0M376.8 371.8h0M354.9 375.9h0M389.0 384.6h0M378.5 371.1h0M359.4 396.6h0M378.6 369.9h0M388.3 356.3h0M386.5 364.0h0M372.3 378.9h0M389.2 359.4h0M366.4 399.8h0M380.4 389.4h0M362.4 370.7h0M364.4 356.8h0M355.9 384.4h0M393.1 346.5h0M393.3 347.0h0M369.8 349.3h0M370.8 393.0h0M376.7 372.4h0M377.3 352.3h0M375.8 376.9h0M374.8 347.5h0M368.1 352.7h0M375.0 378.0h0M370.2 349.5h0M353.8 382.6h0M382.1 344.1h0M374.4 345.7h0M391.1 357.2h0M356.8 379.8h0M386.1 358.3h0M374.3 374.2h0M351.0 376.6h0M369.8 380.2h0M392.6 353.2h0M366.7 390.6h0M388.2 365.6h0M377.3 380.5h0M352.2 382.9h0M354.4 380.9h0M379.9 341.5h0M384.8 358.7h0M347.4 380.0h0M390.8 353.9h0M377.7 349.2h0M353.5 377.7h0M378.4 349.6h0M365.4 391.3h0M350.4 384.1h0M369.2 352.7h0M347.7 379.9h0M384.8 375.0h0M381.6 376.9h0M389.0 352.9h0M389.5 366.6h0M386.9 362.5h0M375.6 354.7h0M384.2 364.6h0M363.5 367.8h0M373.1 378.5h0M381.8 337.4h0M386.2 358.1h0M383.0 373.3h0M384.7 363.8h0M375.9 371.3h0M361.5 371.1h0M392.6 352.5h0M363.0 371.9h0M348.9 383.8h0M355.1 403.3h0M365.7 363.5h0M368.0 384.5h0M370.8 355.0h0M392.9 350.0h0M390.2 354.9h0M367.6 390.1h0M379.2 368.8h0M390.7 360.7h0M359.9 396.7h0M353.1 372.5h0M371.5 358.1h0M378.7 376.8h0M393.2 347.7h0M371.1 361.7h0M386.8 338.1h0M390.4 364.9h0M365.8 367.3h0M361.3 400.0h0M392.9 350.3h0M353.4 405.0h0M391.3 354.9h0M377.3 380.9h0M361.9 402.1h0M353.9 403.5h0M388.0 370.3h0M379.5 375.8h0M387.8 355.5h0M382.6 338.5h0M367.8 366.4h0M392.4 358.9h0M361.6 374.9h0M389.2 353.1h0M363.5 389.8h0M390.2 366.9h0M378.5 376.2h0M389.7 375.4h0M392.7 368.6h0M380.6 372.0h0M385.1 340.8h0M393.2 358.3h0M385.4 366.1h0M392.4 350.1h0M393.3 357.0h0M382.7 339.1h0M356.5 376.5h0M380.7 343.4h0M381.4 345.7h0M380.6 385.4h0M352.8 388.3h0M379.6 367.2h0M388.1 355.9h0M382.0 342.5h0M352.0 381.5h0M379.6 366.5h0M365.7 393.6h0M364.4 365.7h0M379.2 345.9h0M370.2 380.1h0M349.4 391.1h0M388.5 362.9h0M354.5 405.1h0M364.1 367.0h0M354.1 378.8h0M358.9 369.1h0M357.7 402.0h0M375.7 349.6h0M368.1 364.7h0M375.9 343.8h0M354.1 385.5h0M374.7 375.3h0M382.5 341.8h0M384.4 358.8h0M389.5 351.5h0M373.4 347.4h0M362.9 395.4h0M374.8 354.9h0M368.4 385.3h0M369.5 382.7h0M350.6 377.0h0M354.7 384.9h0M383.9 339.8h0M389.7 363.5h0M372.5 383.5h0M366.5 391.9h0M391.1 351.4h0M379.1 373.3h0M369.5 389.6h0" stroke="#cccccc" stroke-width="2.2" stroke-linecap="round" fill="none"/>
<path d="M380.5 364.5h0M367.0 365.5h0M361.8 357.7h0M355.7 367.3h0M369.8 386.8h0M384.7 361.7h0M359.9 395.6h0M390.6 361.1h0" stroke="#f2b530" stroke-width="2.20" stroke-linecap="round" fill="none"/>
<rect x="345.00" y="333.90" width="51.00" height="73.50" fill="none" stroke="#111" stroke-width="1.15"/>
<line x1="342.40" y1="405.20" x2="345.00" y2="405.20" stroke="#111" stroke-width="0.8"/>
<line x1="347.00" y1="407.40" x2="347.00" y2="410.20" stroke="#111" stroke-width="0.8"/>
<line x1="342.40" y1="388.20" x2="345.00" y2="388.20" stroke="#111" stroke-width="0.8"/>
<line x1="358.60" y1="407.40" x2="358.60" y2="410.20" stroke="#111" stroke-width="0.8"/>
<line x1="342.40" y1="371.20" x2="345.00" y2="371.20" stroke="#111" stroke-width="0.8"/>
<line x1="370.20" y1="407.40" x2="370.20" y2="410.20" stroke="#111" stroke-width="0.8"/>
<line x1="342.40" y1="354.20" x2="345.00" y2="354.20" stroke="#111" stroke-width="0.8"/>
<line x1="381.80" y1="407.40" x2="381.80" y2="410.20" stroke="#111" stroke-width="0.8"/>
<line x1="342.40" y1="337.20" x2="345.00" y2="337.20" stroke="#111" stroke-width="0.8"/>
<line x1="393.40" y1="407.40" x2="393.40" y2="410.20" stroke="#111" stroke-width="0.8"/>
<text x="370.50" y="330.20" font-size="7.7" text-anchor="middle">A5SS</text>
<path d="M444.2 367.6h0M456.4 352.1h0M452.2 337.4h0M447.2 337.7h0M439.6 348.7h0M454.9 351.9h0M432.5 384.8h0M431.6 359.1h0M445.2 368.1h0M451.9 360.0h0M419.0 380.5h0M450.3 358.6h0M415.3 392.1h0M435.4 380.9h0M440.4 350.5h0M437.2 355.1h0M433.4 365.3h0M451.9 358.8h0M445.5 345.9h0M448.3 371.1h0M446.4 362.7h0M411.8 386.6h0M443.7 389.7h0M411.9 390.8h0M424.8 396.1h0M431.1 404.9h0M440.7 384.9h0M426.6 403.9h0M457.0 350.8h0M439.6 378.2h0M437.7 376.4h0M432.5 365.6h0M422.8 369.2h0M456.4 360.5h0M445.8 370.1h0M418.8 357.0h0M423.8 404.6h0M454.5 363.1h0M437.8 358.2h0M431.1 350.6h0M454.4 353.1h0M416.0 386.5h0M447.7 343.9h0M453.0 355.2h0M448.3 366.6h0M418.8 348.4h0M454.9 354.1h0M450.7 337.9h0M445.3 342.6h0M419.4 366.2h0M443.6 371.0h0M443.5 348.4h0M454.3 355.6h0M449.2 368.0h0M454.9 366.9h0M452.8 355.5h0M416.8 367.2h0M420.7 376.3h0M439.9 373.7h0M430.9 351.6h0M444.1 344.0h0M446.2 342.9h0M443.5 344.2h0M428.4 392.8h0M457.2 354.6h0M442.5 344.2h0M451.5 362.9h0M422.0 381.0h0M443.6 345.0h0M435.4 378.4h0M433.6 355.9h0M432.9 357.8h0M442.4 377.5h0M426.0 368.9h0M425.8 374.1h0M435.8 393.3h0M450.7 361.6h0M443.5 350.1h0M439.7 376.0h0M444.6 365.5h0M432.2 359.2h0M437.1 382.6h0M417.1 366.7h0M421.7 370.9h0M445.6 364.6h0M446.8 345.9h0M426.4 393.3h0M419.7 383.4h0M444.1 368.5h0M451.1 373.9h0M430.5 396.0h0M457.8 348.3h0M457.5 353.7h0M424.1 372.9h0M451.9 362.7h0M425.5 403.4h0M447.0 345.1h0M442.7 368.0h0M429.4 368.7h0M425.0 400.3h0M455.6 350.5h0M455.9 381.0h0M426.5 391.5h0M456.6 347.4h0M438.0 357.4h0M434.8 381.5h0M433.2 362.7h0M428.2 368.5h0M449.9 341.1h0M448.3 372.2h0M442.9 376.3h0M457.0 371.9h0M436.3 382.2h0M435.4 362.5h0M447.7 369.7h0M448.5 365.2h0M442.3 349.8h0M439.9 344.4h0M415.8 381.7h0M435.5 362.2h0M442.8 341.6h0M441.1 376.1h0M435.4 359.6h0M435.1 356.8h0M443.1 347.7h0M424.2 369.5h0M415.2 386.4h0M427.0 342.9h0M438.2 388.5h0M441.7 371.3h0M435.7 381.9h0M422.2 379.5h0M456.0 355.1h0M413.1 389.5h0M433.1 363.0h0M421.2 378.9h0M424.5 354.8h0M449.2 375.0h0M456.4 393.2h0M457.3 350.2h0M417.7 379.0h0M454.6 352.3h0M430.6 365.2h0M431.7 388.1h0M444.9 373.0h0M457.7 347.9h0M439.8 372.7h0M457.7 349.6h0M447.9 341.0h0M433.8 358.8h0M448.8 362.7h0M453.5 369.9h0M429.3 361.4h0M456.7 347.6h0M451.5 356.5h0M444.1 366.2h0M419.8 375.9h0M440.8 372.3h0M448.5 375.1h0M450.6 356.3h0M420.3 402.2h0M439.0 385.3h0M455.9 369.2h0M430.8 369.4h0M424.4 394.9h0M456.7 356.7h0M454.0 362.1h0M436.3 356.3h0M440.9 379.1h0M451.4 357.5h0M417.4 385.2h0M434.8 360.6h0M432.3 383.6h0M451.5 369.8h0M431.0 393.9h0M423.6 379.6h0M452.7 366.4h0M443.9 376.0h0M424.5 402.8h0M453.2 361.1h0M420.2 379.4h0M426.7 393.9h0M452.9 352.9h0M423.1 372.7h0M423.5 374.6h0M449.7 339.8h0M447.9 342.0h0M445.9 366.7h0M446.9 339.0h0M446.7 365.3h0M436.1 381.7h0M431.9 365.7h0M439.9 372.2h0M450.6 357.1h0M450.3 339.2h0M456.8 361.9h0M447.1 376.3h0M453.5 361.5h0M449.6 341.1h0M438.9 376.2h0M442.6 376.9h0M455.1 354.2h0M435.4 403.0h0M443.5 369.9h0M456.7 350.4h0M457.3 357.8h0M453.3 356.8h0M453.3 354.5h0M426.9 402.0h0M413.9 390.7h0M445.9 390.0h0M420.1 366.7h0M433.3 395.6h0M438.1 396.2h0M439.0 347.9h0M428.9 367.6h0M457.6 346.1h0M443.9 341.2h0M455.9 358.6h0M452.8 355.6h0M439.6 379.7h0M455.0 370.0h0M428.0 371.7h0M446.2 366.1h0M441.4 353.7h0M416.9 338.9h0M456.3 349.7h0M453.2 365.9h0M452.8 362.4h0M452.6 355.6h0M445.3 371.3h0M453.3 355.9h0M439.2 375.8h0M428.5 364.3h0M440.7 346.3h0M451.4 377.4h0M455.3 351.9h0M447.3 340.0h0M442.1 369.6h0M444.6 345.1h0M431.9 366.5h0M448.0 367.2h0M420.7 377.8h0M429.3 393.3h0M449.6 379.5h0M442.9 380.8h0M447.4 371.1h0M437.2 352.3h0M432.6 366.0h0M442.3 347.3h0M432.5 393.1h0M440.6 350.4h0M438.0 356.9h0M442.3 343.0h0M448.4 360.6h0M424.8 361.2h0M435.5 380.2h0M449.5 366.4h0M445.6 337.4h0M422.4 373.6h0M432.0 385.4h0M415.1 390.9h0M415.8 387.2h0M451.6 338.0h0M443.8 344.6h0M454.3 353.5h0M435.6 358.3h0M417.6 371.1h0M429.5 388.4h0M437.1 353.8h0M448.3 361.5h0M416.3 389.4h0M455.6 349.4h0M452.3 360.6h0M441.3 370.9h0M438.0 380.0h0M455.7 349.8h0M446.2 344.7h0M419.5 383.8h0M429.1 395.0h0M449.6 368.0h0M450.0 339.7h0M429.7 391.7h0M449.6 362.5h0M430.0 363.3h0M445.8 381.7h0M447.8 343.7h0M425.7 395.0h0M457.7 347.5h0M448.2 365.5h0M451.4 360.2h0M421.5 405.0h0M439.7 380.8h0M427.2 369.6h0M421.6 399.2h0M445.2 339.6h0M448.5 338.8h0M448.1 370.8h0M454.4 360.4h0M438.4 374.2h0M418.0 385.2h0M456.3 352.7h0M444.7 367.7h0M426.9 393.2h0M448.3 339.2h0M431.8 394.1h0M451.9 368.3h0M423.9 401.9h0M449.4 361.1h0M424.0 345.4h0M451.4 366.9h0M438.3 400.9h0M414.9 384.1h0M426.0 392.4h0M425.0 375.9h0M420.1 382.7h0M422.7 379.0h0M440.6 350.0h0M457.3 356.5h0M445.7 378.2h0M439.7 384.1h0M430.8 368.1h0M455.9 349.8h0M425.1 396.1h0M435.1 391.9h0M437.2 376.2h0M438.0 348.9h0M445.2 370.3h0M421.0 400.1h0M425.8 351.1h0M430.4 355.0h0M444.0 344.3h0M452.4 354.4h0M441.7 372.9h0M442.7 377.8h0M455.6 376.2h0M454.0 357.7h0M420.8 372.6h0M451.2 379.9h0M430.8 369.2h0M432.8 386.7h0M456.2 349.3h0M423.1 377.9h0M426.0 372.5h0M422.1 398.5h0M445.1 364.4h0M443.0 343.9h0M437.5 356.0h0M441.5 377.6h0M454.0 351.4h0M442.1 346.0h0M431.2 389.5h0M417.3 373.0h0M457.5 355.2h0M416.9 374.5h0M448.9 365.8h0M435.1 362.3h0M421.5 382.8h0M452.9 359.8h0M439.0 349.2h0M422.7 404.3h0M421.5 368.6h0M426.3 395.0h0M420.6 403.6h0M439.4 355.0h0M433.4 381.9h0M434.0 393.5h0M433.0 347.5h0M424.8 399.4h0M451.1 356.6h0M446.0 346.2h0M435.1 384.8h0M453.4 363.6h0M450.0 364.3h0M411.9 392.8h0M416.0 390.5h0M440.4 351.5h0M436.4 387.4h0M441.2 348.6h0M444.6 365.5h0M453.6 354.5h0M444.7 368.1h0M446.3 367.3h0M445.5 344.0h0M441.0 351.6h0M452.9 374.7h0M422.2 379.2h0M445.7 373.2h0M442.0 371.6h0M446.0 345.7h0M414.5 391.3h0M418.5 361.5h0M423.2 398.7h0M424.2 365.8h0M446.1 346.2h0M422.3 378.2h0M426.2 401.3h0M440.9 377.9h0M445.5 366.1h0M445.7 374.5h0M442.6 368.7h0M456.3 347.8h0M457.2 372.5h0M423.9 395.3h0M447.5 370.5h0M428.4 391.8h0M438.3 380.1h0M421.9 398.6h0M457.0 354.4h0M413.7 394.2h0M435.8 384.5h0M443.0 373.8h0M453.0 361.1h0M432.0 365.0h0M434.6 387.5h0M428.1 370.4h0M437.9 356.7h0M416.5 386.8h0M423.2 374.8h0M449.5 367.8h0M455.3 354.6h0M456.0 353.6h0M427.9 368.8h0M433.1 354.8h0M420.8 379.3h0M426.3 369.7h0M441.3 352.4h0M413.8 360.1h0M445.1 370.3h0M442.0 374.4h0M414.4 386.6h0M416.2 379.3h0M418.5 382.3h0M450.0 375.6h0M415.2 388.9h0M454.6 370.0h0M453.7 353.7h0M446.3 344.7h0M412.5 390.2h0M414.4 391.6h0M445.5 343.2h0M428.9 361.1h0M430.5 386.3h0M456.4 354.1h0M415.3 376.6h0M444.1 371.5h0M448.2 372.7h0M436.7 386.0h0M427.0 365.5h0M442.8 345.8h0M457.8 354.0h0M419.5 381.2h0M411.7 383.2h0M430.2 395.1h0M447.1 370.1h0M420.2 380.7h0M441.9 343.4h0M455.5 349.0h0M436.8 349.7h0M427.9 391.7h0M420.4 382.8h0M440.4 375.7h0M435.2 382.0h0M434.2 385.8h0M455.2 351.2h0M429.3 396.1h0M428.2 390.9h0M416.1 387.7h0M452.5 362.4h0M427.7 371.9h0M437.6 341.2h0M457.5 356.5h0M449.9 370.0h0M444.3 373.7h0M425.2 402.6h0M421.9 378.3h0M446.2 346.3h0M455.2 353.4h0M457.2 347.0h0M435.6 379.0h0M454.8 350.2h0M433.3 353.5h0M441.7 353.5h0M448.1 367.2h0M456.7 349.2h0M454.1 355.6h0M428.8 361.1h0M439.1 380.4h0M436.9 359.4h0M443.0 346.7h0M452.7 360.9h0M451.6 356.1h0M438.7 355.1h0M441.4 377.3h0M429.6 387.1h0M447.7 375.7h0M435.7 390.5h0M452.6 372.4h0M450.2 364.4h0M440.9 374.8h0M456.4 353.0h0M457.2 354.3h0M419.1 380.2h0M446.5 343.0h0M441.6 388.2h0M439.4 382.3h0M453.0 353.1h0M450.1 396.9h0M452.2 368.8h0M438.7 355.3h0M444.8 342.2h0M423.8 375.7h0M428.7 370.3h0M412.6 384.6h0M439.8 387.8h0M430.0 360.1h0M435.6 383.8h0M434.0 357.3h0M445.5 346.3h0M431.6 388.6h0M451.8 355.3h0M430.4 363.8h0M420.1 405.1h0M437.1 356.0h0M420.4 357.7h0M434.5 381.6h0M438.2 384.2h0M453.4 356.0h0M426.0 403.4h0M436.2 356.6h0M452.3 377.8h0M455.7 349.4h0M436.3 350.0h0M427.5 394.1h0M442.6 373.2h0M453.4 359.6h0M427.0 373.1h0M446.1 340.4h0M420.2 376.6h0M433.6 357.1h0M456.1 352.1h0M446.4 341.0h0M428.8 393.6h0M433.2 386.2h0M456.9 351.5h0M434.9 347.8h0M421.8 380.1h0M427.7 391.2h0M442.3 369.5h0M420.7 374.9h0M433.8 387.7h0M418.5 384.9h0M432.4 360.5h0M434.9 363.0h0M451.7 361.2h0M439.3 383.5h0M412.3 396.3h0M417.5 376.3h0M456.9 350.9h0M420.8 375.3h0M419.6 383.1h0M438.8 390.1h0M416.3 360.8h0M441.7 346.7h0M445.9 366.0h0M422.4 376.3h0M453.2 369.8h0M447.7 338.6h0M455.4 365.3h0M457.0 366.1h0M453.4 356.6h0M417.3 384.4h0M428.0 395.3h0M425.4 367.3h0M413.3 388.3h0M427.2 403.5h0M411.6 392.4h0M426.6 369.4h0M413.3 393.2h0M419.5 382.5h0M437.7 356.9h0M456.2 360.1h0M434.6 352.5h0M442.7 387.7h0M435.1 379.1h0M453.9 354.1h0M412.5 392.1h0M418.9 383.5h0M436.5 380.2h0M435.2 380.3h0M449.2 368.8h0M424.3 405.0h0M450.3 369.2h0M446.4 364.7h0M449.2 371.6h0M453.5 357.0h0M440.7 353.6h0M442.5 339.1h0M447.1 344.9h0M430.1 369.3h0M420.5 373.5h0M415.0 388.0h0M450.7 359.2h0M455.0 351.3h0M439.3 374.6h0M442.1 340.9h0M412.9 394.5h0M452.6 364.3h0M450.0 368.4h0M420.9 381.8h0M426.0 400.3h0M448.9 368.0h0M457.1 353.9h0M423.3 403.7h0M451.6 338.9h0M426.7 368.4h0M452.8 359.5h0M419.2 351.5h0M449.5 361.5h0M425.7 395.0h0M420.3 402.9h0M421.5 379.5h0M411.7 384.4h0M446.8 345.1h0M434.8 381.9h0M455.1 360.8h0M422.0 368.3h0M422.7 404.0h0M446.2 345.8h0M428.2 390.1h0M413.1 383.5h0M448.1 342.8h0M454.2 358.9h0M415.7 384.1h0M422.6 372.0h0M441.9 342.8h0M432.7 357.7h0M427.4 373.2h0M416.4 390.4h0M432.9 365.6h0M430.8 387.1h0M427.8 396.1h0M455.1 359.7h0M443.9 399.4h0M454.1 352.1h0M435.1 381.4h0M449.5 362.7h0M435.1 384.6h0M457.5 350.8h0M431.6 365.4h0M426.0 374.7h0M457.0 351.1h0M454.5 356.5h0M438.7 351.1h0M419.0 378.3h0M412.7 363.9h0M446.2 364.8h0M432.8 352.0h0M437.9 351.6h0M446.8 339.2h0M446.6 369.2h0M437.5 376.3h0M456.3 357.6h0M439.1 354.9h0M423.9 400.7h0M451.1 356.7h0M419.4 377.7h0M452.3 362.3h0M429.7 367.0h0M457.9 349.8h0M432.1 363.9h0M453.6 352.4h0M454.9 359.0h0M420.7 375.8h0M450.9 360.7h0M430.7 396.6h0M413.8 393.2h0M430.3 365.7h0M448.6 402.4h0M430.7 363.3h0M419.6 379.8h0M424.9 370.4h0M454.8 363.6h0M429.0 388.5h0M432.4 390.6h0M431.4 385.4h0M437.9 383.3h0M457.7 352.7h0M428.8 355.7h0M419.8 381.9h0M421.7 381.0h0M448.7 337.8h0M443.0 345.4h0M443.6 348.2h0M455.1 377.5h0M418.7 384.1h0M437.3 357.6h0M455.1 360.1h0M450.9 367.6h0M442.0 370.9h0M426.4 357.6h0M440.9 372.9h0M453.8 362.1h0M453.6 360.4h0M434.9 381.4h0M457.6 346.3h0M420.4 402.6h0M453.7 358.7h0M436.7 378.9h0M432.2 363.8h0M453.1 356.3h0M421.1 383.2h0M423.1 400.7h0M434.0 354.5h0M438.9 379.3h0M442.0 347.1h0M457.6 363.5h0M444.1 346.0h0M456.2 357.4h0M440.6 375.8h0M427.5 393.1h0M446.2 344.7h0M450.7 356.2h0M428.4 360.9h0M429.8 397.5h0M419.7 345.0h0M442.1 345.6h0M432.3 393.1h0M418.1 377.9h0M445.2 340.4h0M418.4 403.7h0M445.3 379.7h0M446.1 370.3h0M451.6 357.1h0M455.2 354.9h0M437.1 357.0h0M421.7 365.6h0M427.5 404.3h0M425.8 369.6h0M445.5 373.2h0M453.2 365.5h0M451.7 354.7h0M450.9 355.9h0M456.7 351.3h0M456.4 362.9h0M430.7 385.6h0M451.2 358.2h0M420.5 402.4h0M434.7 360.0h0M435.3 341.4h0M429.1 401.0h0M450.5 362.9h0M412.0 387.2h0M455.5 349.4h0M456.8 359.4h0M431.5 391.9h0M451.5 355.5h0M434.4 361.0h0M454.6 353.1h0M455.2 362.0h0M453.0 355.3h0M421.9 376.5h0M426.9 401.2h0M441.8 370.4h0M453.7 367.4h0M430.0 396.3h0M452.7 371.7h0M420.6 382.0h0M457.3 367.6h0M432.2 391.2h0M449.3 358.5h0M451.6 356.9h0M458.0 356.7h0M418.7 381.2h0M439.3 379.1h0M443.8 345.2h0M445.3 344.4h0M455.7 356.5h0M414.1 379.0h0M423.3 396.5h0M443.2 368.9h0M442.3 378.1h0M412.9 388.6h0M453.4 361.7h0M453.5 354.4h0M434.3 380.0h0M443.8 339.3h0M435.8 356.1h0M420.5 379.9h0M441.5 369.7h0M449.3 368.6h0M438.8 349.8h0M420.4 373.4h0M423.3 373.8h0M433.2 359.5h0M446.8 367.3h0M446.2 368.7h0M453.7 353.0h0M446.0 363.0h0M436.8 349.2h0M448.3 363.1h0M433.3 363.7h0M419.3 379.4h0M452.1 373.6h0M452.9 363.3h0M418.5 370.1h0M411.7 395.1h0M437.2 356.0h0M427.3 400.5h0M453.6 365.8h0M446.3 381.7h0M431.2 389.9h0M454.9 360.6h0M448.8 340.5h0M423.4 400.2h0M450.8 337.4h0M438.6 351.6h0M435.4 346.5h0M453.5 364.0h0M445.3 341.6h0M451.4 359.7h0M419.6 377.9h0M451.6 364.1h0M439.6 353.4h0M448.4 367.8h0M418.6 403.1h0M437.8 379.8h0M415.0 387.3h0M418.2 375.0h0M448.5 361.1h0M425.1 398.8h0M419.5 382.9h0M437.7 353.0h0M420.2 376.2h0M433.7 385.0h0M449.3 367.3h0M456.5 351.3h0M456.1 351.9h0M453.5 357.9h0M415.4 389.5h0M435.7 341.3h0M444.0 369.2h0M452.1 363.0h0M439.6 351.2h0M447.4 361.7h0M433.7 364.5h0M453.6 360.3h0M443.2 375.3h0M421.8 378.0h0M450.9 367.9h0M425.2 377.5h0M452.4 354.2h0M432.5 384.6h0M432.1 362.2h0M446.1 343.2h0M423.2 379.3h0M440.1 345.6h0M440.5 379.9h0M450.4 364.9h0M440.7 375.1h0M432.7 359.5h0M450.2 373.0h0M441.7 346.7h0M439.5 374.2h0M411.9 391.1h0M433.5 383.3h0M428.7 371.2h0M430.7 358.7h0M457.3 347.1h0M434.6 380.8h0M448.2 364.7h0M445.3 375.5h0M449.3 358.3h0M451.2 337.2h0M458.0 354.8h0M453.1 354.9h0M435.3 355.0h0M442.0 379.6h0M420.6 400.7h0M421.8 373.8h0M423.7 397.3h0M425.8 399.0h0M439.4 374.8h0M453.1 375.6h0M451.4 359.7h0M440.1 377.6h0M448.0 363.2h0M434.0 389.7h0M415.1 384.7h0M441.0 377.0h0M427.2 399.3h0M444.7 343.7h0M421.6 377.4h0M414.7 388.5h0M453.4 358.1h0M422.3 404.2h0M431.1 368.3h0M432.9 350.5h0M457.7 375.1h0M455.8 357.0h0M421.2 400.5h0M433.8 364.9h0M456.6 353.1h0M448.8 359.7h0M447.4 376.8h0M456.2 353.3h0M444.3 366.7h0M433.1 362.3h0M427.0 366.2h0M429.6 361.9h0M456.8 347.8h0M449.6 358.1h0M451.2 339.1h0M419.8 375.7h0M423.6 379.3h0M440.5 379.5h0M456.7 361.2h0M457.0 359.5h0M457.7 352.8h0M444.8 347.7h0M447.5 341.7h0M443.8 369.5h0M435.1 386.4h0M415.1 391.2h0M431.5 387.9h0M447.7 375.4h0M431.8 363.4h0M436.7 378.1h0M440.7 375.8h0M450.8 356.9h0M437.1 389.9h0M450.7 357.8h0M457.0 360.8h0M457.3 352.5h0M414.1 390.9h0M425.1 377.5h0M454.6 354.2h0M450.1 367.3h0M436.7 351.1h0M426.0 392.7h0M448.4 360.6h0M449.1 371.0h0M430.5 387.2h0M453.1 357.3h0M437.3 357.3h0M429.9 387.0h0M435.6 384.7h0M452.2 365.1h0M422.6 398.8h0M441.0 350.1h0M437.5 348.6h0M427.8 342.8h0M437.4 375.9h0M455.0 350.6h0M456.4 368.1h0M448.4 363.5h0M456.4 353.6h0M435.9 356.1h0M457.3 346.5h0M440.6 346.9h0M444.2 341.2h0M447.6 365.6h0M447.8 342.0h0M448.2 362.6h0M419.2 375.4h0M444.7 371.1h0M429.0 399.7h0M434.1 361.0h0M423.3 375.4h0M415.7 384.9h0M456.9 350.3h0M425.0 370.7h0M422.0 380.7h0M457.0 347.8h0M411.7 391.4h0M449.3 337.5h0M441.2 352.1h0M454.9 355.6h0M434.1 351.6h0M435.4 390.2h0M447.8 365.2h0M457.1 349.1h0M454.9 370.3h0M456.1 351.3h0M455.1 351.3h0M447.2 377.4h0M455.8 363.3h0M439.4 343.7h0M448.2 342.0h0M432.8 359.9h0M432.5 353.6h0M453.0 356.8h0M455.4 361.9h0M454.7 351.3h0M431.7 367.0h0M439.2 376.6h0M416.4 378.6h0M416.5 382.6h0M451.3 358.1h0M451.1 366.5h0M412.2 396.4h0M451.7 360.7h0M417.0 383.3h0M446.0 343.2h0M422.1 400.4h0M427.9 391.8h0M452.7 353.2h0M441.3 342.7h0M456.6 371.4h0M442.4 394.2h0M414.7 391.5h0M417.4 383.5h0M457.9 345.8h0M454.5 353.9h0M447.4 339.9h0M449.1 362.2h0M456.9 351.7h0M433.0 355.0h0M455.7 365.8h0M424.4 374.6h0M426.1 373.5h0M456.3 348.9h0M449.6 372.8h0M442.1 375.8h0M453.8 353.7h0M412.0 389.4h0M421.9 375.4h0M424.2 375.0h0M419.9 376.0h0M456.6 363.6h0M430.4 358.1h0M454.9 355.3h0M455.8 362.0h0M450.9 337.4h0M448.9 382.2h0M445.6 364.7h0M456.5 355.7h0M447.1 364.7h0M424.5 398.9h0M448.5 374.3h0M427.4 369.4h0M430.9 396.7h0M455.3 365.8h0M456.3 378.8h0M439.7 381.8h0M453.3 355.5h0M448.8 338.4h0M420.3 367.2h0M412.7 393.6h0M450.2 364.7h0M426.2 372.8h0M453.4 357.1h0M448.7 366.5h0M420.3 383.9h0M455.5 353.3h0M440.0 347.3h0M434.3 381.8h0M425.7 395.7h0M443.4 342.7h0M445.8 365.3h0M448.3 360.2h0M449.4 364.7h0M413.6 388.1h0M414.0 376.8h0M445.7 347.6h0M418.9 372.8h0M452.0 366.1h0M420.2 384.9h0M438.4 404.0h0M429.0 363.1h0M429.3 399.9h0M443.1 370.3h0M454.1 353.5h0M426.2 404.3h0M419.4 384.9h0M457.3 372.2h0M418.0 385.6h0M432.6 382.8h0M449.3 366.6h0M455.9 350.0h0M451.2 364.3h0M427.1 395.4h0M433.9 395.8h0M439.9 378.0h0M424.5 375.5h0M441.2 381.3h0M445.6 363.6h0M419.7 379.3h0M446.3 363.4h0M449.0 365.2h0M426.1 373.6h0M449.2 342.3h0M429.7 389.1h0M431.2 396.3h0M419.0 403.1h0M425.3 374.0h0M449.9 367.5h0M432.7 357.6h0M454.2 368.3h0M420.8 365.8h0M437.4 378.1h0M430.3 355.1h0M451.0 361.6h0M443.9 347.0h0M449.6 371.6h0M438.1 353.6h0M448.7 359.3h0M439.7 355.3h0M427.3 372.3h0M427.9 390.9h0M412.6 392.4h0M441.7 373.2h0M434.4 386.7h0M451.1 365.0h0M439.6 352.7h0M449.0 367.4h0M437.3 379.3h0M416.0 388.3h0M437.9 381.8h0M435.3 382.6h0M437.4 352.4h0M448.3 365.2h0M433.5 384.6h0M435.0 391.4h0M443.5 344.7h0M433.1 359.9h0M435.9 381.9h0M454.2 359.6h0M449.7 365.6h0M413.5 390.6h0M427.3 394.8h0M420.4 367.0h0M456.7 361.1h0M421.4 401.4h0M437.7 351.5h0M453.1 368.6h0M457.1 350.8h0M448.4 340.4h0M446.2 364.0h0M421.9 403.8h0M457.0 371.4h0M455.8 352.9h0M434.9 381.4h0M414.1 381.3h0M432.3 362.9h0M437.2 355.1h0M445.9 344.0h0M454.1 365.3h0M441.7 350.0h0M417.9 368.2h0M456.8 353.0h0M417.5 380.1h0M417.5 382.5h0M426.4 402.0h0M452.2 365.0h0M430.6 367.4h0M452.5 369.8h0M435.9 351.7h0M441.4 375.8h0M417.9 385.3h0M415.7 389.0h0M427.5 391.5h0M440.0 381.6h0M454.4 350.8h0M442.7 377.5h0M444.2 380.2h0M453.0 373.6h0M448.3 372.0h0M423.6 378.3h0M455.7 362.3h0M449.3 361.6h0M420.4 383.5h0M432.7 383.2h0M429.2 398.4h0M457.2 348.9h0M450.0 361.8h0M426.5 344.9h0M433.8 386.1h0M413.8 384.2h0M440.5 355.2h0M440.8 372.6h0M435.5 381.5h0M436.6 352.5h0M452.7 357.4h0M438.6 345.2h0M447.9 360.8h0M420.1 385.1h0M434.3 390.5h0M427.9 372.3h0M431.2 386.2h0M418.1 382.3h0M456.0 355.3h0M456.6 349.4h0M447.1 364.5h0M441.4 371.7h0M419.5 375.8h0M453.6 384.5h0M443.1 371.0h0M424.0 396.5h0M443.2 369.8h0M452.9 356.2h0M451.1 363.9h0M436.9 378.8h0M453.8 359.3h0M431.0 399.7h0M445.0 389.3h0M429.0 356.7h0M420.5 384.3h0M457.7 346.4h0M457.9 346.9h0M434.4 349.2h0M435.4 392.9h0M441.3 372.3h0M441.9 352.2h0M440.4 376.8h0M439.4 347.4h0M432.7 352.6h0M439.6 377.9h0M434.8 349.4h0M418.4 382.5h0M446.7 344.0h0M439.0 345.6h0M455.7 357.1h0M421.4 379.7h0M450.7 358.2h0M438.9 374.1h0M415.6 376.5h0M434.4 380.1h0M457.2 353.1h0M431.3 390.5h0M452.8 365.5h0M441.9 380.4h0M416.8 382.8h0M419.0 380.8h0M444.5 341.4h0M449.4 358.6h0M412.0 379.9h0M455.4 353.8h0M442.3 349.1h0M418.1 377.6h0M443.0 349.5h0M430.0 391.2h0M433.8 352.6h0M412.3 379.8h0M449.4 374.9h0M446.2 376.8h0M453.6 352.8h0M454.1 366.5h0M451.5 362.4h0M440.2 354.6h0M448.8 364.5h0M428.1 367.7h0M437.7 378.4h0M446.4 337.3h0M450.8 358.0h0M447.6 373.2h0M449.3 363.7h0M440.5 371.2h0M426.1 371.0h0M457.2 352.4h0M427.6 371.8h0M413.5 383.7h0M419.7 403.2h0M430.3 363.4h0M432.6 384.4h0M435.4 354.9h0M457.5 349.9h0M454.8 354.8h0M432.2 390.0h0M443.8 368.7h0M455.3 360.6h0M424.5 396.6h0M436.1 358.0h0M443.3 376.7h0M457.8 347.6h0M435.7 361.6h0M451.4 338.0h0M455.0 364.8h0M430.4 367.2h0M425.9 399.9h0M457.5 350.2h0M418.0 404.9h0M455.9 354.8h0M441.9 380.8h0M426.5 402.0h0M418.5 403.4h0M452.6 370.2h0M444.1 375.7h0M452.4 355.4h0M432.4 366.3h0M457.0 358.8h0M453.8 353.0h0M428.1 389.7h0M454.8 366.8h0M443.1 376.1h0M454.3 375.3h0M457.3 368.5h0M445.2 371.9h0M449.7 340.7h0M457.8 358.2h0M450.0 366.0h0M457.0 350.0h0M457.9 356.9h0M447.3 339.0h0M445.3 343.3h0M446.0 345.6h0M445.2 385.3h0M417.4 388.2h0M444.2 367.1h0M452.7 355.8h0M446.6 342.4h0M416.6 381.4h0M444.2 366.4h0M424.5 395.5h0M430.3 393.5h0M443.8 345.8h0M434.8 380.0h0M414.0 391.0h0M453.1 362.8h0M419.1 405.0h0M428.7 366.9h0M418.7 378.7h0M423.5 369.0h0M440.3 349.5h0M440.5 343.7h0M439.3 375.2h0M447.1 341.7h0M449.0 358.7h0M454.1 351.4h0M438.0 347.3h0M427.5 395.3h0M439.4 354.8h0M433.0 385.2h0M434.1 382.6h0M415.2 376.9h0M419.3 384.8h0M448.5 339.7h0M454.3 363.4h0M437.1 383.4h0M431.1 391.8h0M455.2 361.0h0M455.7 351.3h0M443.7 373.2h0M434.1 389.5h0" stroke="#cccccc" stroke-width="2.2" stroke-linecap="round" fill="none"/>
<path d="M424.1 379.3h0M412.8 388.5h0M442.4 347.1h0M423.3 369.2h0M440.6 391.3h0M416.6 377.5h0M425.7 370.8h0M438.7 357.1h0M422.3 379.1h0M420.8 401.9h0M439.4 340.2h0M418.9 381.5h0M428.8 388.6h0M437.2 355.0h0M415.5 391.4h0M422.8 373.9h0M423.3 377.6h0M424.8 399.6h0M425.3 398.5h0M426.4 375.4h0M421.2 373.9h0M456.4 350.4h0M445.3 366.7h0M441.6 345.6h0M427.1 366.2h0M438.1 376.4h0M427.9 398.7h0M433.3 365.0h0M413.8 392.2h0M444.5 348.0h0M424.8 360.6h0M427.0 365.0h0M452.2 359.6h0M455.8 365.1h0M423.2 401.3h0M436.5 352.2h0M425.8 356.1h0M424.2 372.5h0M424.8 401.4h0M432.0 384.8h0M418.6 385.1h0M418.4 386.3h0M426.8 360.5h0M432.8 362.9h0M420.1 382.5h0M422.4 375.3h0M439.4 352.2h0M413.5 386.6h0M424.3 378.8h0M440.9 386.5h0M436.7 385.8h0M416.6 379.5h0M422.2 362.9h0M428.9 402.7h0M429.2 364.8h0M416.4 381.5h0M421.2 381.9h0M422.5 401.6h0M412.9 389.5h0M430.4 367.6h0M439.5 350.0h0M415.5 388.4h0M433.8 389.3h0M440.0 349.9h0M419.4 383.6h0M424.0 398.7h0M415.4 389.6h0M438.6 375.5h0M425.8 374.0h0M425.6 367.1h0M439.1 342.3h0M430.9 367.5h0M428.1 364.3h0M412.1 392.4h0M418.8 379.2h0M456.5 348.3h0M426.3 373.8h0M414.4 383.2h0M447.3 388.9h0M438.9 385.1h0M424.2 395.5h0M446.7 391.2h0M434.7 351.8h0M421.3 380.8h0M425.6 371.6h0M439.5 394.1h0M413.4 391.3h0M419.5 373.7h0M427.0 370.6h0M415.0 384.0h0M417.7 372.4h0M447.2 338.4h0M426.2 374.8h0M421.1 376.4h0M429.0 365.6h0M422.3 401.9h0M432.7 364.6h0M418.7 385.4h0" stroke="#348a2b" stroke-width="2.20" stroke-linecap="round" fill="none"/>
<rect x="409.60" y="333.80" width="51.00" height="73.50" fill="none" stroke="#111" stroke-width="1.15"/>
<line x1="407.00" y1="405.10" x2="409.60" y2="405.10" stroke="#111" stroke-width="0.8"/>
<line x1="411.60" y1="407.30" x2="411.60" y2="410.10" stroke="#111" stroke-width="0.8"/>
<line x1="407.00" y1="388.10" x2="409.60" y2="388.10" stroke="#111" stroke-width="0.8"/>
<line x1="423.20" y1="407.30" x2="423.20" y2="410.10" stroke="#111" stroke-width="0.8"/>
<line x1="407.00" y1="371.10" x2="409.60" y2="371.10" stroke="#111" stroke-width="0.8"/>
<line x1="434.80" y1="407.30" x2="434.80" y2="410.10" stroke="#111" stroke-width="0.8"/>
<line x1="407.00" y1="354.10" x2="409.60" y2="354.10" stroke="#111" stroke-width="0.8"/>
<line x1="446.40" y1="407.30" x2="446.40" y2="410.10" stroke="#111" stroke-width="0.8"/>
<line x1="407.00" y1="337.10" x2="409.60" y2="337.10" stroke="#111" stroke-width="0.8"/>
<line x1="458.00" y1="407.30" x2="458.00" y2="410.10" stroke="#111" stroke-width="0.8"/>
<text x="435.10" y="330.10" font-size="7.7" text-anchor="middle">MXE</text>
<path d="M315.0 465.3h0M327.2 449.8h0M323.0 435.1h0M318.0 435.4h0M310.4 446.4h0M325.7 449.6h0M294.9 477.0h0M303.3 482.5h0M302.4 456.8h0M316.0 465.8h0M322.7 457.7h0M289.8 478.2h0M321.1 456.3h0M286.1 489.8h0M283.6 486.2h0M306.2 478.6h0M311.2 448.2h0M308.0 452.8h0M304.2 463.0h0M322.7 456.5h0M316.3 443.6h0M313.2 444.8h0M319.1 468.8h0M317.2 460.4h0M282.6 484.3h0M314.5 487.4h0M282.7 488.5h0M295.6 493.8h0M301.9 502.6h0M311.5 482.6h0M297.4 501.6h0M327.8 448.5h0M310.4 475.9h0M308.5 474.1h0M303.3 463.3h0M293.6 466.9h0M327.2 458.2h0M316.6 467.8h0M294.1 466.9h0M289.6 454.7h0M294.6 502.3h0M325.3 460.8h0M308.6 455.9h0M301.9 448.3h0M325.2 450.8h0M286.8 484.2h0M311.4 489.0h0M318.5 441.6h0M323.8 452.9h0M319.1 464.3h0M289.6 446.1h0M325.7 451.8h0M321.5 435.6h0M316.1 440.3h0M290.2 463.9h0M314.4 468.7h0M314.3 446.1h0M325.1 453.3h0M320.0 465.7h0M323.6 453.2h0M287.6 464.9h0M291.5 474.0h0M310.7 471.4h0M301.7 449.3h0M314.9 441.7h0M317.0 440.6h0M314.3 441.9h0M299.2 490.5h0M328.0 452.3h0M313.3 441.9h0M322.3 460.6h0M292.8 478.7h0M314.4 442.7h0M306.2 476.1h0M304.4 453.6h0M303.7 455.5h0M313.2 475.2h0M296.8 466.6h0M296.6 471.8h0M287.4 475.2h0M306.6 491.0h0M321.5 459.3h0M314.3 447.8h0M296.5 468.5h0M310.5 473.7h0M315.4 463.2h0M303.0 456.9h0M307.9 480.3h0M287.9 464.4h0M292.5 468.6h0M316.4 462.3h0M317.6 443.6h0M297.2 491.0h0M290.5 481.1h0M314.9 466.2h0M321.9 471.6h0M301.3 493.7h0M328.6 446.0h0M328.3 451.4h0M294.9 470.6h0M322.7 460.4h0M296.3 501.1h0M317.8 442.8h0M313.5 465.7h0M300.2 466.4h0M295.8 498.0h0M326.4 448.2h0M326.7 478.7h0M297.3 489.2h0M309.5 454.8h0M327.4 445.1h0M308.8 455.1h0M293.1 476.8h0M305.6 479.2h0M291.6 499.6h0M304.0 460.4h0M299.0 466.2h0M320.7 438.8h0M319.1 469.9h0M313.7 474.0h0M327.8 469.6h0M307.1 479.9h0M306.2 460.2h0M318.5 467.4h0M319.3 462.9h0M313.1 447.5h0M310.7 442.1h0M286.6 479.4h0M306.3 459.9h0M313.6 439.3h0M311.9 473.8h0M306.2 457.3h0M305.9 454.5h0M313.9 445.4h0M295.0 467.2h0M286.0 484.1h0M297.8 440.6h0M312.5 469.0h0M306.5 479.6h0M310.2 437.9h0M293.0 477.2h0M326.8 452.8h0M283.9 487.2h0M303.9 460.7h0M292.0 476.6h0M295.3 452.5h0M320.0 472.7h0M327.2 490.9h0M328.1 447.9h0M288.5 476.7h0M325.4 450.0h0M301.4 462.9h0M302.5 485.8h0M315.7 470.7h0M328.5 445.6h0M310.6 470.4h0M328.5 447.3h0M318.7 438.7h0M304.6 456.5h0M319.6 460.4h0M324.3 467.6h0M300.1 459.1h0M327.5 445.3h0M322.3 454.2h0M314.9 463.9h0M290.6 473.6h0M311.6 470.0h0M319.3 472.8h0M321.4 454.0h0M291.1 499.9h0M309.8 483.0h0M326.7 466.9h0M301.6 467.1h0M295.2 492.6h0M327.5 454.4h0M324.8 459.8h0M307.1 454.0h0M322.2 455.2h0M288.2 482.9h0M305.6 458.3h0M303.1 481.3h0M322.3 467.5h0M289.7 479.2h0M301.8 491.6h0M294.4 477.3h0M323.5 464.1h0M314.7 473.7h0M295.3 500.5h0M324.0 458.8h0M291.0 477.1h0M297.5 491.6h0M323.7 450.6h0M299.6 486.3h0M293.9 470.4h0M294.3 472.3h0M320.5 437.5h0M318.7 439.7h0M316.7 464.4h0M308.0 452.7h0M317.5 463.0h0M306.9 479.4h0M302.7 463.4h0M310.7 469.9h0M321.4 454.8h0M321.1 436.9h0M317.9 474.0h0M324.3 459.2h0M320.4 438.8h0M286.3 489.1h0M309.7 473.9h0M313.4 474.6h0M325.9 451.9h0M306.2 500.7h0M314.3 467.6h0M327.5 448.1h0M293.6 471.6h0M328.1 455.5h0M324.1 454.5h0M324.1 452.2h0M294.1 475.3h0M297.7 499.7h0M284.7 488.4h0M316.7 487.7h0M290.9 464.4h0M304.1 493.3h0M295.6 497.3h0M296.1 496.2h0M297.2 473.1h0M308.9 493.9h0M309.8 445.6h0M299.7 465.3h0M328.4 443.8h0M314.7 438.9h0M326.7 456.3h0M323.6 453.3h0M292.0 471.6h0M327.2 448.1h0M310.4 477.4h0M325.8 467.7h0M298.8 469.4h0M317.0 463.8h0M312.2 451.4h0M287.7 436.6h0M327.1 447.4h0M324.0 463.6h0M323.6 460.1h0M323.4 453.3h0M316.1 469.0h0M324.1 453.6h0M316.1 464.4h0M310.0 473.5h0M299.3 462.0h0M322.2 475.1h0M326.1 449.6h0M318.1 437.7h0M312.9 467.3h0M315.4 442.8h0M302.7 464.2h0M318.8 464.9h0M291.5 475.5h0M300.1 491.0h0M320.4 477.2h0M313.7 478.5h0M318.2 468.8h0M308.0 450.0h0M303.4 463.7h0M313.1 445.0h0M303.3 490.8h0M311.4 448.1h0M308.8 454.6h0M313.1 440.7h0M319.2 458.3h0M295.6 458.9h0M306.3 477.9h0M320.3 464.1h0M316.4 435.1h0M293.2 471.3h0M302.8 483.1h0M285.9 488.6h0M286.6 484.9h0M322.4 435.7h0M314.6 442.3h0M312.4 443.3h0M325.1 451.2h0M306.4 456.0h0M288.4 468.8h0M300.3 486.1h0M307.9 451.5h0M319.1 459.2h0M287.1 487.1h0M326.4 447.1h0M323.1 458.3h0M312.1 468.6h0M308.8 477.7h0M326.5 447.5h0M317.0 442.4h0M290.3 481.5h0M299.9 492.7h0M320.4 465.7h0M320.8 437.4h0M300.5 489.4h0M320.4 460.2h0M300.8 461.0h0M316.6 479.4h0M318.6 441.4h0M297.9 463.9h0M296.5 492.7h0M328.5 445.2h0M319.0 463.2h0M322.2 457.9h0M292.3 502.7h0M310.5 478.5h0M298.0 467.3h0M292.4 496.9h0M316.0 437.3h0M319.3 436.5h0M318.9 468.5h0M325.2 458.1h0M309.2 471.9h0M288.8 482.9h0M327.1 450.4h0M315.5 465.4h0M297.7 490.9h0M319.1 436.9h0M302.6 491.8h0M322.7 466.0h0M294.7 499.6h0M320.2 458.8h0M322.2 464.6h0M309.1 498.6h0M285.7 481.8h0M296.8 490.1h0M295.8 473.6h0M290.9 480.4h0M293.5 476.7h0M308.9 474.1h0M298.7 496.4h0M311.4 447.7h0M328.1 454.2h0M316.5 475.9h0M310.5 481.8h0M301.6 465.8h0M326.7 447.5h0M304.1 462.7h0M295.9 493.8h0M308.0 473.9h0M284.6 489.9h0M308.8 446.6h0M316.0 468.0h0M291.8 497.8h0M296.6 448.8h0M301.2 452.7h0M314.8 442.0h0M315.3 445.7h0M295.6 458.3h0M323.2 452.1h0M312.5 470.6h0M313.5 475.5h0M326.4 473.9h0M324.8 455.4h0M291.6 470.3h0M322.0 477.6h0M301.6 466.9h0M303.6 484.4h0M327.0 447.0h0M293.9 475.6h0M296.8 470.2h0M292.9 496.2h0M315.9 462.1h0M313.8 441.6h0M308.3 453.7h0M297.8 462.7h0M312.3 475.3h0M323.0 457.3h0M324.8 449.1h0M312.9 443.7h0M302.0 487.2h0M288.1 470.7h0M328.3 452.9h0M326.6 462.8h0M287.7 472.2h0M319.7 463.5h0M305.9 460.0h0M292.3 480.5h0M323.7 457.5h0M309.8 446.9h0M293.5 502.0h0M292.3 466.3h0M297.1 492.7h0M291.4 501.3h0M310.2 452.7h0M304.2 479.6h0M304.8 491.2h0M303.8 445.2h0M295.6 497.1h0M321.9 454.3h0M316.8 443.9h0M305.9 482.5h0M324.2 461.3h0M320.8 462.0h0M282.7 490.5h0M286.8 488.2h0M311.2 449.2h0M307.2 485.1h0M312.0 446.3h0M315.4 463.2h0M324.4 452.2h0M315.5 465.8h0M317.1 465.0h0M316.3 441.7h0M311.8 449.3h0M293.0 476.9h0M316.5 470.9h0M312.8 469.3h0M316.8 443.4h0M294.0 499.0h0M285.3 489.0h0M289.3 459.2h0M294.0 496.4h0M295.0 463.5h0M307.3 449.9h0M316.9 443.9h0M293.1 475.9h0M297.0 499.0h0M311.7 475.6h0M316.5 472.2h0M313.4 466.4h0M327.1 445.5h0M294.7 493.0h0M318.3 468.2h0M299.2 489.5h0M309.1 477.8h0M292.7 496.3h0M327.8 452.1h0M284.5 491.9h0M306.6 482.2h0M313.8 471.5h0M323.8 458.8h0M302.8 462.7h0M305.4 485.2h0M298.9 468.1h0M308.7 454.4h0M287.3 484.5h0M294.0 472.5h0M320.3 465.5h0M326.1 452.3h0M296.6 453.8h0M326.8 451.3h0M298.7 466.5h0M303.9 452.5h0M291.6 477.0h0M297.1 467.4h0M312.1 450.1h0M284.6 457.8h0M315.9 468.0h0M312.8 472.1h0M285.2 484.3h0M287.0 477.0h0M289.3 480.0h0M320.8 473.3h0M286.0 486.6h0M325.4 467.7h0M324.5 451.4h0M317.1 442.4h0M283.3 487.9h0M285.2 489.3h0M316.3 440.9h0M299.7 458.8h0M301.3 484.0h0M327.2 451.8h0M295.0 470.2h0M286.1 474.3h0M314.9 469.2h0M319.0 470.4h0M295.6 499.1h0M297.8 463.2h0M313.6 443.5h0M328.6 451.7h0M290.3 478.9h0M282.5 480.9h0M301.0 492.8h0M317.9 467.8h0M291.0 478.4h0M312.7 441.1h0M326.3 446.7h0M307.6 447.4h0M298.7 489.4h0M291.2 480.5h0M311.2 473.4h0M306.0 479.7h0M305.0 483.5h0M326.0 448.9h0M300.1 493.8h0M299.0 488.6h0M286.9 485.4h0M323.3 460.1h0M298.5 469.6h0M308.4 438.9h0M328.3 454.2h0M320.7 467.7h0M315.1 471.4h0M296.0 500.3h0M292.7 476.0h0M317.0 444.0h0M326.0 451.1h0M328.0 444.7h0M306.4 476.7h0M304.1 451.2h0M312.5 451.2h0M318.9 464.9h0M327.5 446.9h0M324.9 453.3h0M299.6 458.8h0M309.9 478.1h0M307.7 457.1h0M313.8 444.4h0M323.5 458.6h0M322.4 453.8h0M309.5 452.8h0M312.2 475.0h0M300.4 484.8h0M306.5 488.2h0M323.4 470.1h0M321.0 462.1h0M311.7 472.5h0M327.2 450.7h0M328.0 452.0h0M289.9 477.9h0M317.3 440.7h0M310.2 480.0h0M302.8 482.5h0M323.8 450.8h0M323.0 466.5h0M309.5 453.0h0M315.6 439.9h0M294.6 473.4h0M289.4 482.8h0M299.5 468.0h0M283.4 482.3h0M310.6 485.5h0M300.8 457.8h0M306.4 481.5h0M304.8 455.0h0M316.3 444.0h0M302.4 486.3h0M322.6 453.0h0M301.2 461.5h0M290.9 502.8h0M307.9 453.7h0M291.2 455.4h0M305.3 479.3h0M289.2 484.0h0M309.0 481.9h0M324.2 453.7h0M296.8 501.1h0M307.0 454.3h0M323.1 475.5h0M297.6 458.2h0M326.5 447.1h0M307.1 447.7h0M298.3 491.8h0M313.4 470.9h0M324.2 457.3h0M297.8 470.8h0M316.9 438.1h0M291.0 474.3h0M304.4 454.8h0M326.9 449.8h0M317.2 438.7h0M299.6 491.3h0M304.0 483.9h0M327.7 449.2h0M305.7 445.5h0M292.6 477.8h0M298.5 488.9h0M313.1 467.2h0M291.5 472.6h0M304.6 485.4h0M289.3 482.6h0M303.2 458.2h0M305.7 460.7h0M303.6 460.6h0M322.5 458.9h0M310.1 481.2h0M283.1 494.0h0M288.3 474.0h0M327.7 448.6h0M291.6 473.0h0M290.4 480.8h0M287.1 458.5h0M312.5 444.4h0M316.7 463.7h0M293.2 474.0h0M324.0 467.5h0M318.5 436.3h0M326.2 463.0h0M327.8 463.8h0M324.2 454.3h0M288.1 482.1h0M298.8 493.0h0M296.2 465.0h0M284.1 486.0h0M298.0 501.2h0M282.4 490.1h0M297.4 467.1h0M284.1 490.9h0M308.5 454.6h0M327.0 457.8h0M305.4 450.2h0M290.9 480.2h0M305.9 476.8h0M324.7 451.8h0M283.3 489.8h0M289.7 481.2h0M307.3 477.9h0M306.0 478.0h0M320.0 466.5h0M293.2 473.0h0M295.1 502.7h0M321.1 466.9h0M317.2 462.4h0M320.0 469.3h0M324.3 454.7h0M311.5 451.3h0M313.3 436.8h0M317.9 442.6h0M300.9 467.0h0M291.3 471.2h0M285.8 485.7h0M310.2 449.9h0M321.5 456.9h0M325.8 449.0h0M310.1 472.3h0M283.7 492.2h0M323.4 462.0h0M320.8 466.1h0M291.7 479.5h0M296.8 498.0h0M319.7 465.7h0M327.9 451.6h0M294.1 501.4h0M322.4 436.6h0M297.5 466.1h0M323.6 457.2h0M290.0 449.2h0M320.3 459.2h0M296.5 492.7h0M291.1 500.6h0M292.3 477.2h0M282.5 482.1h0M317.6 442.8h0M284.3 484.3h0M305.6 479.6h0M325.9 458.5h0M292.8 466.0h0M293.5 501.7h0M317.0 443.5h0M299.0 487.8h0M283.9 481.2h0M318.9 440.5h0M325.0 456.6h0M286.5 481.8h0M293.4 469.7h0M312.7 440.5h0M303.5 455.4h0M298.2 470.9h0M287.2 488.1h0M303.7 463.3h0M301.6 484.8h0M298.6 493.8h0M325.9 457.4h0M314.7 497.1h0M324.9 449.8h0M305.9 479.1h0M320.3 460.4h0M305.9 482.3h0M328.3 448.5h0M302.4 463.1h0M296.8 472.4h0M327.8 448.8h0M295.1 476.5h0M325.3 454.2h0M309.5 448.8h0M289.8 476.0h0M283.5 461.6h0M311.7 484.2h0M317.0 462.5h0M303.6 449.7h0M308.7 449.3h0M307.5 483.5h0M317.6 436.9h0M317.4 466.9h0M308.3 474.0h0M327.1 455.3h0M309.9 452.6h0M321.9 454.4h0M290.2 475.4h0M323.1 460.0h0M328.7 447.5h0M302.9 461.6h0M324.4 450.1h0M325.7 456.7h0M291.5 473.5h0M321.7 458.4h0M301.5 494.3h0M284.6 490.9h0M301.1 463.4h0M301.5 461.0h0M290.4 477.5h0M295.7 468.1h0M299.8 486.2h0M303.2 488.3h0M302.2 483.1h0M308.7 481.0h0M328.5 450.4h0M299.6 453.4h0M290.6 479.6h0M292.5 478.7h0M319.5 435.5h0M313.8 443.1h0M314.4 445.9h0M325.9 475.2h0M289.5 481.8h0M287.4 477.2h0M308.1 455.3h0M325.9 457.8h0M321.7 465.3h0M312.8 468.6h0M297.2 455.3h0M324.6 459.8h0M324.4 458.1h0M305.7 479.1h0M328.4 444.0h0M291.2 500.3h0M324.5 456.4h0M307.5 476.6h0M303.0 461.5h0M323.9 454.0h0M291.9 480.9h0M293.9 498.4h0M304.8 452.2h0M309.7 477.0h0M312.8 444.8h0M328.4 461.2h0M314.9 443.7h0M327.0 455.1h0M311.4 473.5h0M298.3 490.8h0M317.0 442.4h0M321.5 453.9h0M300.6 495.2h0M290.5 442.7h0M312.9 443.3h0M303.1 490.8h0M288.9 475.6h0M316.0 438.1h0M289.2 501.4h0M316.1 477.4h0M316.9 468.0h0M322.4 454.8h0M326.0 452.6h0M307.9 454.7h0M292.5 463.3h0M298.3 502.0h0M296.6 467.3h0M316.3 470.9h0M324.0 463.2h0M322.5 452.4h0M321.7 453.6h0M327.5 449.0h0M327.2 460.6h0M293.0 460.6h0M301.5 483.3h0M322.0 455.9h0M291.3 500.1h0M305.5 457.7h0M306.1 439.1h0M299.9 498.7h0M321.3 460.6h0M282.8 484.9h0M326.3 447.1h0M327.6 457.1h0M302.3 489.6h0M322.3 453.2h0M305.2 458.7h0M325.4 450.8h0M326.0 459.7h0M323.8 453.0h0M292.7 474.2h0M297.7 498.9h0M312.6 468.1h0M324.5 465.1h0M299.7 500.4h0M300.8 494.0h0M323.5 469.4h0M291.4 479.7h0M300.0 462.5h0M328.1 465.3h0M303.0 488.9h0M320.1 456.2h0M322.4 454.6h0M328.8 454.4h0M289.5 478.9h0M310.1 476.8h0M314.6 442.9h0M316.1 442.1h0M326.5 454.2h0M284.9 476.7h0M294.1 494.2h0M314.0 466.6h0M313.1 475.8h0M287.2 479.2h0M283.7 486.3h0M324.2 459.4h0M324.3 452.1h0M314.6 437.0h0M306.6 453.8h0M291.3 477.6h0M312.3 467.4h0M320.1 466.3h0M309.6 447.5h0M291.2 471.1h0M294.1 471.5h0M304.0 457.2h0M317.6 465.0h0M317.0 466.4h0M324.5 450.7h0M316.8 460.7h0M307.6 446.9h0M319.1 460.8h0M304.1 461.4h0M290.1 477.1h0M322.9 471.3h0M323.7 461.0h0M289.3 467.8h0M282.5 492.8h0M308.0 453.7h0M298.1 498.2h0M324.4 463.5h0M317.1 479.4h0M302.0 487.6h0M325.7 458.3h0M319.6 438.2h0M294.2 497.9h0M321.6 435.1h0M309.4 449.3h0M306.2 444.2h0M324.3 461.7h0M316.1 439.3h0M322.2 457.4h0M290.4 475.6h0M310.4 451.1h0M289.4 500.8h0M308.6 477.5h0M285.8 485.0h0M289.0 472.7h0M319.3 458.8h0M295.9 496.5h0M290.3 480.6h0M308.5 450.7h0M291.0 473.9h0M304.5 482.7h0M320.1 465.0h0M327.3 449.0h0M326.9 449.6h0M324.3 455.6h0M286.2 487.2h0M306.5 439.0h0M314.8 466.9h0M322.9 460.7h0M310.4 448.9h0M318.2 459.4h0M304.5 462.2h0M324.4 458.0h0M314.0 473.0h0M292.6 475.7h0M296.0 475.2h0M323.2 451.9h0M303.3 482.3h0M302.9 459.9h0M316.9 440.9h0M294.0 477.0h0M292.0 479.6h0M310.9 443.3h0M311.3 477.6h0M293.3 499.3h0M321.2 462.6h0M311.5 472.8h0M303.5 457.2h0M321.0 470.7h0M312.5 444.4h0M310.3 471.9h0M282.7 488.8h0M304.3 481.0h0M299.5 468.9h0M301.5 456.4h0M328.1 444.8h0M305.4 478.5h0M319.0 462.4h0M316.1 473.2h0M320.1 456.0h0M322.0 434.9h0M328.8 452.5h0M283.7 487.2h0M323.9 452.6h0M306.1 452.7h0M312.8 477.3h0M301.2 465.3h0M291.4 498.4h0M292.6 471.5h0M294.5 495.0h0M296.6 496.7h0M310.2 472.5h0M323.9 473.3h0M322.2 457.4h0M310.9 475.3h0M310.3 447.7h0M318.8 460.9h0M304.8 487.4h0M285.9 482.4h0M286.3 486.1h0M311.8 474.7h0M298.0 497.0h0M315.5 441.4h0M292.4 475.1h0M285.5 486.2h0M324.2 455.8h0M293.1 501.9h0M304.6 487.0h0M301.9 466.0h0M303.7 448.2h0M328.5 472.8h0M326.6 454.7h0M292.0 498.2h0M304.6 462.6h0M327.4 450.8h0M327.0 451.0h0M315.1 464.4h0M303.9 460.0h0M300.4 459.6h0M327.6 445.5h0M320.4 455.8h0M322.0 436.8h0M290.6 473.4h0M294.4 477.0h0M311.3 477.2h0M327.5 458.9h0M310.8 447.6h0M327.8 457.2h0M290.2 481.3h0M328.5 450.5h0M315.6 445.4h0M294.8 496.4h0M318.3 439.4h0M314.6 467.2h0M305.9 484.1h0M285.9 488.9h0M302.3 485.6h0M318.5 473.1h0M302.6 461.1h0M307.5 475.8h0M311.5 473.5h0M321.6 454.6h0M307.9 487.6h0M321.5 455.5h0M327.8 458.5h0M328.1 450.2h0M284.9 488.6h0M295.9 475.2h0M325.4 451.9h0M320.9 465.0h0M286.2 487.3h0M307.5 448.8h0M296.8 490.4h0M319.2 458.3h0M301.3 484.9h0M323.9 455.0h0M308.1 455.0h0M300.7 484.7h0M306.4 482.4h0M309.4 473.2h0M323.0 462.8h0M293.4 496.5h0M311.8 447.8h0M308.3 446.3h0M296.6 471.7h0M298.6 440.5h0M308.2 473.6h0M325.8 448.3h0M327.2 465.8h0M319.2 461.2h0M327.2 451.3h0M306.7 453.8h0M328.1 444.2h0M311.4 444.6h0M315.0 438.9h0M318.4 463.3h0M318.6 439.7h0M319.0 460.3h0M290.0 473.1h0M315.5 468.8h0M299.8 497.4h0M304.9 458.7h0M286.5 482.6h0M327.7 448.0h0M296.4 464.8h0M295.8 468.4h0M292.8 478.4h0M327.8 445.5h0M282.5 489.1h0M320.1 435.2h0M309.9 440.0h0M312.0 449.8h0M325.7 453.3h0M304.9 449.3h0M306.2 487.9h0M318.6 462.9h0M327.9 446.8h0M325.7 468.0h0M326.9 449.0h0M325.9 449.0h0M318.0 475.1h0M326.6 461.0h0M310.2 441.4h0M319.0 439.7h0M303.6 457.6h0M303.3 451.3h0M323.8 454.5h0M326.2 459.6h0M325.5 449.0h0M310.0 474.3h0M287.2 476.3h0M287.3 480.3h0M322.1 455.8h0M321.9 464.2h0M283.0 494.1h0M322.5 458.4h0M287.8 481.0h0M301.7 465.2h0M316.8 440.9h0M292.9 498.1h0M298.7 489.5h0M323.5 450.9h0M312.1 440.4h0M327.4 469.1h0M285.5 489.2h0M288.2 481.2h0M328.7 443.5h0M325.3 451.6h0M298.9 462.0h0M318.2 437.6h0M282.9 490.1h0M319.9 459.9h0M327.7 449.4h0M303.8 452.7h0M326.5 463.5h0M295.2 472.3h0M296.9 471.2h0M327.1 446.6h0M320.4 470.5h0M312.9 473.5h0M324.6 451.4h0M282.8 487.1h0M292.7 473.1h0M295.0 472.7h0M289.6 476.9h0M290.7 473.7h0M327.4 461.3h0M327.3 446.0h0M325.7 453.0h0M326.6 459.7h0M321.7 435.1h0M319.7 479.9h0M316.4 462.4h0M327.3 453.4h0M317.9 462.4h0M295.3 496.6h0M319.3 472.0h0M298.2 467.1h0M301.7 494.4h0M326.1 463.5h0M327.1 476.5h0M324.1 453.2h0M319.6 436.1h0M291.1 464.9h0M283.5 491.3h0M321.0 462.4h0M324.2 454.8h0M319.5 464.2h0M297.1 471.5h0M291.1 481.6h0M326.3 451.0h0M310.8 445.0h0M305.1 479.5h0M285.2 480.9h0M296.5 493.4h0M314.2 440.4h0M316.6 463.0h0M320.2 462.4h0M284.4 485.8h0M284.8 474.5h0M316.5 445.3h0M289.7 470.5h0M322.8 463.8h0M291.0 482.6h0M309.2 501.7h0M299.8 460.8h0M313.9 468.0h0M324.9 451.2h0M297.0 502.0h0M290.2 482.6h0M328.1 469.9h0M288.8 483.3h0M303.4 480.5h0M320.1 464.3h0M326.7 447.7h0M322.0 462.0h0M297.9 493.1h0M304.7 493.5h0M310.7 475.7h0M318.1 486.6h0M295.3 473.2h0M309.7 482.8h0M312.0 479.0h0M316.4 461.3h0M290.5 477.0h0M317.1 461.1h0M319.8 462.9h0M296.9 471.3h0M320.0 440.0h0M300.5 486.8h0M302.0 494.0h0M296.1 471.7h0M320.7 465.2h0M303.5 455.3h0M325.0 466.0h0M291.6 463.5h0M308.2 475.8h0M301.1 452.8h0M321.8 459.3h0M314.7 444.7h0M320.4 469.3h0M308.9 451.3h0M295.0 493.2h0M319.5 457.0h0M310.5 453.0h0M298.1 470.0h0M298.7 488.6h0M283.4 490.1h0M312.5 470.9h0M305.2 484.4h0M321.9 462.7h0M310.4 450.4h0M319.8 465.1h0M308.1 477.0h0M286.8 486.0h0M308.7 479.5h0M306.1 480.3h0M308.2 450.1h0M319.1 462.9h0M305.8 489.1h0M314.3 442.4h0M303.9 457.6h0M306.7 479.6h0M325.0 457.3h0M320.5 463.3h0M317.5 488.9h0M284.3 488.3h0M291.2 464.7h0M327.5 458.8h0M292.2 499.1h0M308.5 449.2h0M323.9 466.3h0M327.9 448.5h0M319.2 438.1h0M317.0 461.7h0M292.7 501.5h0M327.8 469.1h0M326.6 450.6h0M305.5 449.5h0M305.7 479.1h0M284.9 479.0h0M303.1 460.6h0M308.0 452.8h0M316.7 441.7h0M324.9 463.0h0M312.5 447.7h0M288.7 465.9h0M327.6 450.7h0M288.3 477.8h0M288.3 480.2h0M297.2 499.7h0M323.0 462.7h0M301.4 465.1h0M292.1 478.5h0M323.3 467.5h0M312.2 473.5h0M288.7 483.0h0M286.5 486.7h0M298.3 489.2h0M325.2 448.5h0M313.5 475.2h0M296.4 469.3h0M315.0 477.9h0M323.8 471.3h0M319.1 469.7h0M310.3 491.8h0M294.4 476.0h0M326.5 460.0h0M320.1 459.3h0M284.2 489.0h0M291.2 481.2h0M303.5 480.9h0M300.0 496.1h0M328.0 446.6h0M320.8 459.5h0M297.3 442.6h0M304.6 483.8h0M284.6 481.9h0M311.3 452.9h0M311.6 470.3h0M306.3 479.2h0M307.4 450.2h0M290.3 471.4h0M323.5 455.1h0M309.4 442.9h0M318.7 458.5h0M290.9 482.8h0M305.1 488.2h0M298.7 470.0h0M302.0 483.9h0M288.9 480.0h0M326.8 453.0h0M327.4 447.1h0M317.9 462.2h0M290.3 473.5h0M313.9 468.7h0M294.8 494.2h0M314.0 467.5h0M323.7 453.9h0M321.9 461.6h0M307.7 476.5h0M324.6 457.0h0M301.8 497.4h0M315.8 487.0h0M297.8 468.3h0M299.8 454.4h0M291.3 482.0h0M328.5 444.1h0M328.7 444.6h0M305.2 446.9h0M306.2 490.6h0M312.1 470.0h0M312.7 449.9h0M311.2 474.5h0M310.2 445.1h0M303.5 450.3h0M310.4 475.6h0M305.6 447.1h0M289.2 480.2h0M317.5 441.7h0M309.8 443.3h0M326.5 454.8h0M292.2 477.4h0M321.5 455.9h0M309.7 471.8h0M286.4 474.2h0M305.2 477.8h0M302.1 488.2h0M323.6 463.2h0M312.7 478.1h0M287.6 480.5h0M289.8 478.5h0M315.3 439.1h0M320.2 456.3h0M282.8 477.6h0M326.2 451.5h0M313.1 446.8h0M288.9 475.3h0M313.8 447.2h0M300.8 488.9h0M285.8 481.7h0M304.6 450.3h0M283.1 477.5h0M320.2 472.6h0M317.0 474.5h0M324.4 450.5h0M324.9 464.2h0M322.3 460.1h0M311.0 452.3h0M319.6 462.2h0M298.9 465.4h0M308.5 476.1h0M317.2 435.0h0M321.6 455.7h0M318.4 470.9h0M320.1 461.4h0M311.3 468.9h0M296.9 468.7h0M328.0 450.1h0M298.4 469.5h0M284.3 481.4h0M290.5 500.9h0M301.1 461.1h0M303.4 482.1h0M306.2 452.6h0M328.3 447.6h0M325.6 452.5h0M303.0 487.7h0M314.6 466.4h0M326.1 458.3h0M295.3 494.3h0M288.5 470.1h0M306.9 455.7h0M314.1 474.4h0M328.6 445.3h0M322.2 435.7h0M325.8 462.5h0M301.2 464.9h0M296.7 497.6h0M328.3 447.9h0M288.8 502.6h0M326.7 452.5h0M312.7 478.5h0M297.3 499.7h0M289.3 501.1h0M323.4 467.9h0M314.9 473.4h0M323.2 453.1h0M318.0 436.1h0M303.2 464.0h0M327.8 456.5h0M297.0 472.5h0M324.6 450.7h0M298.9 487.4h0M325.6 464.5h0M313.9 473.8h0M325.1 473.0h0M328.1 466.2h0M320.5 438.4h0M328.6 455.9h0M327.8 447.7h0M328.7 454.6h0M318.1 436.7h0M291.9 474.1h0M316.1 441.0h0M316.8 443.3h0M288.2 485.9h0M315.0 464.8h0M323.5 453.5h0M317.4 440.1h0M287.4 479.1h0M315.0 464.1h0M295.3 493.2h0M301.1 491.2h0M299.8 463.3h0M314.6 443.5h0M305.6 477.7h0M284.8 488.7h0M323.9 460.5h0M289.9 502.7h0M299.5 464.6h0M289.5 476.4h0M294.3 466.7h0M293.1 499.6h0M311.1 447.2h0M303.5 462.3h0M311.3 441.4h0M289.5 483.1h0M310.1 472.9h0M317.9 439.4h0M319.8 456.4h0M324.9 449.1h0M308.8 445.0h0M298.3 493.0h0M310.2 452.5h0M303.8 482.9h0M304.9 480.3h0M286.0 474.6h0M290.1 482.5h0M319.3 437.4h0M325.1 461.1h0M307.9 481.1h0M301.9 489.5h0M326.0 458.7h0M326.5 449.0h0M314.5 470.9h0M304.9 487.2h0" stroke="#cccccc" stroke-width="2.2" stroke-linecap="round" fill="none"/>
<path d="M325.7 464.6h0M309.0 486.2h0M311.7 476.8h0M317.7 436.7h0M327.6 459.6h0M311.5 444.0h0M294.8 443.1h0M305.9 489.6h0M323.7 472.4h0M316.3 463.8h0M328.0 470.2h0M307.5 483.7h0M325.6 447.9h0M318.5 473.4h0M312.4 485.9h0M320.9 494.6h0M309.6 487.8h0M290.3 480.2h0M313.5 485.4h0M312.9 438.6h0M294.7 498.4h0M300.5 464.7h0M319.4 500.1h0M325.6 461.3h0M311.7 470.6h0M299.2 458.6h0M305.1 477.7h0M322.4 461.8h0M319.2 465.5h0M321.7 465.6h0M319.6 457.4h0M318.2 474.5h0M297.8 463.9h0M319.9 468.7h0M294.1 473.1h0M302.5 464.7h0M313.2 491.9h0M301.2 455.8h0M310.5 479.5h0M297.0 470.5h0M319.1 457.9h0M300.1 497.6h0M289.8 500.8h0M304.3 482.3h0M298.1 492.5h0M306.7 449.4h0M310.8 479.3h0M312.2 469.4h0M324.4 482.2h0M328.0 450.8h0M306.5 459.3h0M316.0 469.6h0M320.8 463.7h0M316.0 483.0h0" stroke="#3a86ee" stroke-width="2.20" stroke-linecap="round" fill="none"/>
<rect x="280.40" y="431.50" width="51.00" height="73.50" fill="none" stroke="#111" stroke-width="1.15"/>
<line x1="277.80" y1="502.80" x2="280.40" y2="502.80" stroke="#111" stroke-width="0.8"/>
<line x1="282.40" y1="505.00" x2="282.40" y2="507.80" stroke="#111" stroke-width="0.8"/>
<line x1="277.80" y1="485.80" x2="280.40" y2="485.80" stroke="#111" stroke-width="0.8"/>
<line x1="294.00" y1="505.00" x2="294.00" y2="507.80" stroke="#111" stroke-width="0.8"/>
<line x1="277.80" y1="468.80" x2="280.40" y2="468.80" stroke="#111" stroke-width="0.8"/>
<line x1="305.60" y1="505.00" x2="305.60" y2="507.80" stroke="#111" stroke-width="0.8"/>
<line x1="277.80" y1="451.80" x2="280.40" y2="451.80" stroke="#111" stroke-width="0.8"/>
<line x1="317.20" y1="505.00" x2="317.20" y2="507.80" stroke="#111" stroke-width="0.8"/>
<line x1="277.80" y1="434.80" x2="280.40" y2="434.80" stroke="#111" stroke-width="0.8"/>
<line x1="328.80" y1="505.00" x2="328.80" y2="507.80" stroke="#111" stroke-width="0.8"/>
<text x="305.90" y="427.80" font-size="7.7" text-anchor="middle">RI</text>
<path d="M359.5 477.0h0M348.2 486.2h0M377.8 444.8h0M347.2 484.3h0M379.1 487.4h0M376.1 482.6h0M358.2 466.9h0M358.7 466.9h0M354.2 454.7h0M376.0 489.0h0M354.8 463.9h0M390.3 464.6h0M352.2 464.9h0M357.4 478.7h0M361.2 471.8h0M352.0 475.2h0M361.1 468.5h0M391.3 478.7h0M374.1 454.8h0M357.7 476.8h0M356.2 499.6h0M370.8 460.2h0M351.2 479.4h0M362.4 440.6h0M373.6 486.2h0M374.8 437.9h0M391.8 490.9h0M392.7 447.9h0M355.2 473.6h0M376.3 476.8h0M354.3 479.2h0M364.2 486.3h0M372.6 452.7h0M382.3 436.7h0M392.2 459.6h0M350.9 489.1h0M390.5 451.9h0M370.8 500.7h0M358.2 471.6h0M358.7 475.3h0M381.3 487.7h0M360.2 497.3h0M360.7 496.2h0M361.8 473.1h0M373.5 493.9h0M364.3 465.3h0M356.6 471.6h0M391.8 448.1h0M352.3 436.6h0M380.7 464.4h0M376.1 444.0h0M356.1 475.5h0M377.0 443.3h0M362.5 463.9h0M359.4 443.1h0M373.5 474.1h0M363.3 496.4h0M368.7 462.7h0M370.5 489.6h0M349.2 489.9h0M379.9 445.7h0M360.2 458.3h0M356.2 470.3h0M386.6 477.6h0M380.5 462.1h0M362.4 462.7h0M387.6 457.3h0M391.2 462.8h0M356.9 480.5h0M360.2 497.1h0M351.4 488.2h0M388.3 472.4h0M358.6 499.0h0M353.9 459.2h0M371.9 449.9h0M380.9 463.8h0M392.6 470.2h0M390.7 452.3h0M361.2 453.8h0M349.2 457.8h0M350.6 486.6h0M364.3 458.8h0M359.6 470.2h0M372.1 483.7h0M360.2 499.1h0M390.2 447.9h0M377.1 451.2h0M383.1 473.4h0M377.0 485.9h0M367.4 482.5h0M385.5 494.6h0M359.2 473.4h0M354.0 482.8h0M365.4 457.8h0M355.8 455.4h0M353.8 484.0h0M362.2 458.2h0M362.4 470.8h0M355.6 474.3h0M368.2 460.6h0M347.7 494.0h0M352.9 474.0h0M355.0 480.8h0M374.2 487.8h0M351.7 458.5h0M348.7 486.0h0M354.9 480.2h0M378.1 485.4h0M355.5 480.2h0M354.3 481.2h0M357.8 473.0h0M350.4 485.7h0M374.8 449.9h0M377.5 438.6h0M356.3 479.5h0M354.6 449.2h0M348.9 484.3h0M379.3 497.1h0M367.0 463.1h0M359.7 476.5h0M348.1 461.6h0M376.3 484.2h0M372.1 483.5h0M359.3 498.4h0M365.1 464.7h0M390.3 456.7h0M384.0 500.1h0M390.2 461.3h0M364.2 453.4h0M390.5 475.2h0M352.0 477.2h0M361.8 455.3h0M376.3 470.6h0M362.9 490.8h0M386.1 453.9h0M363.8 458.6h0M365.2 495.2h0M355.1 442.7h0M357.6 460.6h0M366.1 483.3h0M347.4 484.9h0M389.1 465.1h0M364.3 500.4h0M364.6 462.5h0M358.7 494.2h0M351.8 479.2h0M369.7 477.7h0M353.9 467.8h0M347.1 492.8h0M362.7 498.2h0M380.7 439.3h0M387.0 461.8h0M383.8 465.5h0M386.3 465.6h0M356.6 479.6h0M357.9 499.3h0M347.3 488.8h0M348.3 487.2h0M365.8 465.3h0M374.9 447.7h0M350.9 486.1h0M369.2 487.0h0M384.2 457.4h0M382.8 474.5h0M362.4 463.9h0M375.4 447.6h0M354.8 481.3h0M359.4 496.4h0M349.5 488.6h0M350.8 487.3h0M384.5 468.7h0M365.3 484.7h0M371.0 482.4h0M374.0 473.2h0M361.2 471.7h0M358.7 473.1h0M361.0 464.8h0M374.5 440.0h0M367.1 464.7h0M347.6 494.1h0M366.3 465.2h0M377.8 491.9h0M363.5 462.0h0M347.5 490.1h0M354.2 476.9h0M365.8 455.8h0M391.9 446.0h0M366.3 494.4h0M375.1 479.5h0M355.7 464.9h0M361.6 470.5h0M361.7 471.5h0M349.8 480.9h0M383.7 457.9h0M349.0 485.8h0M354.3 470.5h0M373.8 501.7h0M364.4 460.8h0M364.7 497.6h0M382.7 486.6h0M374.3 482.8h0M354.4 500.8h0M359.6 493.2h0M369.8 484.4h0M368.9 482.3h0M382.1 488.9h0M348.9 488.3h0M362.7 492.5h0M370.1 449.5h0M353.3 465.9h0M356.7 478.5h0M371.3 449.4h0M375.4 479.3h0M389.8 448.5h0M361.0 469.3h0M374.9 491.8h0M384.7 459.3h0M348.8 489.0h0M361.9 442.6h0M354.9 471.4h0M376.8 469.4h0M389.0 482.2h0M362.4 468.3h0M370.8 490.6h0M392.6 450.8h0M347.4 477.6h0M350.4 481.7h0M347.7 477.5h0M353.1 470.1h0M371.1 459.3h0M382.6 436.1h0M361.6 472.5h0M380.6 469.6h0M385.4 463.7h0M356.5 474.1h0M380.6 483.0h0M359.9 493.2h0M364.4 463.3h0M357.7 499.6h0M368.1 462.3h0M354.1 483.1h0M390.6 458.7h0" stroke="#cccccc" stroke-width="2.2" stroke-linecap="round" fill="none"/>
<path d="M379.6 465.3h0M391.8 449.8h0M387.6 435.1h0M382.6 435.4h0M375.0 446.4h0M390.3 449.6h0M367.9 482.5h0M367.0 456.8h0M380.6 465.8h0M387.3 457.7h0M354.4 478.2h0M385.7 456.3h0M350.7 489.8h0M370.8 478.6h0M375.8 448.2h0M372.6 452.8h0M368.8 463.0h0M387.3 456.5h0M380.9 443.6h0M383.7 468.8h0M381.8 460.4h0M347.3 488.5h0M360.2 493.8h0M366.5 502.6h0M362.0 501.6h0M392.4 448.5h0M375.0 475.9h0M373.1 474.1h0M367.9 463.3h0M391.8 458.2h0M381.2 467.8h0M359.2 502.3h0M389.9 460.8h0M373.2 455.9h0M366.5 448.3h0M389.8 450.8h0M351.4 484.2h0M383.1 441.6h0M388.4 452.9h0M383.7 464.3h0M354.2 446.1h0M390.3 451.8h0M386.1 435.6h0M380.7 440.3h0M379.0 468.7h0M378.9 446.1h0M389.7 453.3h0M384.6 465.7h0M388.2 453.2h0M356.1 474.0h0M375.3 471.4h0M366.3 449.3h0M379.5 441.7h0M381.6 440.6h0M378.9 441.9h0M363.8 490.5h0M392.6 452.3h0M377.9 441.9h0M386.9 460.6h0M379.0 442.7h0M370.8 476.1h0M369.0 453.6h0M368.3 455.5h0M377.8 475.2h0M361.4 466.6h0M371.2 491.0h0M386.1 459.3h0M378.9 447.8h0M375.1 473.7h0M380.0 463.2h0M367.6 456.9h0M372.5 480.3h0M352.5 464.4h0M357.1 468.6h0M381.0 462.3h0M382.2 443.6h0M361.8 491.0h0M355.1 481.1h0M379.5 466.2h0M386.5 471.6h0M365.9 493.7h0M393.2 446.0h0M392.9 451.4h0M359.5 470.6h0M387.3 460.4h0M360.9 501.1h0M382.4 442.8h0M378.1 465.7h0M364.8 466.4h0M360.4 498.0h0M391.0 448.2h0M361.9 489.2h0M392.0 445.1h0M373.4 455.1h0M370.2 479.2h0M368.6 460.4h0M363.6 466.2h0M385.3 438.8h0M383.7 469.9h0M378.3 474.0h0M392.4 469.6h0M371.7 479.9h0M383.1 467.4h0M383.9 462.9h0M377.7 447.5h0M375.3 442.1h0M370.9 459.9h0M378.2 439.3h0M376.5 473.8h0M370.8 457.3h0M370.5 454.5h0M378.5 445.4h0M359.6 467.2h0M350.6 484.1h0M377.1 469.0h0M371.1 479.6h0M357.6 477.2h0M391.4 452.8h0M348.5 487.2h0M368.5 460.7h0M356.6 476.6h0M359.9 452.5h0M384.6 472.7h0M353.1 476.7h0M390.0 450.0h0M366.0 462.9h0M367.1 485.8h0M380.3 470.7h0M393.1 445.6h0M375.2 470.4h0M393.1 447.3h0M383.3 438.7h0M369.2 456.5h0M384.2 460.4h0M388.9 467.6h0M364.7 459.1h0M392.1 445.3h0M386.9 454.2h0M379.5 463.9h0M376.2 470.0h0M383.9 472.8h0M386.0 454.0h0M355.7 499.9h0M374.4 483.0h0M391.3 466.9h0M366.2 467.1h0M359.8 492.6h0M392.1 454.4h0M389.4 459.8h0M371.7 454.0h0M386.8 455.2h0M352.8 482.9h0M370.2 458.3h0M367.7 481.3h0M386.9 467.5h0M366.4 491.6h0M359.0 477.3h0M388.1 464.1h0M379.3 473.7h0M359.9 500.5h0M388.6 458.8h0M355.6 477.1h0M362.1 491.6h0M388.3 450.6h0M358.5 470.4h0M358.9 472.3h0M385.1 437.5h0M383.3 439.7h0M381.3 464.4h0M382.1 463.0h0M371.5 479.4h0M367.3 463.4h0M375.3 469.9h0M386.0 454.8h0M385.7 436.9h0M382.5 474.0h0M388.9 459.2h0M385.0 438.8h0M374.3 473.9h0M378.0 474.6h0M378.9 467.6h0M392.1 448.1h0M392.7 455.5h0M388.7 454.5h0M388.7 452.2h0M362.3 499.7h0M349.3 488.4h0M355.5 464.4h0M368.7 493.3h0M374.4 445.6h0M393.0 443.8h0M379.3 438.9h0M391.3 456.3h0M388.2 453.3h0M375.0 477.4h0M390.4 467.7h0M363.4 469.4h0M381.6 463.8h0M376.8 451.4h0M391.7 447.4h0M388.6 463.6h0M388.2 460.1h0M388.0 453.3h0M380.7 469.0h0M388.7 453.6h0M374.6 473.5h0M363.9 462.0h0M386.8 475.1h0M390.7 449.6h0M382.7 437.7h0M377.5 467.3h0M380.0 442.8h0M367.3 464.2h0M383.4 464.9h0M364.7 491.0h0M385.0 477.2h0M378.3 478.5h0M382.8 468.8h0M372.6 450.0h0M368.0 463.7h0M377.7 445.0h0M367.9 490.8h0M376.0 448.1h0M373.4 454.6h0M377.7 440.7h0M383.8 458.3h0M360.2 458.9h0M370.9 477.9h0M384.9 464.1h0M381.0 435.1h0M357.8 471.3h0M367.4 483.1h0M350.5 488.6h0M351.2 484.9h0M387.0 435.7h0M379.2 442.3h0M389.7 451.2h0M371.0 456.0h0M353.0 468.8h0M364.9 486.1h0M372.5 451.5h0M383.7 459.2h0M351.7 487.1h0M391.0 447.1h0M387.7 458.3h0M376.7 468.6h0M373.4 477.7h0M391.1 447.5h0M381.6 442.4h0M354.9 481.5h0M364.5 492.7h0M385.0 465.7h0M385.4 437.4h0M365.1 489.4h0M385.0 460.2h0M365.4 461.0h0M381.2 479.4h0M383.2 441.4h0M361.1 492.7h0M393.1 445.2h0M383.6 463.2h0M386.8 457.9h0M356.9 502.7h0M375.1 478.5h0M362.6 467.3h0M357.0 496.9h0M380.6 437.3h0M383.9 436.5h0M383.5 468.5h0M389.8 458.1h0M373.8 471.9h0M353.4 482.9h0M391.7 450.4h0M380.1 465.4h0M362.3 490.9h0M383.7 436.9h0M367.2 491.8h0M387.3 466.0h0M359.3 499.6h0M384.8 458.8h0M386.8 464.6h0M373.7 498.6h0M350.3 481.8h0M361.4 490.1h0M360.4 473.6h0M355.5 480.4h0M358.1 476.7h0M376.0 447.7h0M392.7 454.2h0M381.1 475.9h0M375.1 481.8h0M366.2 465.8h0M391.3 447.5h0M360.5 493.8h0M372.6 473.9h0M373.4 446.6h0M380.6 468.0h0M356.4 497.8h0M361.2 448.8h0M365.8 452.7h0M379.4 442.0h0M387.8 452.1h0M377.1 470.6h0M378.1 475.5h0M391.0 473.9h0M389.4 455.4h0M366.2 466.9h0M368.2 484.4h0M391.6 447.0h0M358.5 475.6h0M361.4 470.2h0M357.5 496.2h0M378.4 441.6h0M372.9 453.7h0M376.9 475.3h0M389.4 449.1h0M377.5 443.7h0M366.6 487.2h0M352.7 470.7h0M392.9 452.9h0M352.3 472.2h0M384.3 463.5h0M370.5 460.0h0M388.3 457.5h0M374.4 446.9h0M358.1 502.0h0M356.9 466.3h0M361.7 492.7h0M356.0 501.3h0M374.8 452.7h0M368.8 479.6h0M369.4 491.2h0M368.4 445.2h0M386.5 454.3h0M381.4 443.9h0M370.5 482.5h0M388.8 461.3h0M385.4 462.0h0M347.3 490.5h0M375.8 449.2h0M371.8 485.1h0M376.6 446.3h0M380.0 463.2h0M389.0 452.2h0M380.1 465.8h0M381.7 465.0h0M380.9 441.7h0M376.4 449.3h0M357.6 476.9h0M381.1 470.9h0M377.4 469.3h0M381.4 443.4h0M349.9 489.0h0M358.6 496.4h0M359.6 463.5h0M381.5 443.9h0M357.7 475.9h0M361.6 499.0h0M376.3 475.6h0M381.1 472.2h0M378.0 466.4h0M391.7 445.5h0M359.3 493.0h0M382.9 468.2h0M363.8 489.5h0M373.7 477.8h0M357.3 496.3h0M392.4 452.1h0M349.1 491.9h0M371.2 482.2h0M378.4 471.5h0M388.4 458.8h0M367.4 462.7h0M370.0 485.2h0M363.5 468.1h0M373.3 454.4h0M351.9 484.5h0M358.6 472.5h0M384.9 465.5h0M391.4 451.3h0M363.3 466.5h0M368.5 452.5h0M356.2 477.0h0M361.7 467.4h0M376.7 450.1h0M380.5 468.0h0M377.4 472.1h0M349.8 484.3h0M351.6 477.0h0M353.9 480.0h0M385.4 473.3h0M390.0 467.7h0M389.1 451.4h0M381.7 442.4h0M347.9 487.9h0M349.8 489.3h0M380.9 440.9h0M365.9 484.0h0M391.8 451.8h0M350.7 474.3h0M379.5 469.2h0M383.6 470.4h0M362.4 463.2h0M378.2 443.5h0M393.2 451.7h0M354.9 478.9h0M347.1 480.9h0M365.6 492.8h0M382.5 467.8h0M355.6 478.4h0M377.3 441.1h0M390.9 446.7h0M372.2 447.4h0M363.3 489.4h0M355.8 480.5h0M375.8 473.4h0M370.6 479.7h0M369.6 483.5h0M390.6 448.9h0M364.7 493.8h0M363.6 488.6h0M351.5 485.4h0M387.9 460.1h0M363.1 469.6h0M373.0 438.9h0M392.9 454.2h0M385.3 467.7h0M379.7 471.4h0M360.6 500.3h0M357.3 476.0h0M381.6 444.0h0M390.6 451.1h0M392.6 444.7h0M371.0 476.7h0M368.7 451.2h0M383.5 464.9h0M392.1 446.9h0M389.5 453.3h0M364.2 458.8h0M374.5 478.1h0M372.3 457.1h0M378.4 444.4h0M388.1 458.6h0M387.0 453.8h0M374.1 452.8h0M376.8 475.0h0M365.0 484.8h0M371.1 488.2h0M388.0 470.1h0M385.6 462.1h0M376.3 472.5h0M391.8 450.7h0M392.6 452.0h0M354.5 477.9h0M381.9 440.7h0M374.8 480.0h0M388.4 450.8h0M387.6 466.5h0M374.1 453.0h0M380.2 439.9h0M364.1 468.0h0M348.0 482.3h0M375.2 485.5h0M371.0 481.5h0M369.4 455.0h0M380.9 444.0h0M367.0 486.3h0M387.2 453.0h0M365.8 461.5h0M355.5 502.8h0M372.5 453.7h0M369.9 479.3h0M373.6 481.9h0M388.8 453.7h0M361.4 501.1h0M371.6 454.3h0M387.7 475.5h0M391.1 447.1h0M371.7 447.7h0M362.9 491.8h0M378.0 470.9h0M388.8 457.3h0M381.5 438.1h0M369.0 454.8h0M391.5 449.8h0M381.8 438.7h0M364.2 491.3h0M368.6 483.9h0M392.3 449.2h0M370.3 445.5h0M357.2 477.8h0M363.1 488.9h0M377.7 467.2h0M356.1 472.6h0M369.2 485.4h0M353.9 482.6h0M367.8 458.2h0M370.3 460.7h0M387.1 458.9h0M374.7 481.2h0M392.3 448.6h0M356.2 473.0h0M377.1 444.4h0M381.3 463.7h0M357.8 474.0h0M388.6 467.5h0M383.1 436.3h0M390.8 463.0h0M392.4 463.8h0M388.8 454.3h0M352.7 482.1h0M363.4 493.0h0M360.8 465.0h0M362.6 501.2h0M347.0 490.1h0M362.0 467.1h0M348.7 490.9h0M373.1 454.6h0M391.6 457.8h0M370.0 450.2h0M370.5 476.8h0M389.3 451.8h0M347.9 489.8h0M371.9 477.9h0M370.6 478.0h0M384.6 466.5h0M359.7 502.7h0M385.7 466.9h0M381.8 462.4h0M384.6 469.3h0M388.9 454.7h0M376.1 451.3h0M377.9 436.8h0M382.5 442.6h0M365.5 467.0h0M355.9 471.2h0M386.1 456.9h0M390.4 449.0h0M374.7 472.3h0M348.3 492.2h0M388.0 462.0h0M385.4 466.1h0M361.4 498.0h0M384.3 465.7h0M392.5 451.6h0M358.7 501.4h0M387.0 436.6h0M362.1 466.1h0M388.2 457.2h0M384.9 459.2h0M361.1 492.7h0M355.7 500.6h0M356.9 477.2h0M347.1 482.1h0M382.2 442.8h0M370.2 479.6h0M390.5 458.5h0M357.4 466.0h0M358.1 501.7h0M381.6 443.5h0M363.6 487.8h0M348.5 481.2h0M383.5 440.5h0M389.6 456.6h0M351.1 481.8h0M358.0 469.7h0M377.3 440.5h0M368.1 455.4h0M362.8 470.9h0M351.8 488.1h0M368.3 463.3h0M366.2 484.8h0M363.2 493.8h0M390.5 457.4h0M389.5 449.8h0M370.5 479.1h0M384.9 460.4h0M370.5 482.3h0M392.9 448.5h0M361.4 472.4h0M392.4 448.8h0M389.9 454.2h0M374.1 448.8h0M354.4 476.0h0M381.6 462.5h0M368.2 449.7h0M373.3 449.3h0M382.2 436.9h0M382.0 466.9h0M372.9 474.0h0M391.7 455.3h0M374.5 452.6h0M386.5 454.4h0M354.8 475.4h0M387.7 460.0h0M393.3 447.5h0M367.5 461.6h0M389.0 450.1h0M356.1 473.5h0M386.3 458.4h0M366.1 494.3h0M349.2 490.9h0M365.7 463.4h0M366.1 461.0h0M355.0 477.5h0M360.3 468.1h0M364.4 486.2h0M367.8 488.3h0M366.8 483.1h0M373.3 481.0h0M393.1 450.4h0M355.2 479.6h0M357.1 478.7h0M384.1 435.5h0M378.4 443.1h0M379.0 445.9h0M354.1 481.8h0M372.7 455.3h0M390.5 457.8h0M386.3 465.3h0M377.4 468.6h0M389.2 459.8h0M389.0 458.1h0M370.3 479.1h0M393.0 444.0h0M355.8 500.3h0M389.1 456.4h0M372.1 476.6h0M367.6 461.5h0M388.5 454.0h0M356.5 480.9h0M358.5 498.4h0M369.4 452.2h0M374.3 477.0h0M377.4 444.8h0M393.0 461.2h0M379.5 443.7h0M391.6 455.1h0M376.0 473.5h0M381.6 442.4h0M377.5 443.3h0M367.7 490.8h0M353.5 475.6h0M380.6 438.1h0M353.8 501.4h0M380.7 477.4h0M381.5 468.0h0M387.0 454.8h0M390.6 452.6h0M372.5 454.7h0M357.1 463.3h0M362.9 502.0h0M361.2 467.3h0M380.9 470.9h0M388.6 463.2h0M387.1 452.4h0M386.3 453.6h0M392.1 449.0h0M391.8 460.6h0M386.6 455.9h0M355.9 500.1h0M370.1 457.7h0M370.7 439.1h0M364.5 498.7h0M385.9 460.6h0M390.9 447.1h0M392.2 457.1h0M366.9 489.6h0M386.9 453.2h0M369.8 458.7h0M390.0 450.8h0M390.6 459.7h0M388.4 453.0h0M357.3 474.2h0M362.3 498.9h0M377.2 468.1h0M365.4 494.0h0M388.1 469.4h0M356.0 479.7h0M392.7 465.3h0M367.6 488.9h0M384.7 456.2h0M387.0 454.6h0M393.4 454.4h0M354.1 478.9h0M374.7 476.8h0M379.2 442.9h0M380.7 442.1h0M391.1 454.2h0M349.5 476.7h0M378.6 466.6h0M377.7 475.8h0M348.3 486.3h0M388.8 459.4h0M388.9 452.1h0M379.2 437.0h0M371.2 453.8h0M355.9 477.6h0M376.9 467.4h0M384.7 466.3h0M374.2 447.5h0M355.8 471.1h0M358.7 471.5h0M368.6 457.2h0M382.2 465.0h0M381.6 466.4h0M389.1 450.7h0M381.4 460.7h0M372.2 446.9h0M383.7 460.8h0M368.7 461.4h0M354.7 477.1h0M387.5 471.3h0M388.3 461.0h0M372.6 453.7h0M389.0 463.5h0M381.7 479.4h0M366.6 487.6h0M390.3 458.3h0M384.2 438.2h0M358.8 497.9h0M386.2 435.1h0M374.0 449.3h0M370.8 444.2h0M388.9 461.7h0M386.8 457.4h0M355.0 475.6h0M375.0 451.1h0M354.0 500.8h0M373.2 477.5h0M350.4 485.0h0M353.6 472.7h0M383.9 458.8h0M360.5 496.5h0M354.9 480.6h0M373.1 450.7h0M355.6 473.9h0M369.1 482.7h0M384.7 465.0h0M391.9 449.0h0M391.5 449.6h0M388.9 455.6h0M350.8 487.2h0M371.1 439.0h0M379.4 466.9h0M387.5 460.7h0M375.0 448.9h0M382.8 459.4h0M369.1 462.2h0M389.0 458.0h0M378.6 473.0h0M357.2 475.7h0M360.6 475.2h0M387.8 451.9h0M367.9 482.3h0M367.5 459.9h0M381.5 440.9h0M358.6 477.0h0M375.5 443.3h0M375.9 477.6h0M385.8 462.6h0M376.1 472.8h0M368.1 457.2h0M385.6 470.7h0M377.1 444.4h0M374.9 471.9h0M368.9 481.0h0M364.1 468.9h0M366.1 456.4h0M392.7 444.8h0M370.0 478.5h0M383.6 462.4h0M380.7 473.2h0M384.7 456.0h0M386.6 434.9h0M393.4 452.5h0M388.5 452.6h0M370.7 452.7h0M377.4 477.3h0M356.0 498.4h0M357.2 471.5h0M359.1 495.0h0M361.2 496.7h0M374.8 472.5h0M388.5 473.3h0M386.8 457.4h0M375.5 475.3h0M383.4 460.9h0M369.4 487.4h0M350.5 482.4h0M376.4 474.7h0M362.6 497.0h0M380.1 441.4h0M357.0 475.1h0M350.1 486.2h0M388.8 455.8h0M357.7 501.9h0M366.5 466.0h0M368.3 448.2h0M393.1 472.8h0M391.2 454.7h0M356.6 498.2h0M369.2 462.6h0M392.0 450.8h0M391.6 451.0h0M379.7 464.4h0M368.5 460.0h0M365.0 459.6h0M392.2 445.5h0M385.0 455.8h0M386.6 436.8h0M355.2 473.4h0M359.0 477.0h0M375.9 477.2h0M392.1 458.9h0M392.4 457.2h0M393.1 450.5h0M380.2 445.4h0M382.9 439.4h0M379.2 467.2h0M370.5 484.1h0M350.5 488.9h0M366.9 485.6h0M383.1 473.1h0M367.2 461.1h0M372.1 475.8h0M376.1 473.5h0M386.2 454.6h0M372.5 487.6h0M386.1 455.5h0M392.4 458.5h0M392.7 450.2h0M360.5 475.2h0M390.0 451.9h0M385.5 465.0h0M372.1 448.8h0M361.4 490.4h0M383.8 458.3h0M365.9 484.9h0M388.5 455.0h0M372.7 455.0h0M387.6 462.8h0M358.0 496.5h0M376.4 447.8h0M372.9 446.3h0M363.2 440.5h0M372.8 473.6h0M390.4 448.3h0M391.8 465.8h0M383.8 461.2h0M391.8 451.3h0M371.3 453.8h0M392.7 444.2h0M376.0 444.6h0M379.6 438.9h0M383.0 463.3h0M383.2 439.7h0M383.6 460.3h0M354.6 473.1h0M380.1 468.8h0M364.4 497.4h0M369.5 458.7h0M351.1 482.6h0M392.3 448.0h0M360.4 468.4h0M357.4 478.4h0M392.4 445.5h0M347.1 489.1h0M384.7 435.2h0M376.6 449.8h0M390.3 453.3h0M369.5 449.3h0M370.8 487.9h0M383.2 462.9h0M392.5 446.8h0M390.3 468.0h0M391.5 449.0h0M390.5 449.0h0M382.6 475.1h0M391.2 461.0h0M374.8 441.4h0M383.6 439.7h0M368.2 457.6h0M367.9 451.3h0M388.4 454.5h0M390.8 459.6h0M390.1 449.0h0M374.6 474.3h0M351.8 476.3h0M351.9 480.3h0M386.7 455.8h0M386.5 464.2h0M387.1 458.4h0M352.4 481.0h0M381.4 440.9h0M357.5 498.1h0M363.3 489.5h0M388.1 450.9h0M376.7 440.4h0M392.0 469.1h0M350.1 489.2h0M352.8 481.2h0M393.3 443.5h0M389.9 451.6h0M382.8 437.6h0M384.5 459.9h0M392.3 449.4h0M368.4 452.7h0M391.1 463.5h0M359.8 472.3h0M361.5 471.2h0M391.7 446.6h0M385.0 470.5h0M377.5 473.5h0M389.2 451.4h0M347.4 487.1h0M357.3 473.1h0M359.6 472.7h0M355.3 473.7h0M392.0 461.3h0M390.3 453.0h0M391.2 459.7h0M386.3 435.1h0M384.3 479.9h0M381.0 462.4h0M391.9 453.4h0M382.5 462.4h0M359.9 496.6h0M383.9 472.0h0M362.8 467.1h0M390.7 463.5h0M391.7 476.5h0M388.7 453.2h0M384.2 436.1h0M348.1 491.3h0M385.6 462.4h0M388.8 454.8h0M384.1 464.2h0M355.7 481.6h0M390.9 451.0h0M375.4 445.0h0M369.7 479.5h0M361.1 493.4h0M378.8 440.4h0M381.2 463.0h0M384.8 462.4h0M349.4 474.5h0M381.1 445.3h0M387.4 463.8h0M355.6 482.6h0M378.5 468.0h0M389.5 451.2h0M361.6 502.0h0M354.8 482.6h0M392.7 469.9h0M353.4 483.3h0M368.0 480.5h0M384.7 464.3h0M391.3 447.7h0M386.6 462.0h0M362.5 493.1h0M369.3 493.5h0M375.3 475.7h0M359.9 473.2h0M376.6 479.0h0M381.0 461.3h0M355.1 477.0h0M381.7 461.1h0M384.4 462.9h0M361.5 471.3h0M384.6 440.0h0M365.1 486.8h0M366.6 494.0h0M360.7 471.7h0M385.3 465.2h0M368.1 455.3h0M389.6 466.0h0M356.2 463.5h0M372.8 475.8h0M365.7 452.8h0M386.4 459.3h0M379.3 444.7h0M385.0 469.3h0M373.5 451.3h0M384.1 457.0h0M375.1 453.0h0M362.7 470.0h0M363.3 488.6h0M348.0 490.1h0M377.1 470.9h0M386.5 462.7h0M375.0 450.4h0M384.4 465.1h0M372.7 477.0h0M351.4 486.0h0M373.3 479.5h0M370.7 480.3h0M372.8 450.1h0M383.7 462.9h0M370.4 489.1h0M378.9 442.4h0M368.5 457.6h0M371.3 479.6h0M389.6 457.3h0M385.1 463.3h0M355.8 464.7h0M392.1 458.8h0M356.8 499.1h0M373.1 449.2h0M388.5 466.3h0M392.5 448.5h0M383.8 438.1h0M381.6 461.7h0M357.3 501.5h0M392.4 469.1h0M391.2 450.6h0M370.3 479.1h0M349.5 479.0h0M367.7 460.6h0M372.6 452.8h0M381.3 441.7h0M389.5 463.0h0M377.1 447.7h0M392.2 450.7h0M352.9 477.8h0M352.9 480.2h0M361.8 499.7h0M387.6 462.7h0M366.0 465.1h0M387.9 467.5h0M376.8 473.5h0M353.3 483.0h0M351.1 486.7h0M362.9 489.2h0M378.1 475.2h0M379.6 477.9h0M388.4 471.3h0M383.7 469.7h0M359.0 476.0h0M391.1 460.0h0M355.8 481.2h0M368.1 480.9h0M364.6 496.1h0M392.6 446.6h0M385.4 459.5h0M369.2 483.8h0M349.2 481.9h0M375.9 452.9h0M376.2 470.3h0M370.9 479.2h0M372.0 450.2h0M388.1 455.1h0M374.0 442.9h0M383.3 458.5h0M355.5 482.8h0M369.7 488.2h0M363.3 470.0h0M366.6 483.9h0M353.5 480.0h0M391.4 453.0h0M392.0 447.1h0M382.5 462.2h0M354.9 473.5h0M378.5 468.7h0M359.4 494.2h0M378.6 467.5h0M388.3 453.9h0M386.5 461.6h0M372.3 476.5h0M389.2 457.0h0M366.4 497.4h0M380.4 487.0h0M364.4 454.4h0M355.9 482.0h0M393.1 444.1h0M393.3 444.6h0M369.8 446.9h0M376.7 470.0h0M377.3 449.9h0M375.8 474.5h0M374.8 445.1h0M368.1 450.3h0M375.0 475.6h0M370.2 447.1h0M353.8 480.2h0M382.1 441.7h0M374.4 443.3h0M391.1 454.8h0M356.8 477.4h0M386.1 455.9h0M374.3 471.8h0M351.0 474.2h0M369.8 477.8h0M366.7 488.2h0M388.2 463.2h0M377.3 478.1h0M352.2 480.5h0M354.4 478.5h0M379.9 439.1h0M384.8 456.3h0M390.8 451.5h0M377.7 446.8h0M353.5 475.3h0M378.4 447.2h0M365.4 488.9h0M369.2 450.3h0M384.8 472.6h0M381.6 474.5h0M389.0 450.5h0M389.5 464.2h0M386.9 460.1h0M375.6 452.3h0M384.2 462.2h0M363.5 465.4h0M373.1 476.1h0M381.8 435.0h0M386.2 455.7h0M383.0 470.9h0M384.7 461.4h0M375.9 468.9h0M361.5 468.7h0M392.6 450.1h0M363.0 469.5h0M348.9 481.4h0M355.1 500.9h0M365.7 461.1h0M368.0 482.1h0M370.8 452.6h0M392.9 447.6h0M390.2 452.5h0M367.6 487.7h0M379.2 466.4h0M390.7 458.3h0M359.9 494.3h0M371.5 455.7h0M378.7 474.4h0M393.2 445.3h0M386.8 435.7h0M390.4 462.5h0M365.8 464.9h0M361.3 497.6h0M392.9 447.9h0M353.4 502.6h0M391.3 452.5h0M377.3 478.5h0M361.9 499.7h0M353.9 501.1h0M388.0 467.9h0M379.5 473.4h0M387.8 453.1h0M367.8 464.0h0M392.4 456.5h0M389.2 450.7h0M363.5 487.4h0M390.2 464.5h0M378.5 473.8h0M389.7 473.0h0M392.7 466.2h0M385.1 438.4h0M393.2 455.9h0M392.4 447.7h0M393.3 454.6h0M382.7 436.7h0M380.7 441.0h0M381.4 443.3h0M352.8 485.9h0M379.6 464.8h0M388.1 453.5h0M382.0 440.1h0M352.0 479.1h0M379.6 464.1h0M365.7 491.2h0M379.2 443.5h0M370.2 477.7h0M349.4 488.7h0M388.5 460.5h0M354.5 502.7h0M364.1 464.6h0M354.1 476.4h0M358.9 466.7h0M375.7 447.2h0M375.9 441.4h0M374.7 472.9h0M382.5 439.4h0M384.4 456.4h0M389.5 449.1h0M373.4 445.0h0M362.9 493.0h0M374.8 452.5h0M368.4 482.9h0M369.5 480.3h0M350.6 474.6h0M354.7 482.5h0M383.9 437.4h0M389.7 461.1h0M372.5 481.1h0M366.5 489.5h0M391.1 449.0h0M379.1 470.9h0M369.5 487.2h0" stroke="#9a46d4" stroke-width="2.20" stroke-linecap="round" fill="none"/>
<rect x="345.00" y="431.50" width="51.00" height="73.50" fill="none" stroke="#111" stroke-width="1.15"/>
<line x1="342.40" y1="502.80" x2="345.00" y2="502.80" stroke="#111" stroke-width="0.8"/>
<line x1="347.00" y1="505.00" x2="347.00" y2="507.80" stroke="#111" stroke-width="0.8"/>
<line x1="342.40" y1="485.80" x2="345.00" y2="485.80" stroke="#111" stroke-width="0.8"/>
<line x1="358.60" y1="505.00" x2="358.60" y2="507.80" stroke="#111" stroke-width="0.8"/>
<line x1="342.40" y1="468.80" x2="345.00" y2="468.80" stroke="#111" stroke-width="0.8"/>
<line x1="370.20" y1="505.00" x2="370.20" y2="507.80" stroke="#111" stroke-width="0.8"/>
<line x1="342.40" y1="451.80" x2="345.00" y2="451.80" stroke="#111" stroke-width="0.8"/>
<line x1="381.80" y1="505.00" x2="381.80" y2="507.80" stroke="#111" stroke-width="0.8"/>
<line x1="342.40" y1="434.80" x2="345.00" y2="434.80" stroke="#111" stroke-width="0.8"/>
<line x1="393.40" y1="505.00" x2="393.40" y2="507.80" stroke="#111" stroke-width="0.8"/>
<text x="370.50" y="427.80" font-size="7.7" text-anchor="middle">SE</text>
<rect x="0.5" y="0.5" width="519" height="522" fill="none" stroke="#000" stroke-width="1"/>
</svg>
</body></html>
